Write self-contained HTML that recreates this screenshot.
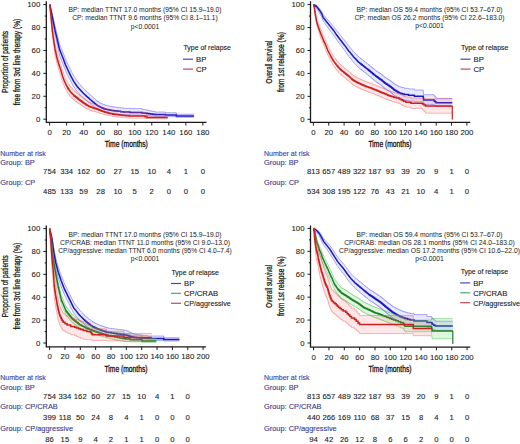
<!DOCTYPE html>
<html><head><meta charset="utf-8"><style>
html,body{margin:0;padding:0;background:#fff;width:520px;height:444px;overflow:hidden}
svg{display:block;font-family:"Liberation Sans", sans-serif}
text{stroke-width:0.12px}
</style></head><body>
<svg width="520" height="444" viewBox="0 0 520 444">
<rect width="520" height="444" fill="#fff"/>
<path d="M46.3,1.2 V122.3 H206.5" fill="none" stroke="#1a1a1a" stroke-width="1.3"/><line x1="43.3" y1="119.20" x2="46.3" y2="119.20" stroke="#1a1a1a" stroke-width="1"/><text x="40.3" y="121.85" font-size="7.8" text-anchor="end" fill="#222" stroke="#222" style="stroke-width:0.08px">0</text><line x1="44.699999999999996" y1="107.74" x2="46.3" y2="107.74" stroke="#1a1a1a" stroke-width="1"/><line x1="43.3" y1="96.28" x2="46.3" y2="96.28" stroke="#1a1a1a" stroke-width="1"/><text x="40.3" y="98.93" font-size="7.8" text-anchor="end" fill="#222" stroke="#222" style="stroke-width:0.08px">20</text><line x1="44.699999999999996" y1="84.82" x2="46.3" y2="84.82" stroke="#1a1a1a" stroke-width="1"/><line x1="43.3" y1="73.36" x2="46.3" y2="73.36" stroke="#1a1a1a" stroke-width="1"/><text x="40.3" y="76.01" font-size="7.8" text-anchor="end" fill="#222" stroke="#222" style="stroke-width:0.08px">40</text><line x1="44.699999999999996" y1="61.90" x2="46.3" y2="61.90" stroke="#1a1a1a" stroke-width="1"/><line x1="43.3" y1="50.44" x2="46.3" y2="50.44" stroke="#1a1a1a" stroke-width="1"/><text x="40.3" y="53.09" font-size="7.8" text-anchor="end" fill="#222" stroke="#222" style="stroke-width:0.08px">60</text><line x1="44.699999999999996" y1="38.98" x2="46.3" y2="38.98" stroke="#1a1a1a" stroke-width="1"/><line x1="43.3" y1="27.52" x2="46.3" y2="27.52" stroke="#1a1a1a" stroke-width="1"/><text x="40.3" y="30.17" font-size="7.8" text-anchor="end" fill="#222" stroke="#222" style="stroke-width:0.08px">80</text><line x1="44.699999999999996" y1="16.06" x2="46.3" y2="16.06" stroke="#1a1a1a" stroke-width="1"/><line x1="43.3" y1="4.60" x2="46.3" y2="4.60" stroke="#1a1a1a" stroke-width="1"/><text x="40.3" y="7.25" font-size="7.8" text-anchor="end" fill="#222" stroke="#222" style="stroke-width:0.08px">100</text><line x1="49.60" y1="122.3" x2="49.60" y2="125.5" stroke="#1a1a1a" stroke-width="1"/><text x="49.6" y="134.8" font-size="7.8" text-anchor="middle" fill="#222" stroke="#222" style="stroke-width:0.08px">0</text><line x1="66.63" y1="122.3" x2="66.63" y2="125.5" stroke="#1a1a1a" stroke-width="1"/><text x="66.63" y="134.8" font-size="7.8" text-anchor="middle" fill="#222" stroke="#222" style="stroke-width:0.08px">20</text><line x1="83.66" y1="122.3" x2="83.66" y2="125.5" stroke="#1a1a1a" stroke-width="1"/><text x="83.66" y="134.8" font-size="7.8" text-anchor="middle" fill="#222" stroke="#222" style="stroke-width:0.08px">40</text><line x1="100.69" y1="122.3" x2="100.69" y2="125.5" stroke="#1a1a1a" stroke-width="1"/><text x="100.69" y="134.8" font-size="7.8" text-anchor="middle" fill="#222" stroke="#222" style="stroke-width:0.08px">60</text><line x1="117.72" y1="122.3" x2="117.72" y2="125.5" stroke="#1a1a1a" stroke-width="1"/><text x="117.72" y="134.8" font-size="7.8" text-anchor="middle" fill="#222" stroke="#222" style="stroke-width:0.08px">80</text><line x1="134.75" y1="122.3" x2="134.75" y2="125.5" stroke="#1a1a1a" stroke-width="1"/><text x="134.75" y="134.8" font-size="7.8" text-anchor="middle" fill="#222" stroke="#222" style="stroke-width:0.08px">100</text><line x1="151.78" y1="122.3" x2="151.78" y2="125.5" stroke="#1a1a1a" stroke-width="1"/><text x="151.78" y="134.8" font-size="7.8" text-anchor="middle" fill="#222" stroke="#222" style="stroke-width:0.08px">120</text><line x1="168.81" y1="122.3" x2="168.81" y2="125.5" stroke="#1a1a1a" stroke-width="1"/><text x="168.81" y="134.8" font-size="7.8" text-anchor="middle" fill="#222" stroke="#222" style="stroke-width:0.08px">140</text><line x1="185.84" y1="122.3" x2="185.84" y2="125.5" stroke="#1a1a1a" stroke-width="1"/><text x="185.84" y="134.8" font-size="7.8" text-anchor="middle" fill="#222" stroke="#222" style="stroke-width:0.08px">160</text><line x1="202.87" y1="122.3" x2="202.87" y2="125.5" stroke="#1a1a1a" stroke-width="1"/><text x="202.87" y="134.8" font-size="7.8" text-anchor="middle" fill="#222" stroke="#222" style="stroke-width:0.08px">180</text><path d="M310.5,1.2 V122.4 H470.3" fill="none" stroke="#1a1a1a" stroke-width="1.3"/><line x1="307.5" y1="119.30" x2="310.5" y2="119.30" stroke="#1a1a1a" stroke-width="1"/><text x="304.5" y="121.95" font-size="7.8" text-anchor="end" fill="#222" stroke="#222" style="stroke-width:0.08px">0</text><line x1="308.9" y1="107.83" x2="310.5" y2="107.83" stroke="#1a1a1a" stroke-width="1"/><line x1="307.5" y1="96.36" x2="310.5" y2="96.36" stroke="#1a1a1a" stroke-width="1"/><text x="304.5" y="99.01" font-size="7.8" text-anchor="end" fill="#222" stroke="#222" style="stroke-width:0.08px">20</text><line x1="308.9" y1="84.89" x2="310.5" y2="84.89" stroke="#1a1a1a" stroke-width="1"/><line x1="307.5" y1="73.42" x2="310.5" y2="73.42" stroke="#1a1a1a" stroke-width="1"/><text x="304.5" y="76.07" font-size="7.8" text-anchor="end" fill="#222" stroke="#222" style="stroke-width:0.08px">40</text><line x1="308.9" y1="61.95" x2="310.5" y2="61.95" stroke="#1a1a1a" stroke-width="1"/><line x1="307.5" y1="50.48" x2="310.5" y2="50.48" stroke="#1a1a1a" stroke-width="1"/><text x="304.5" y="53.13" font-size="7.8" text-anchor="end" fill="#222" stroke="#222" style="stroke-width:0.08px">60</text><line x1="308.9" y1="39.01" x2="310.5" y2="39.01" stroke="#1a1a1a" stroke-width="1"/><line x1="307.5" y1="27.54" x2="310.5" y2="27.54" stroke="#1a1a1a" stroke-width="1"/><text x="304.5" y="30.19" font-size="7.8" text-anchor="end" fill="#222" stroke="#222" style="stroke-width:0.08px">80</text><line x1="308.9" y1="16.07" x2="310.5" y2="16.07" stroke="#1a1a1a" stroke-width="1"/><line x1="307.5" y1="4.60" x2="310.5" y2="4.60" stroke="#1a1a1a" stroke-width="1"/><text x="304.5" y="7.25" font-size="7.8" text-anchor="end" fill="#222" stroke="#222" style="stroke-width:0.08px">100</text><line x1="313.40" y1="122.4" x2="313.40" y2="125.60000000000001" stroke="#1a1a1a" stroke-width="1"/><text x="313.4" y="134.9" font-size="7.8" text-anchor="middle" fill="#222" stroke="#222" style="stroke-width:0.08px">0</text><line x1="328.75" y1="122.4" x2="328.75" y2="125.60000000000001" stroke="#1a1a1a" stroke-width="1"/><text x="328.75" y="134.9" font-size="7.8" text-anchor="middle" fill="#222" stroke="#222" style="stroke-width:0.08px">20</text><line x1="344.10" y1="122.4" x2="344.10" y2="125.60000000000001" stroke="#1a1a1a" stroke-width="1"/><text x="344.1" y="134.9" font-size="7.8" text-anchor="middle" fill="#222" stroke="#222" style="stroke-width:0.08px">40</text><line x1="359.45" y1="122.4" x2="359.45" y2="125.60000000000001" stroke="#1a1a1a" stroke-width="1"/><text x="359.45" y="134.9" font-size="7.8" text-anchor="middle" fill="#222" stroke="#222" style="stroke-width:0.08px">60</text><line x1="374.80" y1="122.4" x2="374.80" y2="125.60000000000001" stroke="#1a1a1a" stroke-width="1"/><text x="374.8" y="134.9" font-size="7.8" text-anchor="middle" fill="#222" stroke="#222" style="stroke-width:0.08px">80</text><line x1="390.15" y1="122.4" x2="390.15" y2="125.60000000000001" stroke="#1a1a1a" stroke-width="1"/><text x="390.15" y="134.9" font-size="7.8" text-anchor="middle" fill="#222" stroke="#222" style="stroke-width:0.08px">100</text><line x1="405.50" y1="122.4" x2="405.50" y2="125.60000000000001" stroke="#1a1a1a" stroke-width="1"/><text x="405.5" y="134.9" font-size="7.8" text-anchor="middle" fill="#222" stroke="#222" style="stroke-width:0.08px">120</text><line x1="420.85" y1="122.4" x2="420.85" y2="125.60000000000001" stroke="#1a1a1a" stroke-width="1"/><text x="420.85" y="134.9" font-size="7.8" text-anchor="middle" fill="#222" stroke="#222" style="stroke-width:0.08px">140</text><line x1="436.20" y1="122.4" x2="436.20" y2="125.60000000000001" stroke="#1a1a1a" stroke-width="1"/><text x="436.2" y="134.9" font-size="7.8" text-anchor="middle" fill="#222" stroke="#222" style="stroke-width:0.08px">160</text><line x1="451.55" y1="122.4" x2="451.55" y2="125.60000000000001" stroke="#1a1a1a" stroke-width="1"/><text x="451.55" y="134.9" font-size="7.8" text-anchor="middle" fill="#222" stroke="#222" style="stroke-width:0.08px">180</text><line x1="466.90" y1="122.4" x2="466.90" y2="125.60000000000001" stroke="#1a1a1a" stroke-width="1"/><text x="466.9" y="134.9" font-size="7.8" text-anchor="middle" fill="#222" stroke="#222" style="stroke-width:0.08px">200</text><path d="M46.3,225.5 V346.8 H206.0" fill="none" stroke="#1a1a1a" stroke-width="1.3"/><line x1="43.3" y1="343.00" x2="46.3" y2="343.00" stroke="#1a1a1a" stroke-width="1"/><text x="40.3" y="345.65" font-size="7.8" text-anchor="end" fill="#222" stroke="#222" style="stroke-width:0.08px">0</text><line x1="44.699999999999996" y1="331.56" x2="46.3" y2="331.56" stroke="#1a1a1a" stroke-width="1"/><line x1="43.3" y1="320.12" x2="46.3" y2="320.12" stroke="#1a1a1a" stroke-width="1"/><text x="40.3" y="322.77" font-size="7.8" text-anchor="end" fill="#222" stroke="#222" style="stroke-width:0.08px">20</text><line x1="44.699999999999996" y1="308.68" x2="46.3" y2="308.68" stroke="#1a1a1a" stroke-width="1"/><line x1="43.3" y1="297.24" x2="46.3" y2="297.24" stroke="#1a1a1a" stroke-width="1"/><text x="40.3" y="299.89" font-size="7.8" text-anchor="end" fill="#222" stroke="#222" style="stroke-width:0.08px">40</text><line x1="44.699999999999996" y1="285.80" x2="46.3" y2="285.80" stroke="#1a1a1a" stroke-width="1"/><line x1="43.3" y1="274.36" x2="46.3" y2="274.36" stroke="#1a1a1a" stroke-width="1"/><text x="40.3" y="277.01" font-size="7.8" text-anchor="end" fill="#222" stroke="#222" style="stroke-width:0.08px">60</text><line x1="44.699999999999996" y1="262.92" x2="46.3" y2="262.92" stroke="#1a1a1a" stroke-width="1"/><line x1="43.3" y1="251.48" x2="46.3" y2="251.48" stroke="#1a1a1a" stroke-width="1"/><text x="40.3" y="254.13" font-size="7.8" text-anchor="end" fill="#222" stroke="#222" style="stroke-width:0.08px">80</text><line x1="44.699999999999996" y1="240.04" x2="46.3" y2="240.04" stroke="#1a1a1a" stroke-width="1"/><line x1="43.3" y1="228.60" x2="46.3" y2="228.60" stroke="#1a1a1a" stroke-width="1"/><text x="40.3" y="231.25" font-size="7.8" text-anchor="end" fill="#222" stroke="#222" style="stroke-width:0.08px">100</text><line x1="49.60" y1="346.8" x2="49.60" y2="350.0" stroke="#1a1a1a" stroke-width="1"/><text x="49.6" y="359.3" font-size="7.8" text-anchor="middle" fill="#222" stroke="#222" style="stroke-width:0.08px">0</text><line x1="64.95" y1="346.8" x2="64.95" y2="350.0" stroke="#1a1a1a" stroke-width="1"/><text x="64.95" y="359.3" font-size="7.8" text-anchor="middle" fill="#222" stroke="#222" style="stroke-width:0.08px">20</text><line x1="80.30" y1="346.8" x2="80.30" y2="350.0" stroke="#1a1a1a" stroke-width="1"/><text x="80.3" y="359.3" font-size="7.8" text-anchor="middle" fill="#222" stroke="#222" style="stroke-width:0.08px">40</text><line x1="95.65" y1="346.8" x2="95.65" y2="350.0" stroke="#1a1a1a" stroke-width="1"/><text x="95.65" y="359.3" font-size="7.8" text-anchor="middle" fill="#222" stroke="#222" style="stroke-width:0.08px">60</text><line x1="111.00" y1="346.8" x2="111.00" y2="350.0" stroke="#1a1a1a" stroke-width="1"/><text x="111.0" y="359.3" font-size="7.8" text-anchor="middle" fill="#222" stroke="#222" style="stroke-width:0.08px">80</text><line x1="126.35" y1="346.8" x2="126.35" y2="350.0" stroke="#1a1a1a" stroke-width="1"/><text x="126.35" y="359.3" font-size="7.8" text-anchor="middle" fill="#222" stroke="#222" style="stroke-width:0.08px">100</text><line x1="141.70" y1="346.8" x2="141.70" y2="350.0" stroke="#1a1a1a" stroke-width="1"/><text x="141.7" y="359.3" font-size="7.8" text-anchor="middle" fill="#222" stroke="#222" style="stroke-width:0.08px">120</text><line x1="157.05" y1="346.8" x2="157.05" y2="350.0" stroke="#1a1a1a" stroke-width="1"/><text x="157.05" y="359.3" font-size="7.8" text-anchor="middle" fill="#222" stroke="#222" style="stroke-width:0.08px">140</text><line x1="172.40" y1="346.8" x2="172.40" y2="350.0" stroke="#1a1a1a" stroke-width="1"/><text x="172.4" y="359.3" font-size="7.8" text-anchor="middle" fill="#222" stroke="#222" style="stroke-width:0.08px">160</text><line x1="187.75" y1="346.8" x2="187.75" y2="350.0" stroke="#1a1a1a" stroke-width="1"/><text x="187.75" y="359.3" font-size="7.8" text-anchor="middle" fill="#222" stroke="#222" style="stroke-width:0.08px">180</text><line x1="203.10" y1="346.8" x2="203.10" y2="350.0" stroke="#1a1a1a" stroke-width="1"/><text x="203.1" y="359.3" font-size="7.8" text-anchor="middle" fill="#222" stroke="#222" style="stroke-width:0.08px">200</text><path d="M310.5,225.5 V347.1 H470.3" fill="none" stroke="#1a1a1a" stroke-width="1.3"/><line x1="307.5" y1="343.00" x2="310.5" y2="343.00" stroke="#1a1a1a" stroke-width="1"/><text x="304.5" y="345.65" font-size="7.8" text-anchor="end" fill="#222" stroke="#222" style="stroke-width:0.08px">0</text><line x1="308.9" y1="331.54" x2="310.5" y2="331.54" stroke="#1a1a1a" stroke-width="1"/><line x1="307.5" y1="320.08" x2="310.5" y2="320.08" stroke="#1a1a1a" stroke-width="1"/><text x="304.5" y="322.73" font-size="7.8" text-anchor="end" fill="#222" stroke="#222" style="stroke-width:0.08px">20</text><line x1="308.9" y1="308.62" x2="310.5" y2="308.62" stroke="#1a1a1a" stroke-width="1"/><line x1="307.5" y1="297.16" x2="310.5" y2="297.16" stroke="#1a1a1a" stroke-width="1"/><text x="304.5" y="299.81" font-size="7.8" text-anchor="end" fill="#222" stroke="#222" style="stroke-width:0.08px">40</text><line x1="308.9" y1="285.70" x2="310.5" y2="285.70" stroke="#1a1a1a" stroke-width="1"/><line x1="307.5" y1="274.24" x2="310.5" y2="274.24" stroke="#1a1a1a" stroke-width="1"/><text x="304.5" y="276.89" font-size="7.8" text-anchor="end" fill="#222" stroke="#222" style="stroke-width:0.08px">60</text><line x1="308.9" y1="262.78" x2="310.5" y2="262.78" stroke="#1a1a1a" stroke-width="1"/><line x1="307.5" y1="251.32" x2="310.5" y2="251.32" stroke="#1a1a1a" stroke-width="1"/><text x="304.5" y="253.97" font-size="7.8" text-anchor="end" fill="#222" stroke="#222" style="stroke-width:0.08px">80</text><line x1="308.9" y1="239.86" x2="310.5" y2="239.86" stroke="#1a1a1a" stroke-width="1"/><line x1="307.5" y1="228.40" x2="310.5" y2="228.40" stroke="#1a1a1a" stroke-width="1"/><text x="304.5" y="231.05" font-size="7.8" text-anchor="end" fill="#222" stroke="#222" style="stroke-width:0.08px">100</text><line x1="313.60" y1="347.1" x2="313.60" y2="350.3" stroke="#1a1a1a" stroke-width="1"/><text x="313.6" y="359.6" font-size="7.8" text-anchor="middle" fill="#222" stroke="#222" style="stroke-width:0.08px">0</text><line x1="328.95" y1="347.1" x2="328.95" y2="350.3" stroke="#1a1a1a" stroke-width="1"/><text x="328.95" y="359.6" font-size="7.8" text-anchor="middle" fill="#222" stroke="#222" style="stroke-width:0.08px">20</text><line x1="344.30" y1="347.1" x2="344.30" y2="350.3" stroke="#1a1a1a" stroke-width="1"/><text x="344.3" y="359.6" font-size="7.8" text-anchor="middle" fill="#222" stroke="#222" style="stroke-width:0.08px">40</text><line x1="359.65" y1="347.1" x2="359.65" y2="350.3" stroke="#1a1a1a" stroke-width="1"/><text x="359.65" y="359.6" font-size="7.8" text-anchor="middle" fill="#222" stroke="#222" style="stroke-width:0.08px">60</text><line x1="375.00" y1="347.1" x2="375.00" y2="350.3" stroke="#1a1a1a" stroke-width="1"/><text x="375.0" y="359.6" font-size="7.8" text-anchor="middle" fill="#222" stroke="#222" style="stroke-width:0.08px">80</text><line x1="390.35" y1="347.1" x2="390.35" y2="350.3" stroke="#1a1a1a" stroke-width="1"/><text x="390.35" y="359.6" font-size="7.8" text-anchor="middle" fill="#222" stroke="#222" style="stroke-width:0.08px">100</text><line x1="405.70" y1="347.1" x2="405.70" y2="350.3" stroke="#1a1a1a" stroke-width="1"/><text x="405.7" y="359.6" font-size="7.8" text-anchor="middle" fill="#222" stroke="#222" style="stroke-width:0.08px">120</text><line x1="421.05" y1="347.1" x2="421.05" y2="350.3" stroke="#1a1a1a" stroke-width="1"/><text x="421.05" y="359.6" font-size="7.8" text-anchor="middle" fill="#222" stroke="#222" style="stroke-width:0.08px">140</text><line x1="436.40" y1="347.1" x2="436.40" y2="350.3" stroke="#1a1a1a" stroke-width="1"/><text x="436.4" y="359.6" font-size="7.8" text-anchor="middle" fill="#222" stroke="#222" style="stroke-width:0.08px">160</text><line x1="451.75" y1="347.1" x2="451.75" y2="350.3" stroke="#1a1a1a" stroke-width="1"/><text x="451.75" y="359.6" font-size="7.8" text-anchor="middle" fill="#222" stroke="#222" style="stroke-width:0.08px">180</text><line x1="467.10" y1="347.1" x2="467.10" y2="350.3" stroke="#1a1a1a" stroke-width="1"/><text x="467.1" y="359.6" font-size="7.8" text-anchor="middle" fill="#222" stroke="#222" style="stroke-width:0.08px">200</text><polygon points="49.6,4.6 49.9,4.7 50.3,5.8 51.4,10.0 55.0,25.7 59.7,44.6 62.9,52.1 65.7,59.6 70.5,69.8 73.7,75.8 77.7,81.9 77.9,81.9 79.9,84.5 80.5,85.0 81.3,86.1 82.3,86.9 82.4,87.3 85.0,89.8 85.7,90.7 85.9,90.7 86.2,91.2 86.4,91.2 86.6,91.6 86.8,91.6 87.6,92.5 87.8,92.5 88.0,92.8 88.4,93.0 88.6,93.4 88.8,93.4 89.4,94.1 90.0,94.5 90.2,94.9 90.4,94.9 90.8,95.5 91.0,95.5 91.0,95.6 91.2,95.6 91.4,96.0 91.8,96.2 92.0,96.6 92.3,96.6 92.7,97.2 92.9,97.2 93.4,97.8 93.6,97.8 93.6,98.0 93.8,98.0 93.8,98.2 94.0,98.2 94.5,98.8 94.7,98.8 95.2,99.4 95.4,99.4 95.4,99.6 95.6,99.6 96.0,100.2 96.3,100.2 96.5,100.6 97.1,100.8 97.1,101.1 97.5,101.1 97.5,101.3 97.8,101.3 97.8,101.5 98.1,101.5 98.1,101.7 98.4,101.7 98.4,101.9 98.7,101.9 98.7,102.1 99.0,102.1 99.0,102.3 99.3,102.3 99.3,102.5 99.7,102.5 99.7,102.7 100.0,102.7 100.0,103.0 100.3,103.0 100.3,103.2 101.3,103.4 101.3,103.6 101.8,103.6 101.8,103.8 102.4,103.8 102.4,104.1 102.9,104.1 102.9,104.3 103.5,104.3 103.5,104.5 104.1,104.5 104.1,104.7 104.6,104.7 104.6,105.0 105.2,105.0 105.2,105.2 105.8,105.2 105.8,105.4 108.0,105.7 108.0,105.9 109.2,105.9 109.2,106.2 110.4,106.2 110.4,106.4 111.7,106.4 111.7,106.7 113.5,106.7 113.5,107.0 115.7,107.0 115.7,107.3 118.0,107.3 118.0,107.6 120.7,107.6 120.7,107.9 123.5,107.9 123.5,108.3 130.0,108.3 130.0,108.6 142.1,108.6 142.1,109.5 145.5,109.5 145.5,109.9 147.2,109.9 147.2,110.3 148.9,110.3 148.9,110.7 150.6,110.7 150.6,111.1 152.7,111.1 152.7,111.5 154.9,111.5 154.9,112.0 165.4,112.0 165.4,112.7 176.3,112.7 176.3,114.2 194.0,114.2 194.0,117.3 176.3,117.3 176.3,116.7 165.4,116.7 165.4,116.5 154.9,116.5 154.9,116.3 150.6,116.1 150.6,116.0 148.9,116.0 148.9,115.8 147.2,115.8 147.2,115.6 145.5,115.6 145.5,115.5 142.1,115.5 142.1,115.2 130.0,115.2 130.0,114.8 123.5,114.8 123.5,114.5 120.7,114.5 120.7,114.2 118.0,114.2 118.0,113.9 115.7,113.9 115.7,113.7 113.5,113.7 113.5,113.4 111.7,113.4 111.7,113.2 110.4,113.2 110.4,113.0 109.2,113.0 109.2,112.8 108.0,112.8 108.0,112.6 105.8,112.4 105.8,112.2 105.2,112.2 105.2,112.1 104.6,112.1 104.6,111.9 104.1,111.9 104.1,111.7 103.5,111.7 103.5,111.5 102.9,111.5 102.9,111.3 101.3,111.0 101.3,110.8 100.3,110.6 100.3,110.5 100.0,110.5 99.7,110.1 99.3,110.1 99.0,109.8 98.7,109.8 98.4,109.4 98.1,109.4 98.1,109.3 97.8,109.3 97.5,108.9 96.5,108.6 96.3,108.2 96.0,108.2 95.6,107.7 95.4,107.7 94.7,107.1 94.5,107.1 94.0,106.5 93.8,106.5 93.6,106.2 92.9,105.9 92.9,105.7 92.7,105.7 92.7,105.5 91.4,104.7 91.2,104.4 90.2,103.7 90.0,103.4 89.4,103.0 89.2,102.7 88.6,102.4 88.4,102.1 88.0,101.9 87.8,101.6 87.6,101.6 87.4,101.3 87.2,101.3 87.0,101.0 86.6,100.8 86.4,100.5 86.2,100.5 85.9,100.0 85.2,99.6 85.0,99.3 81.3,96.0 77.2,91.6 73.7,86.6 70.5,81.0 65.7,71.1 59.6,55.5 55.0,35.4 50.8,13.0 49.9,6.8 49.8,6.7 49.7,7.0 49.7,4.6 49.6,4.6" fill="rgba(95,95,255,0.14)" stroke="none"/><polyline points="49.6,4.6 49.9,4.7 50.3,5.8 51.4,10.0 55.0,25.7 59.7,44.6 62.9,52.1 65.7,59.6 70.5,69.8 73.7,75.8 77.7,81.9 77.9,81.9 79.9,84.5 80.5,85.0 81.3,86.1 82.3,86.9 82.4,87.3 85.0,89.8 85.7,90.7 85.9,90.7 86.2,91.2 86.4,91.2 86.6,91.6 86.8,91.6 87.6,92.5 87.8,92.5 88.0,92.8 88.4,93.0 88.6,93.4 88.8,93.4 89.4,94.1 90.0,94.5 90.2,94.9 90.4,94.9 90.8,95.5 91.0,95.5 91.0,95.6 91.2,95.6 91.4,96.0 91.8,96.2 92.0,96.6 92.3,96.6 92.7,97.2 92.9,97.2 93.4,97.8 93.6,97.8 93.6,98.0 93.8,98.0 93.8,98.2 94.0,98.2 94.5,98.8 94.7,98.8 95.2,99.4 95.4,99.4 95.4,99.6 95.6,99.6 96.0,100.2 96.3,100.2 96.5,100.6 97.1,100.8 97.1,101.1 97.5,101.1 97.5,101.3 97.8,101.3 97.8,101.5 98.1,101.5 98.1,101.7 98.4,101.7 98.4,101.9 98.7,101.9 98.7,102.1 99.0,102.1 99.0,102.3 99.3,102.3 99.3,102.5 99.7,102.5 99.7,102.7 100.0,102.7 100.0,103.0 100.3,103.0 100.3,103.2 101.3,103.4 101.3,103.6 101.8,103.6 101.8,103.8 102.4,103.8 102.4,104.1 102.9,104.1 102.9,104.3 103.5,104.3 103.5,104.5 104.1,104.5 104.1,104.7 104.6,104.7 104.6,105.0 105.2,105.0 105.2,105.2 105.8,105.2 105.8,105.4 108.0,105.7 108.0,105.9 109.2,105.9 109.2,106.2 110.4,106.2 110.4,106.4 111.7,106.4 111.7,106.7 113.5,106.7 113.5,107.0 115.7,107.0 115.7,107.3 118.0,107.3 118.0,107.6 120.7,107.6 120.7,107.9 123.5,107.9 123.5,108.3 130.0,108.3 130.0,108.6 142.1,108.6 142.1,109.5 145.5,109.5 145.5,109.9 147.2,109.9 147.2,110.3 148.9,110.3 148.9,110.7 150.6,110.7 150.6,111.1 152.7,111.1 152.7,111.5 154.9,111.5 154.9,112.0 165.4,112.0 165.4,112.7 176.3,112.7 176.3,114.2 194.0,114.2" fill="none" stroke="rgba(70,70,240,0.55)" stroke-width="0.8"/><polyline points="49.6,4.6 49.7,4.6 49.7,7.0 49.8,6.7 49.9,6.8 50.8,13.0 55.0,35.4 59.6,55.5 65.7,71.1 70.5,81.0 73.7,86.6 77.2,91.6 81.3,96.0 85.0,99.3 85.2,99.6 85.9,100.0 86.2,100.5 86.4,100.5 86.6,100.8 87.0,101.0 87.2,101.3 87.4,101.3 87.6,101.6 87.8,101.6 88.0,101.9 88.4,102.1 88.6,102.4 89.2,102.7 89.4,103.0 90.0,103.4 90.2,103.7 91.2,104.4 91.4,104.7 92.7,105.5 92.7,105.7 92.9,105.7 92.9,105.9 93.6,106.2 93.8,106.5 94.0,106.5 94.5,107.1 94.7,107.1 95.4,107.7 95.6,107.7 96.0,108.2 96.3,108.2 96.5,108.6 97.5,108.9 97.8,109.3 98.1,109.3 98.1,109.4 98.4,109.4 98.7,109.8 99.0,109.8 99.3,110.1 99.7,110.1 100.0,110.5 100.3,110.5 100.3,110.6 101.3,110.8 101.3,111.0 102.9,111.3 102.9,111.5 103.5,111.5 103.5,111.7 104.1,111.7 104.1,111.9 104.6,111.9 104.6,112.1 105.2,112.1 105.2,112.2 105.8,112.2 105.8,112.4 108.0,112.6 108.0,112.8 109.2,112.8 109.2,113.0 110.4,113.0 110.4,113.2 111.7,113.2 111.7,113.4 113.5,113.4 113.5,113.7 115.7,113.7 115.7,113.9 118.0,113.9 118.0,114.2 120.7,114.2 120.7,114.5 123.5,114.5 123.5,114.8 130.0,114.8 130.0,115.2 142.1,115.2 142.1,115.5 145.5,115.5 145.5,115.6 147.2,115.6 147.2,115.8 148.9,115.8 148.9,116.0 150.6,116.0 150.6,116.1 154.9,116.3 154.9,116.5 165.4,116.5 165.4,116.7 176.3,116.7 176.3,117.3 194.0,117.3" fill="none" stroke="rgba(70,70,240,0.55)" stroke-width="0.8"/><polyline points="49.6,4.6 49.9,5.1 51.4,12.4 55.0,30.2 59.6,49.6 63.2,58.5 65.4,64.6 68.0,70.2 70.5,75.4 73.7,81.3 77.2,86.5 80.3,90.1 80.5,90.1 81.3,91.2 82.3,92.0 82.4,92.3 85.0,94.7 85.7,95.5 85.9,95.5 86.2,96.0 87.0,96.5 87.6,97.2 87.8,97.2 88.0,97.6 88.4,97.7 88.6,98.1 88.8,98.1 89.4,98.8 90.0,99.1 90.2,99.5 91.2,100.2 91.4,100.6 92.3,101.1 92.7,101.7 92.9,101.7 93.4,102.3 93.6,102.3 93.6,102.4 93.8,102.4 93.8,102.6 94.0,102.6 94.5,103.2 94.7,103.2 95.2,103.8 95.4,103.8 95.4,103.9 95.6,103.9 96.0,104.5 96.3,104.5 96.5,104.9 97.1,105.1 97.1,105.3 97.5,105.3 97.8,105.7 98.1,105.7 98.1,105.9 98.4,105.9 98.7,106.2 99.0,106.2 99.3,106.6 99.7,106.6 100.0,107.0 100.3,107.0 100.3,107.2 101.3,107.4 101.3,107.6 101.8,107.6 101.8,107.8 102.4,107.8 102.4,108.0 102.9,108.0 102.9,108.2 103.5,108.2 103.5,108.5 104.1,108.5 104.1,108.7 104.6,108.7 104.6,108.9 105.2,108.9 105.2,109.1 105.8,109.1 105.8,109.3 108.0,109.5 108.0,109.7 109.2,109.7 109.2,110.0 110.4,110.0 110.4,110.2 111.7,110.2 111.7,110.5 113.5,110.5 113.5,110.7 115.7,110.7 115.7,111.0 118.0,111.0 118.0,111.3 120.7,111.3 120.7,111.7 123.5,111.7 123.5,112.0 130.0,112.0 130.0,112.4 142.1,112.4 142.1,112.9 145.5,112.9 145.5,113.2 147.2,113.2 147.2,113.5 148.9,113.5 148.9,113.8 150.6,113.8 150.6,114.0 152.7,114.0 152.7,114.3 154.9,114.3 154.9,114.6 165.4,114.6 165.4,115.1 176.3,115.1 176.3,116.0 194.0,116.0" fill="none" stroke="#1a1abe" stroke-width="1.5" stroke-linejoin="miter"/><polygon points="49.6,4.6 49.8,4.6 49.9,5.3 50.7,10.2 52.3,25.7 53.4,33.5 55.0,43.6 57.0,52.4 58.9,58.9 60.9,64.5 62.5,70.3 64.8,76.7 65.7,78.2 65.8,78.8 67.6,82.4 67.7,82.4 68.2,83.4 68.4,83.4 68.4,83.7 68.6,83.7 69.1,84.7 69.3,84.7 69.3,85.0 69.4,85.0 69.4,85.2 69.7,85.2 70.2,86.3 70.3,86.3 70.3,86.5 70.5,86.5 70.5,86.8 70.7,86.8 70.7,87.1 70.9,87.1 71.2,87.6 71.4,87.6 71.7,88.1 72.0,88.1 72.0,88.4 72.2,88.4 72.4,88.9 72.7,88.9 72.9,89.4 73.2,89.4 73.2,89.7 73.4,89.7 73.7,90.2 74.0,90.2 74.0,90.5 74.2,90.5 74.2,90.8 74.5,90.8 74.5,91.1 74.8,91.1 74.8,91.3 75.2,91.3 75.2,91.6 75.5,91.6 75.5,91.9 75.8,91.9 75.8,92.2 76.2,92.2 76.2,92.4 76.5,92.4 76.5,92.7 76.8,92.7 76.8,93.0 77.1,93.0 77.1,93.3 77.5,93.3 77.5,93.6 77.8,93.6 77.8,93.8 78.2,93.8 78.2,94.1 78.5,94.1 78.5,94.4 78.8,94.4 78.8,94.7 79.2,94.7 79.2,95.0 79.6,95.0 79.6,95.3 80.0,95.3 80.0,95.6 80.3,95.6 80.3,95.9 80.7,95.9 80.7,96.2 81.1,96.2 81.1,96.5 81.4,96.5 81.4,96.7 81.8,96.7 81.8,97.0 82.2,97.0 82.2,97.3 82.6,97.3 82.6,97.6 82.9,97.6 82.9,97.9 83.3,97.9 83.3,98.2 83.7,98.2 83.7,98.5 84.0,98.5 84.0,98.8 84.4,98.8 84.4,99.1 84.9,99.1 84.9,99.4 85.3,99.4 85.3,99.7 85.7,99.7 85.7,100.0 86.2,100.0 86.2,100.4 86.6,100.4 86.6,100.7 87.1,100.7 87.1,101.0 87.5,101.0 87.5,101.3 88.0,101.3 88.0,101.6 88.4,101.6 88.4,101.9 88.9,101.9 88.9,102.2 89.6,102.2 89.6,102.5 90.3,102.5 90.3,102.8 91.1,102.8 91.1,103.1 91.8,103.1 91.8,103.5 92.6,103.5 92.6,103.8 93.6,103.8 93.6,104.1 94.6,104.1 94.6,104.4 95.7,104.4 95.7,104.8 96.7,104.8 96.7,105.1 97.5,105.1 97.5,105.5 98.3,105.5 98.3,105.8 99.0,105.8 99.0,106.2 99.8,106.2 99.8,106.5 100.6,106.5 100.6,106.9 101.4,106.9 101.4,107.2 102.2,107.2 102.2,107.6 103.3,107.6 103.3,108.0 104.4,108.0 104.4,108.4 105.5,108.4 105.5,108.7 106.7,108.7 106.7,109.1 107.8,109.1 107.8,109.6 109.3,109.6 109.3,110.0 111.0,110.0 111.0,110.4 112.7,110.4 112.7,110.9 114.7,110.9 114.7,111.3 117.6,111.3 129.2,112.0 144.9,112.0 144.9,113.2 146.0,113.2 146.0,114.3 147.2,114.3 147.2,115.2 167.7,115.2 167.7,118.6 147.2,118.6 147.2,118.5 146.0,118.5 146.0,118.3 144.9,118.3 144.9,118.1 129.2,118.1 129.2,117.9 126.1,117.9 126.1,117.7 123.5,117.7 123.5,117.5 121.3,117.5 121.3,117.2 119.2,117.2 119.2,117.0 117.6,117.0 117.6,116.8 114.7,116.8 114.7,116.4 112.7,116.4 112.7,116.1 111.0,116.1 111.0,115.8 109.3,115.8 109.3,115.5 107.8,115.5 107.8,115.2 106.7,115.2 106.7,114.9 105.5,114.9 105.5,114.6 104.4,114.6 104.4,114.4 103.3,114.4 103.3,114.1 102.2,114.1 102.2,113.8 101.4,113.8 101.4,113.6 100.6,113.6 100.6,113.3 99.8,113.3 99.8,113.0 99.0,113.0 99.0,112.8 98.3,112.8 98.3,112.5 97.5,112.5 97.5,112.2 96.7,112.2 96.7,111.9 95.7,111.9 95.7,111.7 94.6,111.7 94.6,111.4 93.6,111.4 93.6,111.2 92.6,111.2 92.6,110.9 91.8,110.9 91.8,110.7 91.1,110.7 91.1,110.4 90.3,110.4 90.3,110.2 89.6,110.2 89.6,109.9 88.9,109.9 88.9,109.7 88.4,109.7 88.4,109.4 88.0,109.4 88.0,109.2 87.5,109.2 87.5,108.9 87.1,108.9 87.1,108.7 86.6,108.7 86.6,108.4 86.2,108.4 86.2,108.2 85.7,108.2 85.7,107.9 85.3,107.9 85.3,107.7 84.9,107.7 84.9,107.4 84.4,107.4 84.4,107.2 84.0,107.2 84.0,106.9 83.7,106.9 83.7,106.7 83.3,106.7 83.3,106.4 82.9,106.4 82.9,106.2 82.6,106.2 82.6,105.9 82.2,105.9 82.2,105.7 81.8,105.7 81.8,105.4 81.4,105.4 81.4,105.2 81.1,105.2 81.1,104.9 80.3,104.7 80.3,104.4 80.0,104.4 80.0,104.2 79.2,104.0 79.2,103.7 78.8,103.7 78.8,103.5 78.5,103.5 78.5,103.2 78.2,103.2 78.2,103.0 77.8,103.0 77.8,102.7 77.1,102.5 77.1,102.2 76.8,102.2 76.8,102.0 76.5,102.0 76.5,101.8 76.2,101.8 76.2,101.5 75.8,101.5 75.8,101.3 75.5,101.3 75.5,101.0 74.8,100.8 74.8,100.6 74.5,100.6 74.5,100.3 74.2,100.3 74.2,100.1 74.0,100.1 74.0,99.8 73.7,99.8 73.4,99.4 73.2,99.4 73.2,99.1 72.9,99.1 72.7,98.7 72.4,98.7 72.2,98.2 72.0,98.2 72.0,98.0 71.7,98.0 71.7,97.7 71.4,97.7 71.4,97.5 71.2,97.5 70.9,97.0 70.7,97.0 70.0,95.9 69.8,95.9 69.8,95.6 69.7,95.6 69.7,95.4 69.4,95.4 68.8,94.2 68.6,94.2 68.6,94.0 68.4,94.0 68.4,93.8 68.2,93.8 68.2,93.5 68.1,93.5 68.1,93.3 67.9,93.3 67.9,93.0 67.7,93.0 67.7,92.8 67.6,92.8 65.8,89.5 65.7,89.0 64.8,87.6 62.5,81.5 60.6,75.0 58.9,70.4 56.8,62.8 55.0,54.8 52.5,36.9 49.7,6.9 49.7,4.6 49.6,4.6" fill="rgba(255,95,95,0.15)" stroke="none"/><polyline points="49.6,4.6 49.8,4.6 49.9,5.3 50.7,10.2 52.3,25.7 53.4,33.5 55.0,43.6 57.0,52.4 58.9,58.9 60.9,64.5 62.5,70.3 64.8,76.7 65.7,78.2 65.8,78.8 67.6,82.4 67.7,82.4 68.2,83.4 68.4,83.4 68.4,83.7 68.6,83.7 69.1,84.7 69.3,84.7 69.3,85.0 69.4,85.0 69.4,85.2 69.7,85.2 70.2,86.3 70.3,86.3 70.3,86.5 70.5,86.5 70.5,86.8 70.7,86.8 70.7,87.1 70.9,87.1 71.2,87.6 71.4,87.6 71.7,88.1 72.0,88.1 72.0,88.4 72.2,88.4 72.4,88.9 72.7,88.9 72.9,89.4 73.2,89.4 73.2,89.7 73.4,89.7 73.7,90.2 74.0,90.2 74.0,90.5 74.2,90.5 74.2,90.8 74.5,90.8 74.5,91.1 74.8,91.1 74.8,91.3 75.2,91.3 75.2,91.6 75.5,91.6 75.5,91.9 75.8,91.9 75.8,92.2 76.2,92.2 76.2,92.4 76.5,92.4 76.5,92.7 76.8,92.7 76.8,93.0 77.1,93.0 77.1,93.3 77.5,93.3 77.5,93.6 77.8,93.6 77.8,93.8 78.2,93.8 78.2,94.1 78.5,94.1 78.5,94.4 78.8,94.4 78.8,94.7 79.2,94.7 79.2,95.0 79.6,95.0 79.6,95.3 80.0,95.3 80.0,95.6 80.3,95.6 80.3,95.9 80.7,95.9 80.7,96.2 81.1,96.2 81.1,96.5 81.4,96.5 81.4,96.7 81.8,96.7 81.8,97.0 82.2,97.0 82.2,97.3 82.6,97.3 82.6,97.6 82.9,97.6 82.9,97.9 83.3,97.9 83.3,98.2 83.7,98.2 83.7,98.5 84.0,98.5 84.0,98.8 84.4,98.8 84.4,99.1 84.9,99.1 84.9,99.4 85.3,99.4 85.3,99.7 85.7,99.7 85.7,100.0 86.2,100.0 86.2,100.4 86.6,100.4 86.6,100.7 87.1,100.7 87.1,101.0 87.5,101.0 87.5,101.3 88.0,101.3 88.0,101.6 88.4,101.6 88.4,101.9 88.9,101.9 88.9,102.2 89.6,102.2 89.6,102.5 90.3,102.5 90.3,102.8 91.1,102.8 91.1,103.1 91.8,103.1 91.8,103.5 92.6,103.5 92.6,103.8 93.6,103.8 93.6,104.1 94.6,104.1 94.6,104.4 95.7,104.4 95.7,104.8 96.7,104.8 96.7,105.1 97.5,105.1 97.5,105.5 98.3,105.5 98.3,105.8 99.0,105.8 99.0,106.2 99.8,106.2 99.8,106.5 100.6,106.5 100.6,106.9 101.4,106.9 101.4,107.2 102.2,107.2 102.2,107.6 103.3,107.6 103.3,108.0 104.4,108.0 104.4,108.4 105.5,108.4 105.5,108.7 106.7,108.7 106.7,109.1 107.8,109.1 107.8,109.6 109.3,109.6 109.3,110.0 111.0,110.0 111.0,110.4 112.7,110.4 112.7,110.9 114.7,110.9 114.7,111.3 117.6,111.3 129.2,112.0 144.9,112.0 144.9,113.2 146.0,113.2 146.0,114.3 147.2,114.3 147.2,115.2 167.7,115.2" fill="none" stroke="rgba(240,80,80,0.5)" stroke-width="0.8"/><polyline points="49.6,4.6 49.7,4.6 49.7,6.9 52.5,36.9 55.0,54.8 56.8,62.8 58.9,70.4 60.6,75.0 62.5,81.5 64.8,87.6 65.7,89.0 65.8,89.5 67.6,92.8 67.7,92.8 67.7,93.0 67.9,93.0 67.9,93.3 68.1,93.3 68.1,93.5 68.2,93.5 68.2,93.8 68.4,93.8 68.4,94.0 68.6,94.0 68.6,94.2 68.8,94.2 69.4,95.4 69.7,95.4 69.7,95.6 69.8,95.6 69.8,95.9 70.0,95.9 70.7,97.0 70.9,97.0 71.2,97.5 71.4,97.5 71.4,97.7 71.7,97.7 71.7,98.0 72.0,98.0 72.0,98.2 72.2,98.2 72.4,98.7 72.7,98.7 72.9,99.1 73.2,99.1 73.2,99.4 73.4,99.4 73.7,99.8 74.0,99.8 74.0,100.1 74.2,100.1 74.2,100.3 74.5,100.3 74.5,100.6 74.8,100.6 74.8,100.8 75.5,101.0 75.5,101.3 75.8,101.3 75.8,101.5 76.2,101.5 76.2,101.8 76.5,101.8 76.5,102.0 76.8,102.0 76.8,102.2 77.1,102.2 77.1,102.5 77.8,102.7 77.8,103.0 78.2,103.0 78.2,103.2 78.5,103.2 78.5,103.5 78.8,103.5 78.8,103.7 79.2,103.7 79.2,104.0 80.0,104.2 80.0,104.4 80.3,104.4 80.3,104.7 81.1,104.9 81.1,105.2 81.4,105.2 81.4,105.4 81.8,105.4 81.8,105.7 82.2,105.7 82.2,105.9 82.6,105.9 82.6,106.2 82.9,106.2 82.9,106.4 83.3,106.4 83.3,106.7 83.7,106.7 83.7,106.9 84.0,106.9 84.0,107.2 84.4,107.2 84.4,107.4 84.9,107.4 84.9,107.7 85.3,107.7 85.3,107.9 85.7,107.9 85.7,108.2 86.2,108.2 86.2,108.4 86.6,108.4 86.6,108.7 87.1,108.7 87.1,108.9 87.5,108.9 87.5,109.2 88.0,109.2 88.0,109.4 88.4,109.4 88.4,109.7 88.9,109.7 88.9,109.9 89.6,109.9 89.6,110.2 90.3,110.2 90.3,110.4 91.1,110.4 91.1,110.7 91.8,110.7 91.8,110.9 92.6,110.9 92.6,111.2 93.6,111.2 93.6,111.4 94.6,111.4 94.6,111.7 95.7,111.7 95.7,111.9 96.7,111.9 96.7,112.2 97.5,112.2 97.5,112.5 98.3,112.5 98.3,112.8 99.0,112.8 99.0,113.0 99.8,113.0 99.8,113.3 100.6,113.3 100.6,113.6 101.4,113.6 101.4,113.8 102.2,113.8 102.2,114.1 103.3,114.1 103.3,114.4 104.4,114.4 104.4,114.6 105.5,114.6 105.5,114.9 106.7,114.9 106.7,115.2 107.8,115.2 107.8,115.5 109.3,115.5 109.3,115.8 111.0,115.8 111.0,116.1 112.7,116.1 112.7,116.4 114.7,116.4 114.7,116.8 117.6,116.8 117.6,117.0 119.2,117.0 119.2,117.2 121.3,117.2 121.3,117.5 123.5,117.5 123.5,117.7 126.1,117.7 126.1,117.9 129.2,117.9 129.2,118.1 144.9,118.1 144.9,118.3 146.0,118.3 146.0,118.5 147.2,118.5 147.2,118.6 167.7,118.6" fill="none" stroke="rgba(240,80,80,0.5)" stroke-width="0.8"/><polyline points="49.6,4.6 49.8,4.8 50.8,13.9 52.3,30.2 53.4,38.5 55.0,48.9 57.0,58.0 58.9,64.6 60.9,70.2 62.5,75.9 64.8,82.2 65.7,83.7 65.8,84.2 67.6,87.7 67.7,87.7 67.7,87.9 67.9,87.9 67.9,88.2 68.1,88.2 68.1,88.4 68.2,88.4 68.2,88.7 68.4,88.7 68.4,88.9 68.6,88.9 68.6,89.2 68.8,89.2 69.4,90.4 69.7,90.4 69.7,90.7 69.8,90.7 69.8,90.9 70.0,90.9 70.7,92.2 71.2,92.4 71.2,92.7 71.4,92.7 71.7,93.2 72.0,93.2 72.0,93.4 72.2,93.4 72.4,93.9 72.9,94.2 73.2,94.7 73.4,94.7 73.7,95.2 74.0,95.2 74.0,95.5 74.2,95.5 74.2,95.7 74.5,95.7 74.5,96.0 74.8,96.0 74.8,96.2 75.2,96.2 75.2,96.5 75.5,96.5 75.5,96.8 75.8,96.8 75.8,97.0 76.2,97.0 76.2,97.3 76.5,97.3 76.5,97.6 76.8,97.6 76.8,97.8 77.1,97.8 77.1,98.1 77.5,98.1 77.5,98.4 77.8,98.4 77.8,98.6 78.2,98.6 78.2,98.9 78.5,98.9 78.5,99.2 78.8,99.2 78.8,99.4 79.2,99.4 79.2,99.7 79.6,99.7 79.6,100.0 80.0,100.0 80.0,100.2 80.3,100.2 80.3,100.5 80.7,100.5 80.7,100.8 81.1,100.8 81.1,101.1 81.4,101.1 81.4,101.3 81.8,101.3 81.8,101.6 82.2,101.6 82.2,101.9 82.6,101.9 82.6,102.2 82.9,102.2 82.9,102.5 83.3,102.5 83.3,102.7 83.7,102.7 83.7,103.0 84.0,103.0 84.0,103.3 84.4,103.3 84.4,103.6 84.9,103.6 84.9,103.8 85.3,103.8 85.3,104.1 85.7,104.1 85.7,104.4 86.2,104.4 86.2,104.7 86.6,104.7 86.6,105.0 87.1,105.0 87.1,105.2 87.5,105.2 87.5,105.5 88.0,105.5 88.0,105.8 88.4,105.8 88.4,106.1 88.9,106.1 88.9,106.4 89.6,106.4 89.6,106.6 90.3,106.6 90.3,106.9 91.1,106.9 91.1,107.2 91.8,107.2 91.8,107.5 92.6,107.5 92.6,107.8 93.6,107.8 93.6,108.1 94.6,108.1 94.6,108.4 95.7,108.4 95.7,108.7 96.7,108.7 96.7,109.0 97.5,109.0 97.5,109.3 98.3,109.3 98.3,109.7 99.0,109.7 99.0,110.0 99.8,110.0 99.8,110.3 100.6,110.3 100.6,110.6 101.4,110.6 101.4,110.9 102.2,110.9 102.2,111.3 103.3,111.3 103.3,111.6 104.4,111.6 104.4,111.9 105.5,111.9 105.5,112.3 106.7,112.3 106.7,112.6 107.8,112.6 107.8,113.0 109.3,113.0 109.3,113.4 111.0,113.4 111.0,113.8 112.7,113.8 112.7,114.2 114.7,114.2 114.7,114.6 117.6,114.6 117.6,114.8 119.2,114.8 119.2,115.0 121.3,115.0 121.3,115.3 123.5,115.3 123.5,115.5 126.1,115.5 126.1,115.8 129.2,115.8 129.2,116.1 144.9,116.1 144.9,116.6 146.0,116.6 146.0,117.1 147.2,117.1 147.2,117.5 167.7,117.5" fill="none" stroke="#cc2020" stroke-width="1.5" stroke-linejoin="miter"/><polygon points="313.4,4.6 314.6,4.8 316.4,5.3 319.1,7.9 321.6,11.2 323.3,14.7 333.8,26.7 336.5,30.4 344.6,40.3 348.7,46.0 349.4,46.6 351.8,49.6 352.1,49.8 353.4,51.5 354.5,52.7 354.7,52.7 355.6,53.8 355.8,53.8 356.6,54.8 356.8,54.8 357.2,55.5 357.4,55.5 357.9,56.2 358.1,56.2 358.5,56.9 359.4,57.4 359.6,57.7 359.9,57.7 360.3,58.2 360.6,58.2 360.6,58.4 360.8,58.4 360.8,58.6 361.0,58.6 361.0,58.8 361.3,58.8 361.7,59.3 361.9,59.3 361.9,59.5 362.2,59.5 362.2,59.7 362.4,59.7 362.4,59.9 362.7,59.9 363.1,60.4 363.4,60.4 363.4,60.6 363.9,60.8 363.9,61.0 364.1,61.0 364.4,61.4 364.6,61.4 364.6,61.6 364.9,61.6 365.1,61.9 365.4,61.9 365.6,62.3 365.9,62.3 366.1,62.7 366.6,62.9 366.6,63.1 367.1,63.3 367.4,63.7 367.6,63.7 367.9,64.1 368.2,64.1 368.2,64.4 368.4,64.4 368.4,64.6 368.7,64.6 368.7,64.8 369.0,64.8 369.0,65.0 369.2,65.0 369.2,65.2 369.5,65.2 369.5,65.4 369.8,65.4 369.8,65.6 370.0,65.6 370.0,65.8 370.3,65.8 370.5,66.3 370.8,66.3 371.1,66.7 371.3,66.7 371.3,66.9 371.6,66.9 371.6,67.1 371.9,67.1 371.9,67.3 372.2,67.3 372.2,67.6 372.4,67.6 372.4,67.8 372.7,67.8 372.7,68.0 373.0,68.0 373.0,68.2 373.2,68.2 373.2,68.5 373.5,68.5 373.5,68.7 373.8,68.7 373.8,68.9 374.0,68.9 374.0,69.1 374.3,69.1 374.6,69.6 374.9,69.6 374.9,69.8 375.5,70.1 375.7,70.5 376.0,70.5 376.0,70.8 376.4,70.8 376.4,71.0 376.8,71.0 376.8,71.3 377.1,71.3 377.1,71.5 377.5,71.5 377.5,71.8 378.3,72.0 378.3,72.3 378.6,72.3 378.6,72.5 379.0,72.5 379.0,72.8 379.4,72.8 379.4,73.1 379.8,73.1 379.8,73.3 380.2,73.3 380.2,73.6 380.6,73.6 380.6,73.9 381.1,73.9 381.1,74.1 381.4,74.1 381.4,74.4 381.7,74.4 381.7,74.7 382.1,74.7 382.1,75.0 382.4,75.0 382.4,75.2 382.7,75.2 382.7,75.5 383.1,75.5 383.1,75.8 383.4,75.8 383.4,76.1 383.8,76.1 383.8,76.4 384.2,76.4 384.2,76.7 384.5,76.7 384.5,77.0 384.9,77.0 384.9,77.3 385.3,77.3 385.3,77.6 385.8,77.6 385.8,77.9 386.3,77.9 386.3,78.2 386.8,78.2 386.8,78.5 387.3,78.5 387.3,78.9 387.8,78.9 387.8,79.2 388.4,79.2 388.4,79.5 388.9,79.5 388.9,79.8 389.5,79.8 389.5,80.2 390.0,80.2 390.0,80.5 390.5,80.5 390.5,80.9 390.9,80.9 390.9,81.2 391.3,81.2 391.3,81.6 391.8,81.6 391.8,81.9 392.2,81.9 392.2,82.3 392.7,82.3 392.7,82.7 393.2,82.7 393.2,83.0 393.6,83.0 393.6,83.4 394.1,83.4 394.1,83.8 394.6,83.8 394.6,84.2 395.3,84.2 395.3,84.6 396.1,84.6 396.1,85.0 396.8,85.0 396.8,85.4 397.6,85.4 397.6,85.9 398.4,85.9 398.4,86.3 399.2,86.3 399.2,86.8 400.6,86.8 400.6,87.2 402.3,87.2 402.3,87.7 404.3,87.7 404.3,88.3 408.4,88.3 408.4,88.9 414.4,88.9 414.4,90.0 423.2,90.0 423.2,91.6 423.4,91.6 423.6,94.7 434.1,94.7 434.1,95.9 435.2,95.9 435.2,97.1 436.2,97.1 436.2,98.4 452.3,98.4 452.3,106.8 436.2,106.8 436.2,106.1 435.2,106.1 435.2,105.3 434.1,105.3 434.1,104.6 423.6,104.6 423.4,102.8 423.2,102.8 423.2,101.8 414.4,101.8 414.4,101.1 408.4,101.1 408.4,100.4 404.3,100.4 404.3,99.7 402.3,99.7 402.3,99.2 400.6,99.2 400.6,98.6 399.2,98.6 399.2,98.1 398.4,98.1 398.4,97.7 397.6,97.7 397.6,97.2 396.8,97.2 396.8,96.8 396.1,96.8 396.1,96.3 395.3,96.3 395.3,95.9 394.6,95.9 394.6,95.5 394.1,95.5 394.1,95.1 393.6,95.1 393.6,94.7 393.2,94.7 393.2,94.3 392.7,94.3 392.7,93.9 392.2,93.9 392.2,93.5 391.8,93.5 391.8,93.1 391.3,93.1 391.3,92.8 390.9,92.8 390.9,92.4 390.5,92.4 390.5,92.0 390.0,92.0 390.0,91.7 389.5,91.7 389.5,91.3 388.9,91.3 388.9,91.0 388.4,91.0 388.4,90.6 387.8,90.6 387.8,90.3 387.3,90.3 387.3,89.9 386.8,89.9 386.8,89.6 386.3,89.6 386.3,89.3 385.8,89.3 385.8,89.0 385.3,89.0 385.3,88.6 384.9,88.6 384.9,88.3 384.5,88.3 384.5,88.0 384.2,88.0 384.2,87.7 383.8,87.7 383.8,87.4 383.4,87.4 383.4,87.1 383.1,87.1 383.1,86.8 382.7,86.8 382.7,86.5 382.4,86.5 382.4,86.2 382.1,86.2 382.1,85.9 381.7,85.9 381.7,85.6 381.4,85.6 381.4,85.3 381.1,85.3 381.1,85.1 380.6,85.1 380.6,84.8 380.2,84.8 380.2,84.5 379.8,84.5 379.8,84.2 379.4,84.2 379.4,84.0 379.0,84.0 379.0,83.7 378.6,83.7 378.6,83.4 378.3,83.4 378.3,83.2 377.9,83.2 377.9,82.9 377.5,82.9 377.5,82.6 377.1,82.6 377.1,82.4 376.8,82.4 376.8,82.1 376.4,82.1 376.4,81.9 376.0,81.9 376.0,81.6 375.7,81.6 375.7,81.4 375.5,81.4 375.2,80.9 374.9,80.9 374.9,80.7 374.6,80.7 374.3,80.2 374.0,80.2 374.0,80.0 373.8,80.0 373.8,79.7 373.5,79.7 373.5,79.5 373.2,79.5 373.2,79.3 373.0,79.3 373.0,79.0 372.7,79.0 372.7,78.8 372.4,78.8 372.4,78.6 372.2,78.6 372.2,78.4 371.9,78.4 371.9,78.1 371.6,78.1 371.6,77.9 371.3,77.9 371.3,77.7 371.1,77.7 370.8,77.2 370.5,77.2 370.5,77.0 370.0,76.8 370.0,76.6 369.8,76.6 369.8,76.3 369.5,76.3 369.5,76.1 369.2,76.1 369.2,75.9 369.0,75.9 368.7,75.5 368.4,75.5 368.4,75.3 368.2,75.3 368.2,75.1 367.9,75.1 367.6,74.6 367.4,74.6 367.1,74.2 366.6,74.0 366.6,73.8 366.1,73.6 365.9,73.2 365.6,73.2 365.4,72.8 365.1,72.8 364.9,72.4 364.6,72.4 364.6,72.2 364.4,72.2 364.1,71.8 363.9,71.8 363.9,71.6 363.4,71.4 363.4,71.2 363.1,71.2 363.1,71.0 362.9,71.0 362.7,70.7 362.4,70.7 362.4,70.5 362.2,70.5 362.2,70.3 361.9,70.3 361.9,70.1 361.7,70.1 361.7,69.9 361.5,69.9 361.5,69.7 361.3,69.7 361.3,69.5 361.0,69.5 361.0,69.4 360.8,69.4 360.8,69.2 360.6,69.2 360.6,69.0 360.3,69.0 359.9,68.5 359.6,68.5 359.4,68.1 358.5,67.6 358.1,66.9 357.9,66.9 357.4,66.2 357.2,66.2 356.8,65.5 356.6,65.5 355.8,64.5 355.6,64.5 354.7,63.3 354.5,63.3 353.4,62.1 352.1,60.3 351.8,60.1 350.9,58.8 349.6,57.5 349.4,57.0 348.7,56.4 344.6,50.3 336.5,39.6 333.8,35.4 331.4,32.4 323.3,21.4 321.6,16.9 319.1,12.3 318.4,11.4 316.4,8.0 315.9,7.8 315.6,7.4 315.4,7.4 315.4,7.2 315.1,7.2 315.1,7.0 314.3,6.6 314.3,6.4 313.6,6.4 313.6,4.6 313.4,4.6" fill="rgba(95,95,255,0.14)" stroke="none"/><polyline points="313.4,4.6 314.6,4.8 316.4,5.3 319.1,7.9 321.6,11.2 323.3,14.7 333.8,26.7 336.5,30.4 344.6,40.3 348.7,46.0 349.4,46.6 351.8,49.6 352.1,49.8 353.4,51.5 354.5,52.7 354.7,52.7 355.6,53.8 355.8,53.8 356.6,54.8 356.8,54.8 357.2,55.5 357.4,55.5 357.9,56.2 358.1,56.2 358.5,56.9 359.4,57.4 359.6,57.7 359.9,57.7 360.3,58.2 360.6,58.2 360.6,58.4 360.8,58.4 360.8,58.6 361.0,58.6 361.0,58.8 361.3,58.8 361.7,59.3 361.9,59.3 361.9,59.5 362.2,59.5 362.2,59.7 362.4,59.7 362.4,59.9 362.7,59.9 363.1,60.4 363.4,60.4 363.4,60.6 363.9,60.8 363.9,61.0 364.1,61.0 364.4,61.4 364.6,61.4 364.6,61.6 364.9,61.6 365.1,61.9 365.4,61.9 365.6,62.3 365.9,62.3 366.1,62.7 366.6,62.9 366.6,63.1 367.1,63.3 367.4,63.7 367.6,63.7 367.9,64.1 368.2,64.1 368.2,64.4 368.4,64.4 368.4,64.6 368.7,64.6 368.7,64.8 369.0,64.8 369.0,65.0 369.2,65.0 369.2,65.2 369.5,65.2 369.5,65.4 369.8,65.4 369.8,65.6 370.0,65.6 370.0,65.8 370.3,65.8 370.5,66.3 370.8,66.3 371.1,66.7 371.3,66.7 371.3,66.9 371.6,66.9 371.6,67.1 371.9,67.1 371.9,67.3 372.2,67.3 372.2,67.6 372.4,67.6 372.4,67.8 372.7,67.8 372.7,68.0 373.0,68.0 373.0,68.2 373.2,68.2 373.2,68.5 373.5,68.5 373.5,68.7 373.8,68.7 373.8,68.9 374.0,68.9 374.0,69.1 374.3,69.1 374.6,69.6 374.9,69.6 374.9,69.8 375.5,70.1 375.7,70.5 376.0,70.5 376.0,70.8 376.4,70.8 376.4,71.0 376.8,71.0 376.8,71.3 377.1,71.3 377.1,71.5 377.5,71.5 377.5,71.8 378.3,72.0 378.3,72.3 378.6,72.3 378.6,72.5 379.0,72.5 379.0,72.8 379.4,72.8 379.4,73.1 379.8,73.1 379.8,73.3 380.2,73.3 380.2,73.6 380.6,73.6 380.6,73.9 381.1,73.9 381.1,74.1 381.4,74.1 381.4,74.4 381.7,74.4 381.7,74.7 382.1,74.7 382.1,75.0 382.4,75.0 382.4,75.2 382.7,75.2 382.7,75.5 383.1,75.5 383.1,75.8 383.4,75.8 383.4,76.1 383.8,76.1 383.8,76.4 384.2,76.4 384.2,76.7 384.5,76.7 384.5,77.0 384.9,77.0 384.9,77.3 385.3,77.3 385.3,77.6 385.8,77.6 385.8,77.9 386.3,77.9 386.3,78.2 386.8,78.2 386.8,78.5 387.3,78.5 387.3,78.9 387.8,78.9 387.8,79.2 388.4,79.2 388.4,79.5 388.9,79.5 388.9,79.8 389.5,79.8 389.5,80.2 390.0,80.2 390.0,80.5 390.5,80.5 390.5,80.9 390.9,80.9 390.9,81.2 391.3,81.2 391.3,81.6 391.8,81.6 391.8,81.9 392.2,81.9 392.2,82.3 392.7,82.3 392.7,82.7 393.2,82.7 393.2,83.0 393.6,83.0 393.6,83.4 394.1,83.4 394.1,83.8 394.6,83.8 394.6,84.2 395.3,84.2 395.3,84.6 396.1,84.6 396.1,85.0 396.8,85.0 396.8,85.4 397.6,85.4 397.6,85.9 398.4,85.9 398.4,86.3 399.2,86.3 399.2,86.8 400.6,86.8 400.6,87.2 402.3,87.2 402.3,87.7 404.3,87.7 404.3,88.3 408.4,88.3 408.4,88.9 414.4,88.9 414.4,90.0 423.2,90.0 423.2,91.6 423.4,91.6 423.6,94.7 434.1,94.7 434.1,95.9 435.2,95.9 435.2,97.1 436.2,97.1 436.2,98.4 452.3,98.4" fill="none" stroke="rgba(70,70,240,0.55)" stroke-width="0.8"/><polyline points="313.4,4.6 313.6,4.6 313.6,6.4 314.3,6.4 314.3,6.6 315.1,7.0 315.1,7.2 315.4,7.2 315.4,7.4 315.6,7.4 315.9,7.8 316.4,8.0 318.4,11.4 319.1,12.3 321.6,16.9 323.3,21.4 331.4,32.4 333.8,35.4 336.5,39.6 344.6,50.3 348.7,56.4 349.4,57.0 349.6,57.5 350.9,58.8 351.8,60.1 352.1,60.3 353.4,62.1 354.5,63.3 354.7,63.3 355.6,64.5 355.8,64.5 356.6,65.5 356.8,65.5 357.2,66.2 357.4,66.2 357.9,66.9 358.1,66.9 358.5,67.6 359.4,68.1 359.6,68.5 359.9,68.5 360.3,69.0 360.6,69.0 360.6,69.2 360.8,69.2 360.8,69.4 361.0,69.4 361.0,69.5 361.3,69.5 361.3,69.7 361.5,69.7 361.5,69.9 361.7,69.9 361.7,70.1 361.9,70.1 361.9,70.3 362.2,70.3 362.2,70.5 362.4,70.5 362.4,70.7 362.7,70.7 362.9,71.0 363.1,71.0 363.1,71.2 363.4,71.2 363.4,71.4 363.9,71.6 363.9,71.8 364.1,71.8 364.4,72.2 364.6,72.2 364.6,72.4 364.9,72.4 365.1,72.8 365.4,72.8 365.6,73.2 365.9,73.2 366.1,73.6 366.6,73.8 366.6,74.0 367.1,74.2 367.4,74.6 367.6,74.6 367.9,75.1 368.2,75.1 368.2,75.3 368.4,75.3 368.4,75.5 368.7,75.5 369.0,75.9 369.2,75.9 369.2,76.1 369.5,76.1 369.5,76.3 369.8,76.3 369.8,76.6 370.0,76.6 370.0,76.8 370.5,77.0 370.5,77.2 370.8,77.2 371.1,77.7 371.3,77.7 371.3,77.9 371.6,77.9 371.6,78.1 371.9,78.1 371.9,78.4 372.2,78.4 372.2,78.6 372.4,78.6 372.4,78.8 372.7,78.8 372.7,79.0 373.0,79.0 373.0,79.3 373.2,79.3 373.2,79.5 373.5,79.5 373.5,79.7 373.8,79.7 373.8,80.0 374.0,80.0 374.0,80.2 374.3,80.2 374.6,80.7 374.9,80.7 374.9,80.9 375.2,80.9 375.5,81.4 375.7,81.4 375.7,81.6 376.0,81.6 376.0,81.9 376.4,81.9 376.4,82.1 376.8,82.1 376.8,82.4 377.1,82.4 377.1,82.6 377.5,82.6 377.5,82.9 377.9,82.9 377.9,83.2 378.3,83.2 378.3,83.4 378.6,83.4 378.6,83.7 379.0,83.7 379.0,84.0 379.4,84.0 379.4,84.2 379.8,84.2 379.8,84.5 380.2,84.5 380.2,84.8 380.6,84.8 380.6,85.1 381.1,85.1 381.1,85.3 381.4,85.3 381.4,85.6 381.7,85.6 381.7,85.9 382.1,85.9 382.1,86.2 382.4,86.2 382.4,86.5 382.7,86.5 382.7,86.8 383.1,86.8 383.1,87.1 383.4,87.1 383.4,87.4 383.8,87.4 383.8,87.7 384.2,87.7 384.2,88.0 384.5,88.0 384.5,88.3 384.9,88.3 384.9,88.6 385.3,88.6 385.3,89.0 385.8,89.0 385.8,89.3 386.3,89.3 386.3,89.6 386.8,89.6 386.8,89.9 387.3,89.9 387.3,90.3 387.8,90.3 387.8,90.6 388.4,90.6 388.4,91.0 388.9,91.0 388.9,91.3 389.5,91.3 389.5,91.7 390.0,91.7 390.0,92.0 390.5,92.0 390.5,92.4 390.9,92.4 390.9,92.8 391.3,92.8 391.3,93.1 391.8,93.1 391.8,93.5 392.2,93.5 392.2,93.9 392.7,93.9 392.7,94.3 393.2,94.3 393.2,94.7 393.6,94.7 393.6,95.1 394.1,95.1 394.1,95.5 394.6,95.5 394.6,95.9 395.3,95.9 395.3,96.3 396.1,96.3 396.1,96.8 396.8,96.8 396.8,97.2 397.6,97.2 397.6,97.7 398.4,97.7 398.4,98.1 399.2,98.1 399.2,98.6 400.6,98.6 400.6,99.2 402.3,99.2 402.3,99.7 404.3,99.7 404.3,100.4 408.4,100.4 408.4,101.1 414.4,101.1 414.4,101.8 423.2,101.8 423.2,102.8 423.4,102.8 423.6,104.6 434.1,104.6 434.1,105.3 435.2,105.3 435.2,106.1 436.2,106.1 436.2,106.8 452.3,106.8" fill="none" stroke="rgba(70,70,240,0.55)" stroke-width="0.8"/><polyline points="313.4,4.6 314.9,5.3 315.1,5.6 315.4,5.6 315.4,5.7 315.6,5.7 315.6,5.9 315.9,5.9 315.9,6.0 316.2,6.0 316.2,6.2 316.4,6.2 316.9,6.8 319.1,9.7 321.5,13.3 323.3,17.7 333.8,30.7 336.5,34.8 344.3,44.9 344.4,44.9 348.7,51.0 349.4,51.6 351.8,54.7 352.1,54.9 353.4,56.7 354.5,57.8 354.7,57.8 355.6,59.0 355.8,59.0 356.6,60.0 356.8,60.0 357.2,60.7 357.4,60.7 357.9,61.4 358.1,61.4 358.5,62.1 359.4,62.6 359.6,63.0 359.9,63.0 360.3,63.5 360.6,63.5 360.6,63.7 360.8,63.7 360.8,63.9 361.0,63.9 361.0,64.1 361.3,64.1 361.7,64.6 361.9,64.6 361.9,64.8 362.2,64.8 362.2,65.0 362.4,65.0 362.4,65.2 362.7,65.2 363.1,65.7 363.4,65.7 363.4,65.9 363.9,66.1 363.9,66.3 364.1,66.3 364.4,66.7 364.6,66.7 364.6,66.9 364.9,66.9 365.1,67.3 365.4,67.3 365.6,67.7 365.9,67.7 366.1,68.1 366.6,68.3 366.6,68.5 367.1,68.7 367.4,69.1 367.6,69.1 367.9,69.5 368.2,69.5 368.2,69.8 368.4,69.8 368.4,70.0 368.7,70.0 368.7,70.2 369.0,70.2 369.0,70.4 369.2,70.4 369.2,70.6 369.5,70.6 369.5,70.8 369.8,70.8 369.8,71.0 370.0,71.0 370.0,71.3 370.3,71.3 370.5,71.7 370.8,71.7 371.1,72.1 371.3,72.1 371.3,72.4 371.6,72.4 371.6,72.6 371.9,72.6 371.9,72.8 372.2,72.8 372.2,73.0 372.4,73.0 372.7,73.5 373.0,73.5 373.0,73.7 373.2,73.7 373.2,74.0 373.5,74.0 373.5,74.2 373.8,74.2 373.8,74.4 374.0,74.4 374.0,74.7 374.3,74.7 374.6,75.1 374.9,75.1 374.9,75.4 375.5,75.6 375.7,76.1 376.0,76.1 376.0,76.3 376.4,76.3 376.4,76.6 376.8,76.6 376.8,76.8 377.1,76.8 377.1,77.1 377.5,77.1 377.5,77.3 377.9,77.3 377.9,77.6 378.3,77.6 378.3,77.9 378.6,77.9 378.6,78.1 379.0,78.1 379.0,78.4 379.4,78.4 379.4,78.7 379.8,78.7 379.8,78.9 380.2,78.9 380.2,79.2 380.6,79.2 380.6,79.5 381.1,79.5 381.1,79.8 381.4,79.8 381.4,80.0 381.7,80.0 381.7,80.3 382.1,80.3 382.1,80.6 382.4,80.6 382.4,80.9 382.7,80.9 382.7,81.2 383.1,81.2 383.1,81.5 383.4,81.5 383.4,81.8 383.8,81.8 383.8,82.1 384.2,82.1 384.2,82.4 384.5,82.4 384.5,82.7 384.9,82.7 384.9,83.0 385.3,83.0 385.3,83.3 385.8,83.3 385.8,83.7 386.3,83.7 386.3,84.0 386.8,84.0 386.8,84.3 387.3,84.3 387.3,84.6 387.8,84.6 387.8,85.0 388.4,85.0 388.4,85.3 388.9,85.3 388.9,85.7 389.5,85.7 389.5,86.0 390.0,86.0 390.0,86.4 390.5,86.4 390.5,86.7 390.9,86.7 390.9,87.1 391.3,87.1 391.3,87.5 391.8,87.5 391.8,87.8 392.2,87.8 392.2,88.2 392.7,88.2 392.7,88.6 393.2,88.6 393.2,89.0 393.6,89.0 393.6,89.4 394.1,89.4 394.1,89.8 394.6,89.8 394.6,90.2 395.3,90.2 395.3,90.6 396.1,90.6 396.1,91.1 396.8,91.1 396.8,91.5 397.6,91.5 397.6,92.0 398.4,92.0 398.4,92.4 399.2,92.4 399.2,92.9 400.6,92.9 400.6,93.4 402.3,93.4 402.3,94.0 404.3,94.0 404.3,94.6 408.4,94.6 408.4,95.3 414.4,95.3 414.4,96.2 423.2,96.2 423.2,97.5 423.4,97.5 423.6,99.9 434.1,99.9 434.1,100.9 435.2,100.9 435.2,101.9 436.2,101.9 436.2,102.8 452.3,102.8" fill="none" stroke="#1a1abe" stroke-width="1.5" stroke-linejoin="miter"/><polygon points="313.4,4.6 313.7,4.6 314.3,5.6 316.5,17.6 318.5,23.9 320.8,29.6 325.7,40.5 327.9,46.0 330.4,50.7 330.6,51.3 330.8,51.3 331.8,53.3 331.9,53.3 333.3,55.9 333.5,55.9 334.1,57.0 334.3,57.0 335.1,58.3 335.3,58.3 335.6,59.0 335.7,59.0 335.7,59.2 335.9,59.2 336.1,59.6 336.3,59.6 336.3,59.8 336.5,59.8 336.5,60.1 336.8,60.3 336.8,60.5 337.0,60.5 337.4,61.2 337.6,61.2 337.6,61.4 337.8,61.4 337.8,61.6 338.0,61.6 338.0,61.9 338.2,61.9 338.2,62.1 338.3,62.1 338.3,62.3 338.5,62.3 338.5,62.6 338.7,62.6 338.7,62.8 338.9,62.8 339.5,63.7 340.0,63.9 340.0,64.2 340.2,64.2 340.2,64.4 340.5,64.4 340.5,64.6 340.8,64.6 340.8,64.8 341.0,64.8 341.0,65.1 341.3,65.1 341.6,65.6 341.9,65.6 341.9,65.8 342.1,65.8 342.1,66.0 342.4,66.0 342.7,66.5 343.0,66.5 343.0,66.7 343.3,66.7 343.6,67.2 343.8,67.2 343.8,67.5 344.1,67.5 344.1,67.7 344.4,67.7 344.4,68.0 344.8,68.0 344.8,68.2 345.1,68.2 345.3,68.7 345.6,68.7 345.6,68.9 346.0,68.9 346.0,69.2 346.3,69.2 346.3,69.4 346.6,69.4 346.6,69.7 346.9,69.7 346.9,69.9 347.2,69.9 347.2,70.2 347.5,70.2 347.5,70.4 347.8,70.4 347.8,70.7 348.2,70.7 348.2,71.0 348.5,71.0 348.5,71.2 348.8,71.2 349.1,71.7 349.3,71.7 349.3,72.0 349.6,72.0 349.9,72.5 350.2,72.5 350.2,72.8 350.5,72.8 350.7,73.3 351.0,73.3 351.3,73.8 351.6,73.8 351.6,74.1 351.9,74.1 351.9,74.4 352.2,74.4 352.2,74.6 352.5,74.6 352.5,74.9 352.9,74.9 352.9,75.2 353.3,75.2 353.3,75.4 353.7,75.4 353.7,75.7 354.1,75.7 354.1,76.0 354.5,76.0 354.5,76.3 354.9,76.3 354.9,76.5 355.4,76.5 355.4,76.8 356.0,76.8 356.0,77.1 356.5,77.1 356.5,77.4 357.0,77.4 357.0,77.7 357.6,77.7 357.6,78.0 358.1,78.0 358.1,78.3 358.7,78.3 358.7,78.5 359.3,78.5 359.3,78.8 359.9,78.8 359.9,79.1 360.6,79.1 360.6,79.4 361.3,79.4 361.3,79.8 362.0,79.8 362.0,80.1 362.8,80.1 362.8,80.4 363.5,80.4 363.5,80.7 364.2,80.7 364.2,81.0 365.0,81.0 365.0,81.4 365.8,81.4 365.8,81.7 366.7,81.7 366.7,82.0 367.7,82.0 367.7,82.4 368.6,82.4 368.6,82.7 369.6,82.7 369.6,83.1 370.6,83.1 370.6,83.4 371.7,83.4 371.7,83.8 372.7,83.8 372.7,84.2 373.7,84.2 373.7,84.6 374.6,84.6 374.6,85.0 375.6,85.0 375.6,85.4 376.6,85.4 376.6,85.8 377.6,85.8 377.6,86.2 378.6,86.2 378.6,86.6 379.6,86.6 379.6,87.1 380.7,87.1 380.7,87.5 381.7,87.5 381.7,88.0 382.8,88.0 382.8,88.4 383.9,88.4 383.9,88.9 385.1,88.9 385.1,89.4 386.2,89.4 386.2,89.9 387.6,89.9 387.6,90.4 389.0,90.4 389.0,90.9 390.5,90.9 390.5,91.5 392.1,91.5 392.1,92.1 393.9,92.1 393.9,92.7 396.5,92.7 396.5,93.3 399.3,93.3 399.3,94.0 401.0,94.0 401.0,94.7 402.3,94.7 402.3,95.5 403.6,95.5 403.6,96.3 405.9,96.3 405.9,97.1 411.0,97.1 411.0,98.1 424.0,98.2 424.0,98.4 425.5,98.4 425.5,98.8 452.3,98.8 452.3,113.2 425.5,113.2 425.5,111.7 424.0,111.7 424.0,110.1 422.5,110.1 422.5,108.4 411.0,108.4 411.0,107.2 405.9,107.2 405.9,106.3 403.6,106.3 403.6,105.5 402.3,105.5 402.3,104.6 401.0,104.6 401.0,103.8 399.3,103.8 399.3,103.0 396.5,103.0 396.5,102.3 393.9,102.3 393.9,101.6 392.1,101.6 392.1,101.0 390.5,101.0 390.5,100.5 389.0,100.5 389.0,99.9 387.6,99.9 387.6,99.4 386.2,99.4 386.2,98.9 385.1,98.9 385.1,98.4 383.9,98.4 383.9,97.9 382.8,97.9 382.8,97.4 381.7,97.4 381.7,96.9 380.7,96.9 380.7,96.5 379.6,96.5 379.6,96.0 378.6,96.0 378.6,95.6 377.6,95.6 377.6,95.2 376.6,95.2 376.6,94.8 375.6,94.8 375.6,94.3 374.6,94.3 374.6,94.0 373.7,94.0 373.7,93.6 372.7,93.6 372.7,93.2 371.7,93.2 371.7,92.8 370.6,92.8 370.6,92.4 369.6,92.4 369.6,92.1 368.6,92.1 368.6,91.7 367.7,91.7 367.7,91.4 366.7,91.4 366.7,91.1 365.8,91.1 365.8,90.7 365.0,90.7 365.0,90.4 364.2,90.4 364.2,90.1 363.5,90.1 363.5,89.8 362.8,89.8 362.8,89.5 362.0,89.5 362.0,89.2 361.3,89.2 361.3,88.9 360.6,88.9 360.6,88.6 359.9,88.6 359.9,88.3 359.3,88.3 359.3,88.0 358.7,88.0 358.7,87.7 358.1,87.7 358.1,87.4 357.6,87.4 357.6,87.1 357.0,87.1 357.0,86.8 356.5,86.8 356.5,86.6 356.0,86.6 356.0,86.3 355.4,86.3 355.4,86.0 354.9,86.0 354.9,85.7 354.5,85.7 354.5,85.5 354.1,85.5 354.1,85.2 353.7,85.2 353.7,84.9 353.3,84.9 353.3,84.7 352.9,84.7 352.9,84.4 352.5,84.4 352.5,84.2 352.2,84.2 352.2,83.9 351.9,83.9 351.9,83.6 351.6,83.6 351.6,83.4 351.3,83.4 351.0,82.9 350.7,82.9 350.5,82.3 350.2,82.3 350.2,82.1 349.9,82.1 349.6,81.6 349.3,81.6 349.3,81.3 349.1,81.3 348.8,80.8 348.5,80.8 348.5,80.6 348.2,80.6 348.2,80.3 347.8,80.3 347.8,80.1 347.5,80.1 347.5,79.8 347.2,79.8 347.2,79.6 346.9,79.6 346.9,79.3 346.6,79.3 346.6,79.1 346.3,79.1 346.3,78.8 346.0,78.8 346.0,78.6 345.6,78.6 345.6,78.3 345.3,78.3 345.1,77.8 344.8,77.8 344.8,77.6 344.4,77.6 344.4,77.4 343.8,77.1 343.8,76.9 343.6,76.9 343.3,76.4 343.0,76.4 343.0,76.2 342.7,76.2 342.4,75.7 342.1,75.7 342.1,75.5 341.9,75.5 341.9,75.2 341.6,75.2 341.3,74.8 341.0,74.8 341.0,74.5 340.8,74.5 340.8,74.3 340.5,74.3 340.5,74.1 340.2,74.1 340.2,73.8 340.0,73.8 340.0,73.6 339.5,73.4 338.9,72.5 338.7,72.5 338.7,72.3 338.5,72.3 338.5,72.0 338.3,72.0 338.0,71.4 337.8,71.4 337.4,70.7 336.8,70.2 336.7,69.8 336.1,69.3 336.1,69.1 335.7,68.9 335.3,68.0 335.1,68.0 335.1,67.8 334.9,67.8 334.3,66.7 334.1,66.7 333.5,65.6 333.3,65.6 330.8,61.0 330.6,61.0 329.0,57.4 328.4,56.5 320.8,38.0 318.2,30.5 316.5,24.3 315.3,17.0 314.3,8.4 313.7,6.3 313.4,4.6" fill="rgba(255,95,95,0.15)" stroke="none"/><polyline points="313.4,4.6 313.7,4.6 314.3,5.6 316.5,17.6 318.5,23.9 320.8,29.6 325.7,40.5 327.9,46.0 330.4,50.7 330.6,51.3 330.8,51.3 331.8,53.3 331.9,53.3 333.3,55.9 333.5,55.9 334.1,57.0 334.3,57.0 335.1,58.3 335.3,58.3 335.6,59.0 335.7,59.0 335.7,59.2 335.9,59.2 336.1,59.6 336.3,59.6 336.3,59.8 336.5,59.8 336.5,60.1 336.8,60.3 336.8,60.5 337.0,60.5 337.4,61.2 337.6,61.2 337.6,61.4 337.8,61.4 337.8,61.6 338.0,61.6 338.0,61.9 338.2,61.9 338.2,62.1 338.3,62.1 338.3,62.3 338.5,62.3 338.5,62.6 338.7,62.6 338.7,62.8 338.9,62.8 339.5,63.7 340.0,63.9 340.0,64.2 340.2,64.2 340.2,64.4 340.5,64.4 340.5,64.6 340.8,64.6 340.8,64.8 341.0,64.8 341.0,65.1 341.3,65.1 341.6,65.6 341.9,65.6 341.9,65.8 342.1,65.8 342.1,66.0 342.4,66.0 342.7,66.5 343.0,66.5 343.0,66.7 343.3,66.7 343.6,67.2 343.8,67.2 343.8,67.5 344.1,67.5 344.1,67.7 344.4,67.7 344.4,68.0 344.8,68.0 344.8,68.2 345.1,68.2 345.3,68.7 345.6,68.7 345.6,68.9 346.0,68.9 346.0,69.2 346.3,69.2 346.3,69.4 346.6,69.4 346.6,69.7 346.9,69.7 346.9,69.9 347.2,69.9 347.2,70.2 347.5,70.2 347.5,70.4 347.8,70.4 347.8,70.7 348.2,70.7 348.2,71.0 348.5,71.0 348.5,71.2 348.8,71.2 349.1,71.7 349.3,71.7 349.3,72.0 349.6,72.0 349.9,72.5 350.2,72.5 350.2,72.8 350.5,72.8 350.7,73.3 351.0,73.3 351.3,73.8 351.6,73.8 351.6,74.1 351.9,74.1 351.9,74.4 352.2,74.4 352.2,74.6 352.5,74.6 352.5,74.9 352.9,74.9 352.9,75.2 353.3,75.2 353.3,75.4 353.7,75.4 353.7,75.7 354.1,75.7 354.1,76.0 354.5,76.0 354.5,76.3 354.9,76.3 354.9,76.5 355.4,76.5 355.4,76.8 356.0,76.8 356.0,77.1 356.5,77.1 356.5,77.4 357.0,77.4 357.0,77.7 357.6,77.7 357.6,78.0 358.1,78.0 358.1,78.3 358.7,78.3 358.7,78.5 359.3,78.5 359.3,78.8 359.9,78.8 359.9,79.1 360.6,79.1 360.6,79.4 361.3,79.4 361.3,79.8 362.0,79.8 362.0,80.1 362.8,80.1 362.8,80.4 363.5,80.4 363.5,80.7 364.2,80.7 364.2,81.0 365.0,81.0 365.0,81.4 365.8,81.4 365.8,81.7 366.7,81.7 366.7,82.0 367.7,82.0 367.7,82.4 368.6,82.4 368.6,82.7 369.6,82.7 369.6,83.1 370.6,83.1 370.6,83.4 371.7,83.4 371.7,83.8 372.7,83.8 372.7,84.2 373.7,84.2 373.7,84.6 374.6,84.6 374.6,85.0 375.6,85.0 375.6,85.4 376.6,85.4 376.6,85.8 377.6,85.8 377.6,86.2 378.6,86.2 378.6,86.6 379.6,86.6 379.6,87.1 380.7,87.1 380.7,87.5 381.7,87.5 381.7,88.0 382.8,88.0 382.8,88.4 383.9,88.4 383.9,88.9 385.1,88.9 385.1,89.4 386.2,89.4 386.2,89.9 387.6,89.9 387.6,90.4 389.0,90.4 389.0,90.9 390.5,90.9 390.5,91.5 392.1,91.5 392.1,92.1 393.9,92.1 393.9,92.7 396.5,92.7 396.5,93.3 399.3,93.3 399.3,94.0 401.0,94.0 401.0,94.7 402.3,94.7 402.3,95.5 403.6,95.5 403.6,96.3 405.9,96.3 405.9,97.1 411.0,97.1 411.0,98.1 424.0,98.2 424.0,98.4 425.5,98.4 425.5,98.8 452.3,98.8" fill="none" stroke="rgba(240,80,80,0.5)" stroke-width="0.8"/><polyline points="313.4,4.6 313.7,6.3 314.3,8.4 315.3,17.0 316.5,24.3 318.2,30.5 320.8,38.0 328.4,56.5 329.0,57.4 330.6,61.0 330.8,61.0 333.3,65.6 333.5,65.6 334.1,66.7 334.3,66.7 334.9,67.8 335.1,67.8 335.1,68.0 335.3,68.0 335.7,68.9 336.1,69.1 336.1,69.3 336.7,69.8 336.8,70.2 337.4,70.7 337.8,71.4 338.0,71.4 338.3,72.0 338.5,72.0 338.5,72.3 338.7,72.3 338.7,72.5 338.9,72.5 339.5,73.4 340.0,73.6 340.0,73.8 340.2,73.8 340.2,74.1 340.5,74.1 340.5,74.3 340.8,74.3 340.8,74.5 341.0,74.5 341.0,74.8 341.3,74.8 341.6,75.2 341.9,75.2 341.9,75.5 342.1,75.5 342.1,75.7 342.4,75.7 342.7,76.2 343.0,76.2 343.0,76.4 343.3,76.4 343.6,76.9 343.8,76.9 343.8,77.1 344.4,77.4 344.4,77.6 344.8,77.6 344.8,77.8 345.1,77.8 345.3,78.3 345.6,78.3 345.6,78.6 346.0,78.6 346.0,78.8 346.3,78.8 346.3,79.1 346.6,79.1 346.6,79.3 346.9,79.3 346.9,79.6 347.2,79.6 347.2,79.8 347.5,79.8 347.5,80.1 347.8,80.1 347.8,80.3 348.2,80.3 348.2,80.6 348.5,80.6 348.5,80.8 348.8,80.8 349.1,81.3 349.3,81.3 349.3,81.6 349.6,81.6 349.9,82.1 350.2,82.1 350.2,82.3 350.5,82.3 350.7,82.9 351.0,82.9 351.3,83.4 351.6,83.4 351.6,83.6 351.9,83.6 351.9,83.9 352.2,83.9 352.2,84.2 352.5,84.2 352.5,84.4 352.9,84.4 352.9,84.7 353.3,84.7 353.3,84.9 353.7,84.9 353.7,85.2 354.1,85.2 354.1,85.5 354.5,85.5 354.5,85.7 354.9,85.7 354.9,86.0 355.4,86.0 355.4,86.3 356.0,86.3 356.0,86.6 356.5,86.6 356.5,86.8 357.0,86.8 357.0,87.1 357.6,87.1 357.6,87.4 358.1,87.4 358.1,87.7 358.7,87.7 358.7,88.0 359.3,88.0 359.3,88.3 359.9,88.3 359.9,88.6 360.6,88.6 360.6,88.9 361.3,88.9 361.3,89.2 362.0,89.2 362.0,89.5 362.8,89.5 362.8,89.8 363.5,89.8 363.5,90.1 364.2,90.1 364.2,90.4 365.0,90.4 365.0,90.7 365.8,90.7 365.8,91.1 366.7,91.1 366.7,91.4 367.7,91.4 367.7,91.7 368.6,91.7 368.6,92.1 369.6,92.1 369.6,92.4 370.6,92.4 370.6,92.8 371.7,92.8 371.7,93.2 372.7,93.2 372.7,93.6 373.7,93.6 373.7,94.0 374.6,94.0 374.6,94.3 375.6,94.3 375.6,94.8 376.6,94.8 376.6,95.2 377.6,95.2 377.6,95.6 378.6,95.6 378.6,96.0 379.6,96.0 379.6,96.5 380.7,96.5 380.7,96.9 381.7,96.9 381.7,97.4 382.8,97.4 382.8,97.9 383.9,97.9 383.9,98.4 385.1,98.4 385.1,98.9 386.2,98.9 386.2,99.4 387.6,99.4 387.6,99.9 389.0,99.9 389.0,100.5 390.5,100.5 390.5,101.0 392.1,101.0 392.1,101.6 393.9,101.6 393.9,102.3 396.5,102.3 396.5,103.0 399.3,103.0 399.3,103.8 401.0,103.8 401.0,104.6 402.3,104.6 402.3,105.5 403.6,105.5 403.6,106.3 405.9,106.3 405.9,107.2 411.0,107.2 411.0,108.4 422.5,108.4 422.5,110.1 424.0,110.1 424.0,111.7 425.5,111.7 425.5,113.2 452.3,113.2" fill="none" stroke="rgba(240,80,80,0.5)" stroke-width="0.8"/><polyline points="313.4,4.6 314.3,7.0 315.3,14.3 316.5,20.9 318.2,26.7 320.8,33.8 322.8,38.4 323.4,40.1 325.7,45.1 327.9,50.7 330.4,55.5 330.5,55.9 330.8,56.1 331.0,56.8 331.2,56.8 331.4,57.5 331.6,57.5 331.8,58.1 331.9,58.1 332.2,58.8 332.3,58.8 332.5,59.4 332.7,59.4 332.9,60.1 333.1,60.1 333.3,60.7 333.5,60.7 334.1,61.8 334.3,61.8 335.1,63.2 335.3,63.2 335.6,63.8 335.7,63.8 335.7,64.0 335.9,64.0 336.1,64.5 336.7,64.9 336.8,65.4 337.0,65.4 337.4,66.0 337.6,66.0 337.6,66.3 337.8,66.3 337.8,66.5 338.0,66.5 338.3,67.2 338.5,67.2 338.5,67.4 338.7,67.4 338.7,67.6 338.9,67.6 339.5,68.5 340.0,68.8 340.0,69.0 340.2,69.0 340.2,69.2 340.5,69.2 340.5,69.5 340.8,69.5 340.8,69.7 341.0,69.7 341.0,69.9 341.3,69.9 341.6,70.4 341.9,70.4 341.9,70.6 342.1,70.6 342.1,70.9 342.4,70.9 342.7,71.3 343.0,71.3 343.0,71.6 343.3,71.6 343.6,72.0 343.8,72.0 343.8,72.3 344.1,72.3 344.1,72.5 344.4,72.5 344.4,72.8 344.8,72.8 344.8,73.0 345.1,73.0 345.3,73.5 345.6,73.5 345.6,73.8 346.0,73.8 346.0,74.0 346.3,74.0 346.3,74.2 346.6,74.2 346.6,74.5 346.9,74.5 346.9,74.7 347.2,74.7 347.2,75.0 347.5,75.0 347.5,75.2 347.8,75.2 347.8,75.5 348.2,75.5 348.2,75.8 348.5,75.8 348.5,76.0 348.8,76.0 349.1,76.5 349.3,76.5 349.3,76.8 349.6,76.8 349.9,77.3 350.2,77.3 350.2,77.6 350.5,77.6 350.7,78.1 351.0,78.1 351.3,78.6 351.6,78.6 351.6,78.9 351.9,78.9 351.9,79.1 352.2,79.1 352.2,79.4 352.5,79.4 352.5,79.7 352.9,79.7 352.9,79.9 353.3,79.9 353.3,80.2 353.7,80.2 353.7,80.5 354.1,80.5 354.1,80.7 354.5,80.7 354.5,81.0 354.9,81.0 354.9,81.3 355.4,81.3 355.4,81.6 356.0,81.6 356.0,81.8 356.5,81.8 356.5,82.1 357.0,82.1 357.0,82.4 357.6,82.4 357.6,82.7 358.1,82.7 358.1,83.0 358.7,83.0 358.7,83.3 359.3,83.3 359.3,83.6 359.9,83.6 359.9,83.8 360.6,83.8 360.6,84.1 361.3,84.1 361.3,84.5 362.0,84.5 362.0,84.8 362.8,84.8 362.8,85.1 363.5,85.1 363.5,85.4 364.2,85.4 364.2,85.7 365.0,85.7 365.0,86.0 365.8,86.0 365.8,86.4 366.7,86.4 366.7,86.7 367.7,86.7 367.7,87.1 368.6,87.1 368.6,87.4 369.6,87.4 369.6,87.8 370.6,87.8 370.6,88.1 371.7,88.1 371.7,88.5 372.7,88.5 372.7,88.9 373.7,88.9 373.7,89.3 374.6,89.3 374.6,89.7 375.6,89.7 375.6,90.1 376.6,90.1 376.6,90.5 377.6,90.5 377.6,90.9 378.6,90.9 378.6,91.3 379.6,91.3 379.6,91.8 380.7,91.8 380.7,92.2 381.7,92.2 381.7,92.7 382.8,92.7 382.8,93.1 383.9,93.1 383.9,93.6 385.1,93.6 385.1,94.1 386.2,94.1 386.2,94.6 387.6,94.6 387.6,95.2 389.0,95.2 389.0,95.7 390.5,95.7 390.5,96.3 392.1,96.3 392.1,96.8 393.9,96.8 393.9,97.5 396.5,97.5 396.5,98.1 399.3,98.1 399.3,98.9 401.0,98.9 401.0,99.7 402.3,99.7 402.3,100.5 403.6,100.5 403.6,101.3 405.9,101.3 405.9,102.2 411.0,102.2 411.0,103.2 422.5,103.2 422.5,104.1 424.0,104.1 424.0,105.1 425.5,105.1 425.5,106.0 452.3,106.0" fill="none" stroke="#cc2020" stroke-width="1.5" stroke-linejoin="miter"/><line x1="452.30" y1="106.02" x2="452.30" y2="119.6" stroke="#cc2020" stroke-width="1.2"/><polygon points="49.6,228.6 50.4,230.4 51.9,235.8 53.8,247.9 55.7,257.6 58.3,266.9 60.5,273.4 64.5,283.6 73.6,302.2 78.6,308.8 78.8,308.8 79.8,310.4 80.7,311.1 81.6,312.2 82.5,312.9 82.6,313.3 83.2,313.7 83.2,313.9 83.4,313.9 83.6,314.2 83.8,314.2 84.3,315.0 84.5,315.0 84.5,315.2 84.7,315.2 84.7,315.4 84.9,315.4 85.5,316.2 85.7,316.2 85.7,316.4 85.9,316.4 85.9,316.6 86.3,316.8 86.3,317.0 86.6,317.0 86.9,317.4 87.1,317.4 87.4,317.8 87.6,317.8 87.9,318.3 88.2,318.3 88.4,318.7 88.7,318.7 88.7,318.9 89.0,318.9 89.3,319.3 89.5,319.3 89.5,319.6 89.9,319.6 90.1,320.0 90.4,320.0 90.4,320.2 90.7,320.2 91.0,320.7 91.3,320.7 91.3,320.9 91.6,320.9 91.9,321.4 92.2,321.4 92.2,321.6 92.6,321.6 92.6,321.9 93.0,321.9 93.0,322.1 93.5,322.1 93.5,322.4 94.0,322.4 94.0,322.6 94.5,322.6 94.5,322.9 95.0,322.9 95.0,323.1 95.5,323.1 95.5,323.4 96.0,323.4 96.0,323.7 96.6,323.7 96.6,323.9 97.1,323.9 97.1,324.2 97.6,324.2 97.6,324.5 98.1,324.5 98.1,324.7 98.9,324.7 98.9,325.0 99.7,325.0 99.7,325.3 100.5,325.3 100.5,325.6 101.4,325.6 101.4,325.9 102.3,325.9 102.3,326.2 103.1,326.2 103.1,326.5 104.1,326.5 104.1,326.8 105.0,326.8 105.0,327.2 105.9,327.2 105.9,327.5 106.9,327.5 106.9,327.8 108.5,327.8 108.5,328.2 111.1,328.2 111.1,328.6 113.9,328.6 113.9,329.0 117.0,329.0 117.0,329.4 120.3,329.4 120.3,329.8 123.9,329.8 123.9,330.3 126.8,330.3 126.8,331.1 128.6,331.1 128.6,331.9 130.4,331.9 130.4,332.8 132.1,332.8 132.1,333.5 133.8,333.5 133.8,334.3 136.4,334.3 136.4,334.7 139.6,334.7 139.6,335.1 143.0,335.1 143.0,335.5 147.3,335.5 147.3,336.0 163.8,336.0 163.8,337.7 179.4,337.7 179.4,341.0 163.8,341.0 163.8,340.4 147.3,340.4 147.3,340.2 143.0,340.2 143.0,340.0 133.8,339.8 133.8,339.5 132.1,339.5 132.1,339.2 130.4,339.2 130.4,338.9 128.6,338.9 128.6,338.6 126.8,338.6 126.8,338.3 123.9,338.3 123.9,337.8 120.3,337.8 120.3,337.3 117.0,337.3 117.0,336.9 113.9,336.9 113.9,336.5 111.1,336.5 111.1,336.1 108.5,336.1 108.5,335.8 106.9,335.8 106.9,335.5 105.9,335.5 105.9,335.2 105.0,335.2 105.0,334.9 104.1,334.9 104.1,334.7 103.1,334.7 103.1,334.4 102.3,334.4 102.3,334.1 101.4,334.1 101.4,333.9 100.5,333.9 100.5,333.6 99.7,333.6 99.7,333.3 98.9,333.3 98.9,333.1 98.1,333.1 98.1,332.8 97.1,332.6 97.1,332.4 96.6,332.4 96.6,332.1 96.0,332.1 96.0,331.9 95.5,331.9 95.5,331.7 95.0,331.7 95.0,331.4 94.5,331.4 94.5,331.2 94.0,331.2 94.0,331.0 93.5,331.0 93.5,330.8 93.0,330.8 93.0,330.6 92.2,330.3 92.2,330.1 91.9,330.1 91.6,329.7 91.0,329.5 90.7,329.1 90.4,329.1 90.4,328.9 90.1,328.9 89.9,328.5 89.5,328.5 89.5,328.3 89.3,328.3 89.0,327.9 88.7,327.9 88.7,327.7 88.4,327.7 88.4,327.6 88.2,327.6 88.2,327.4 87.9,327.4 87.9,327.2 87.4,327.0 87.1,326.6 86.9,326.6 86.9,326.4 86.6,326.4 86.6,326.3 85.9,325.9 84.9,324.8 83.6,323.8 83.4,323.5 82.6,322.9 82.5,322.6 81.6,322.0 80.0,320.4 79.8,320.4 73.6,312.9 64.5,295.0 61.0,286.1 58.3,278.0 55.7,268.0 53.8,257.2 51.9,242.4 49.8,230.8 49.7,230.7 49.6,230.9 49.6,228.6" fill="rgba(95,95,255,0.14)" stroke="none"/><polyline points="49.6,228.6 50.4,230.4 51.9,235.8 53.8,247.9 55.7,257.6 58.3,266.9 60.5,273.4 64.5,283.6 73.6,302.2 78.6,308.8 78.8,308.8 79.8,310.4 80.7,311.1 81.6,312.2 82.5,312.9 82.6,313.3 83.2,313.7 83.2,313.9 83.4,313.9 83.6,314.2 83.8,314.2 84.3,315.0 84.5,315.0 84.5,315.2 84.7,315.2 84.7,315.4 84.9,315.4 85.5,316.2 85.7,316.2 85.7,316.4 85.9,316.4 85.9,316.6 86.3,316.8 86.3,317.0 86.6,317.0 86.9,317.4 87.1,317.4 87.4,317.8 87.6,317.8 87.9,318.3 88.2,318.3 88.4,318.7 88.7,318.7 88.7,318.9 89.0,318.9 89.3,319.3 89.5,319.3 89.5,319.6 89.9,319.6 90.1,320.0 90.4,320.0 90.4,320.2 90.7,320.2 91.0,320.7 91.3,320.7 91.3,320.9 91.6,320.9 91.9,321.4 92.2,321.4 92.2,321.6 92.6,321.6 92.6,321.9 93.0,321.9 93.0,322.1 93.5,322.1 93.5,322.4 94.0,322.4 94.0,322.6 94.5,322.6 94.5,322.9 95.0,322.9 95.0,323.1 95.5,323.1 95.5,323.4 96.0,323.4 96.0,323.7 96.6,323.7 96.6,323.9 97.1,323.9 97.1,324.2 97.6,324.2 97.6,324.5 98.1,324.5 98.1,324.7 98.9,324.7 98.9,325.0 99.7,325.0 99.7,325.3 100.5,325.3 100.5,325.6 101.4,325.6 101.4,325.9 102.3,325.9 102.3,326.2 103.1,326.2 103.1,326.5 104.1,326.5 104.1,326.8 105.0,326.8 105.0,327.2 105.9,327.2 105.9,327.5 106.9,327.5 106.9,327.8 108.5,327.8 108.5,328.2 111.1,328.2 111.1,328.6 113.9,328.6 113.9,329.0 117.0,329.0 117.0,329.4 120.3,329.4 120.3,329.8 123.9,329.8 123.9,330.3 126.8,330.3 126.8,331.1 128.6,331.1 128.6,331.9 130.4,331.9 130.4,332.8 132.1,332.8 132.1,333.5 133.8,333.5 133.8,334.3 136.4,334.3 136.4,334.7 139.6,334.7 139.6,335.1 143.0,335.1 143.0,335.5 147.3,335.5 147.3,336.0 163.8,336.0 163.8,337.7 179.4,337.7" fill="none" stroke="rgba(70,70,240,0.55)" stroke-width="0.8"/><polyline points="49.6,228.6 49.6,230.9 49.7,230.7 49.8,230.8 51.9,242.4 53.8,257.2 55.7,268.0 58.3,278.0 61.0,286.1 64.5,295.0 73.6,312.9 79.8,320.4 80.0,320.4 81.6,322.0 82.5,322.6 82.6,322.9 83.4,323.5 83.6,323.8 84.9,324.8 85.9,325.9 86.6,326.3 86.6,326.4 86.9,326.4 86.9,326.6 87.1,326.6 87.4,327.0 87.9,327.2 87.9,327.4 88.2,327.4 88.2,327.6 88.4,327.6 88.4,327.7 88.7,327.7 88.7,327.9 89.0,327.9 89.3,328.3 89.5,328.3 89.5,328.5 89.9,328.5 90.1,328.9 90.4,328.9 90.4,329.1 90.7,329.1 91.0,329.5 91.6,329.7 91.9,330.1 92.2,330.1 92.2,330.3 93.0,330.6 93.0,330.8 93.5,330.8 93.5,331.0 94.0,331.0 94.0,331.2 94.5,331.2 94.5,331.4 95.0,331.4 95.0,331.7 95.5,331.7 95.5,331.9 96.0,331.9 96.0,332.1 96.6,332.1 96.6,332.4 97.1,332.4 97.1,332.6 98.1,332.8 98.1,333.1 98.9,333.1 98.9,333.3 99.7,333.3 99.7,333.6 100.5,333.6 100.5,333.9 101.4,333.9 101.4,334.1 102.3,334.1 102.3,334.4 103.1,334.4 103.1,334.7 104.1,334.7 104.1,334.9 105.0,334.9 105.0,335.2 105.9,335.2 105.9,335.5 106.9,335.5 106.9,335.8 108.5,335.8 108.5,336.1 111.1,336.1 111.1,336.5 113.9,336.5 113.9,336.9 117.0,336.9 117.0,337.3 120.3,337.3 120.3,337.8 123.9,337.8 123.9,338.3 126.8,338.3 126.8,338.6 128.6,338.6 128.6,338.9 130.4,338.9 130.4,339.2 132.1,339.2 132.1,339.5 133.8,339.5 133.8,339.8 143.0,340.0 143.0,340.2 147.3,340.2 147.3,340.4 163.8,340.4 163.8,341.0 179.4,341.0" fill="none" stroke="rgba(70,70,240,0.55)" stroke-width="0.8"/><polyline points="49.6,228.6 51.9,238.6 53.8,252.2 55.7,262.5 58.3,272.2 61.1,280.5 64.5,289.2 73.6,307.6 79.8,315.5 80.0,315.5 81.6,317.2 82.0,317.4 82.1,317.7 82.5,317.9 82.6,318.3 83.4,318.8 83.6,319.2 83.8,319.2 84.5,320.1 84.7,320.1 84.7,320.3 84.9,320.3 85.5,321.1 85.7,321.1 85.7,321.3 85.9,321.3 85.9,321.4 86.3,321.6 86.3,321.8 86.6,321.8 86.6,322.0 86.9,322.0 86.9,322.2 87.1,322.2 87.4,322.6 87.9,322.8 87.9,323.0 88.2,323.0 88.2,323.2 88.4,323.2 88.4,323.4 88.7,323.4 88.7,323.7 89.0,323.7 89.3,324.1 89.5,324.1 89.5,324.3 89.9,324.3 90.1,324.7 90.4,324.7 90.4,324.9 90.7,324.9 91.0,325.4 91.6,325.6 91.9,326.0 92.2,326.0 92.2,326.3 93.0,326.5 93.0,326.7 93.5,326.7 93.5,327.0 94.0,327.0 94.0,327.2 94.5,327.2 94.5,327.4 95.0,327.4 95.0,327.7 95.5,327.7 95.5,328.0 96.0,328.0 96.0,328.2 96.6,328.2 96.6,328.5 97.1,328.5 97.1,328.7 97.6,328.7 97.6,329.0 98.1,329.0 98.1,329.3 98.9,329.3 98.9,329.5 99.7,329.5 99.7,329.8 100.5,329.8 100.5,330.1 101.4,330.1 101.4,330.4 102.3,330.4 102.3,330.7 103.1,330.7 103.1,331.0 104.1,331.0 104.1,331.3 105.0,331.3 105.0,331.6 105.9,331.6 105.9,331.9 106.9,331.9 106.9,332.3 108.5,332.3 108.5,332.6 111.1,332.6 111.1,333.0 113.9,333.0 113.9,333.4 117.0,333.4 117.0,333.9 120.3,333.9 120.3,334.3 123.9,334.3 123.9,334.9 126.8,334.9 126.8,335.4 128.6,335.4 128.6,335.9 130.4,335.9 130.4,336.5 132.1,336.5 132.1,337.0 133.8,337.0 133.8,337.5 136.4,337.5 136.4,337.7 139.6,337.7 139.6,338.0 143.0,338.0 143.0,338.2 147.3,338.2 147.3,338.6 163.8,338.6 163.8,339.6 179.4,339.6" fill="none" stroke="#1a1abe" stroke-width="1.5" stroke-linejoin="miter"/><polygon points="49.6,228.6 50.1,230.5 51.2,236.7 52.3,247.8 53.8,258.8 57.9,280.5 61.4,295.5 61.8,296.6 62.0,296.6 66.1,306.7 66.3,306.7 66.3,307.0 66.6,307.0 66.8,307.6 67.0,307.6 67.0,307.9 67.3,307.9 67.3,308.2 67.5,308.2 67.5,308.5 67.8,308.5 68.0,309.1 68.2,309.1 68.2,309.4 68.5,309.4 68.7,310.1 68.9,310.1 68.9,310.4 69.2,310.4 69.2,310.7 69.4,310.7 69.4,311.0 69.7,311.0 69.9,311.7 70.2,311.7 70.2,312.0 70.4,312.0 70.7,312.6 70.9,312.6 70.9,313.0 71.2,313.0 71.2,313.3 71.4,313.3 71.4,313.6 71.7,313.6 71.7,313.9 71.9,313.9 71.9,314.3 72.2,314.3 72.2,314.6 72.6,314.6 72.6,314.9 73.0,314.9 73.0,315.2 73.4,315.2 73.4,315.6 73.8,315.6 73.8,315.9 74.2,315.9 74.2,316.3 74.6,316.3 74.6,316.6 75.0,316.6 75.0,317.0 75.4,317.0 75.4,317.3 75.8,317.3 75.8,317.7 76.3,317.7 76.3,318.0 76.7,318.0 76.7,318.4 77.1,318.4 77.1,318.7 77.6,318.7 77.6,319.1 78.0,319.1 78.0,319.5 78.4,319.5 78.4,319.8 78.9,319.8 78.9,320.2 79.3,320.2 79.3,320.6 79.8,320.6 79.8,321.0 80.5,321.0 80.5,321.4 81.2,321.4 81.2,321.8 82.0,321.8 82.0,322.1 82.8,322.1 82.8,322.6 83.6,322.6 83.6,323.0 84.4,323.0 84.4,323.4 85.2,323.4 85.2,323.8 86.0,323.8 86.0,324.2 86.8,324.2 86.8,324.7 87.7,324.7 87.7,325.1 88.5,325.1 88.5,325.5 89.5,325.5 89.5,326.0 90.8,326.0 90.8,326.5 92.1,326.5 92.1,326.9 93.5,326.9 93.5,327.4 94.9,327.4 94.9,327.9 96.4,327.9 96.4,328.5 98.0,328.5 98.0,329.0 99.6,329.0 99.6,329.6 101.4,329.6 101.4,330.3 103.4,330.3 103.4,330.9 105.5,330.9 105.5,331.2 106.6,331.2 106.6,331.4 108.0,331.4 108.0,331.6 110.2,331.6 110.2,331.9 112.5,331.9 112.5,332.1 114.9,332.1 114.9,332.4 117.4,332.4 117.4,332.7 119.9,332.7 119.9,333.0 122.6,333.0 122.6,333.4 125.2,333.4 125.2,333.7 130.1,333.7 130.1,335.3 142.0,335.3 142.0,338.5 156.4,338.5 156.4,342.4 142.0,342.4 142.0,341.9 130.1,341.9 130.1,341.7 125.2,341.7 125.2,341.3 122.6,341.3 122.6,340.9 119.9,340.9 119.9,340.4 117.4,340.4 117.4,339.9 114.9,339.9 114.9,339.4 112.5,339.4 112.5,338.9 110.2,338.9 110.2,338.4 108.0,338.4 108.0,338.0 106.6,338.0 106.6,337.5 105.5,337.5 105.5,337.1 103.4,337.1 103.4,336.5 101.4,336.5 101.4,335.9 99.6,335.9 99.6,335.3 98.0,335.3 98.0,334.8 96.4,334.8 96.4,334.4 94.9,334.4 94.9,333.9 93.5,333.9 93.5,333.5 92.1,333.5 92.1,333.1 90.8,333.1 90.8,332.6 89.5,332.6 89.5,332.2 88.5,332.2 88.5,331.9 87.7,331.9 87.7,331.5 86.8,331.5 86.8,331.1 86.0,331.1 86.0,330.7 85.2,330.7 85.2,330.3 84.4,330.3 84.4,330.0 83.6,330.0 83.6,329.6 82.8,329.6 82.8,329.2 82.0,329.2 82.0,328.9 81.2,328.9 81.2,328.5 80.5,328.5 80.5,328.2 79.8,328.2 79.8,327.9 79.3,327.9 79.3,327.5 78.9,327.5 78.9,327.2 78.4,327.2 78.4,326.9 78.0,326.9 78.0,326.5 77.6,326.5 77.6,326.2 77.1,326.2 77.1,325.9 76.7,325.9 76.7,325.5 76.3,325.5 76.3,325.2 75.8,325.2 75.8,324.9 75.4,324.9 75.4,324.6 75.0,324.6 75.0,324.3 74.6,324.3 74.6,324.0 74.2,324.0 74.2,323.7 73.8,323.7 73.8,323.3 73.4,323.3 73.4,323.0 73.0,323.0 73.0,322.7 72.6,322.7 72.6,322.4 72.2,322.4 72.2,322.1 71.9,322.1 71.7,321.6 71.4,321.6 71.2,321.0 70.9,321.0 70.9,320.7 70.7,320.7 70.4,320.1 70.2,320.1 70.2,319.8 69.9,319.8 69.7,319.2 69.4,319.2 69.2,318.6 68.9,318.6 68.9,318.3 68.7,318.3 68.5,317.8 68.2,317.8 68.2,317.5 68.0,317.5 67.8,316.9 67.5,316.9 67.5,316.6 67.3,316.6 67.3,316.3 67.0,316.3 67.0,316.1 66.8,316.1 66.8,315.8 66.6,315.8 66.6,315.5 66.3,315.5 66.3,315.2 66.1,315.2 66.1,314.9 65.9,314.9 65.6,313.8 65.4,313.8 65.1,312.7 64.9,312.7 64.7,311.8 64.5,311.8 64.2,310.7 64.0,310.7 63.6,309.3 63.4,309.3 63.0,307.9 62.8,307.9 62.0,305.7 61.8,305.7 61.4,304.6 59.9,298.7 57.7,288.9 53.8,267.6 52.3,255.5 51.2,242.3 49.8,231.2 49.6,228.6" fill="rgba(95,215,95,0.2)" stroke="none"/><polyline points="49.6,228.6 50.1,230.5 51.2,236.7 52.3,247.8 53.8,258.8 57.9,280.5 61.4,295.5 61.8,296.6 62.0,296.6 66.1,306.7 66.3,306.7 66.3,307.0 66.6,307.0 66.8,307.6 67.0,307.6 67.0,307.9 67.3,307.9 67.3,308.2 67.5,308.2 67.5,308.5 67.8,308.5 68.0,309.1 68.2,309.1 68.2,309.4 68.5,309.4 68.7,310.1 68.9,310.1 68.9,310.4 69.2,310.4 69.2,310.7 69.4,310.7 69.4,311.0 69.7,311.0 69.9,311.7 70.2,311.7 70.2,312.0 70.4,312.0 70.7,312.6 70.9,312.6 70.9,313.0 71.2,313.0 71.2,313.3 71.4,313.3 71.4,313.6 71.7,313.6 71.7,313.9 71.9,313.9 71.9,314.3 72.2,314.3 72.2,314.6 72.6,314.6 72.6,314.9 73.0,314.9 73.0,315.2 73.4,315.2 73.4,315.6 73.8,315.6 73.8,315.9 74.2,315.9 74.2,316.3 74.6,316.3 74.6,316.6 75.0,316.6 75.0,317.0 75.4,317.0 75.4,317.3 75.8,317.3 75.8,317.7 76.3,317.7 76.3,318.0 76.7,318.0 76.7,318.4 77.1,318.4 77.1,318.7 77.6,318.7 77.6,319.1 78.0,319.1 78.0,319.5 78.4,319.5 78.4,319.8 78.9,319.8 78.9,320.2 79.3,320.2 79.3,320.6 79.8,320.6 79.8,321.0 80.5,321.0 80.5,321.4 81.2,321.4 81.2,321.8 82.0,321.8 82.0,322.1 82.8,322.1 82.8,322.6 83.6,322.6 83.6,323.0 84.4,323.0 84.4,323.4 85.2,323.4 85.2,323.8 86.0,323.8 86.0,324.2 86.8,324.2 86.8,324.7 87.7,324.7 87.7,325.1 88.5,325.1 88.5,325.5 89.5,325.5 89.5,326.0 90.8,326.0 90.8,326.5 92.1,326.5 92.1,326.9 93.5,326.9 93.5,327.4 94.9,327.4 94.9,327.9 96.4,327.9 96.4,328.5 98.0,328.5 98.0,329.0 99.6,329.0 99.6,329.6 101.4,329.6 101.4,330.3 103.4,330.3 103.4,330.9 105.5,330.9 105.5,331.2 106.6,331.2 106.6,331.4 108.0,331.4 108.0,331.6 110.2,331.6 110.2,331.9 112.5,331.9 112.5,332.1 114.9,332.1 114.9,332.4 117.4,332.4 117.4,332.7 119.9,332.7 119.9,333.0 122.6,333.0 122.6,333.4 125.2,333.4 125.2,333.7 130.1,333.7 130.1,335.3 142.0,335.3 142.0,338.5 156.4,338.5" fill="none" stroke="rgba(60,175,60,0.5)" stroke-width="0.8"/><polyline points="49.6,228.6 49.8,231.2 51.2,242.3 52.3,255.5 53.8,267.6 57.7,288.9 59.9,298.7 61.4,304.6 61.8,305.7 62.0,305.7 62.8,307.9 63.0,307.9 63.4,309.3 63.6,309.3 64.0,310.7 64.2,310.7 64.5,311.8 64.7,311.8 64.9,312.7 65.1,312.7 65.4,313.8 65.6,313.8 65.9,314.9 66.1,314.9 66.1,315.2 66.3,315.2 66.3,315.5 66.6,315.5 66.6,315.8 66.8,315.8 66.8,316.1 67.0,316.1 67.0,316.3 67.3,316.3 67.3,316.6 67.5,316.6 67.5,316.9 67.8,316.9 68.0,317.5 68.2,317.5 68.2,317.8 68.5,317.8 68.7,318.3 68.9,318.3 68.9,318.6 69.2,318.6 69.4,319.2 69.7,319.2 69.9,319.8 70.2,319.8 70.2,320.1 70.4,320.1 70.7,320.7 70.9,320.7 70.9,321.0 71.2,321.0 71.4,321.6 71.7,321.6 71.9,322.1 72.2,322.1 72.2,322.4 72.6,322.4 72.6,322.7 73.0,322.7 73.0,323.0 73.4,323.0 73.4,323.3 73.8,323.3 73.8,323.7 74.2,323.7 74.2,324.0 74.6,324.0 74.6,324.3 75.0,324.3 75.0,324.6 75.4,324.6 75.4,324.9 75.8,324.9 75.8,325.2 76.3,325.2 76.3,325.5 76.7,325.5 76.7,325.9 77.1,325.9 77.1,326.2 77.6,326.2 77.6,326.5 78.0,326.5 78.0,326.9 78.4,326.9 78.4,327.2 78.9,327.2 78.9,327.5 79.3,327.5 79.3,327.9 79.8,327.9 79.8,328.2 80.5,328.2 80.5,328.5 81.2,328.5 81.2,328.9 82.0,328.9 82.0,329.2 82.8,329.2 82.8,329.6 83.6,329.6 83.6,330.0 84.4,330.0 84.4,330.3 85.2,330.3 85.2,330.7 86.0,330.7 86.0,331.1 86.8,331.1 86.8,331.5 87.7,331.5 87.7,331.9 88.5,331.9 88.5,332.2 89.5,332.2 89.5,332.6 90.8,332.6 90.8,333.1 92.1,333.1 92.1,333.5 93.5,333.5 93.5,333.9 94.9,333.9 94.9,334.4 96.4,334.4 96.4,334.8 98.0,334.8 98.0,335.3 99.6,335.3 99.6,335.9 101.4,335.9 101.4,336.5 103.4,336.5 103.4,337.1 105.5,337.1 105.5,337.5 106.6,337.5 106.6,338.0 108.0,338.0 108.0,338.4 110.2,338.4 110.2,338.9 112.5,338.9 112.5,339.4 114.9,339.4 114.9,339.9 117.4,339.9 117.4,340.4 119.9,340.4 119.9,340.9 122.6,340.9 122.6,341.3 125.2,341.3 125.2,341.7 130.1,341.7 130.1,341.9 142.0,341.9 142.0,342.4 156.4,342.4" fill="none" stroke="rgba(60,175,60,0.5)" stroke-width="0.8"/><polyline points="49.6,228.6 51.2,239.1 52.3,251.4 53.8,263.0 57.9,285.2 61.4,300.1 61.8,301.2 62.0,301.2 66.1,311.0 66.3,311.0 66.3,311.3 66.6,311.3 66.8,311.9 67.0,311.9 67.0,312.2 67.3,312.2 67.3,312.5 67.5,312.5 67.5,312.8 67.8,312.8 68.0,313.4 68.2,313.4 68.2,313.7 68.5,313.7 68.7,314.3 68.9,314.3 68.9,314.6 69.2,314.6 69.2,314.9 69.4,314.9 69.4,315.2 69.7,315.2 69.9,315.8 70.2,315.8 70.2,316.1 70.4,316.1 70.4,316.4 70.7,316.4 70.7,316.8 70.9,316.8 70.9,317.1 71.2,317.1 71.4,317.7 71.7,317.7 71.7,318.0 71.9,318.0 71.9,318.3 72.2,318.3 72.2,318.6 72.6,318.6 72.6,318.9 73.0,318.9 73.0,319.3 73.4,319.3 73.4,319.6 73.8,319.6 73.8,319.9 74.2,319.9 74.2,320.2 74.6,320.2 74.6,320.6 75.0,320.6 75.0,320.9 75.4,320.9 75.4,321.2 75.8,321.2 75.8,321.6 76.3,321.6 76.3,321.9 76.7,321.9 76.7,322.3 77.1,322.3 77.1,322.6 77.6,322.6 77.6,323.0 78.0,323.0 78.0,323.3 78.4,323.3 78.4,323.7 78.9,323.7 78.9,324.0 79.3,324.0 79.3,324.4 79.8,324.4 79.8,324.7 80.5,324.7 80.5,325.1 81.2,325.1 81.2,325.5 82.0,325.5 82.0,325.9 82.8,325.9 82.8,326.3 83.6,326.3 83.6,326.6 84.4,326.6 84.4,327.0 85.2,327.0 85.2,327.4 86.0,327.4 86.0,327.9 86.8,327.9 86.8,328.3 87.7,328.3 87.7,328.7 88.5,328.7 88.5,329.1 89.5,329.1 89.5,329.5 90.8,329.5 90.8,330.0 92.1,330.0 92.1,330.4 93.5,330.4 93.5,330.9 94.9,330.9 94.9,331.4 96.4,331.4 96.4,331.9 98.0,331.9 98.0,332.5 99.6,332.5 99.6,333.0 101.4,333.0 101.4,333.7 103.4,333.7 103.4,334.3 105.5,334.3 105.5,334.7 106.6,334.7 106.6,335.1 108.0,335.1 108.0,335.5 110.2,335.5 110.2,335.9 112.5,335.9 112.5,336.4 114.9,336.4 114.9,336.9 117.4,336.9 117.4,337.4 119.9,337.4 119.9,338.0 122.6,338.0 122.6,338.5 125.2,338.5 125.2,339.0 130.1,339.0 130.1,339.7 142.0,339.7 142.0,341.1 156.4,341.1" fill="none" stroke="#1e8029" stroke-width="1.5" stroke-linejoin="miter"/><polygon points="49.6,228.6 50.1,228.6 50.1,228.8 50.3,228.8 50.6,231.4 50.8,231.4 51.6,243.1 53.5,262.0 54.3,274.0 54.5,274.0 54.5,275.1 54.6,275.1 55.2,281.0 55.4,281.0 55.5,283.4 55.7,283.4 55.9,285.8 56.1,285.8 56.1,287.0 56.3,287.0 56.3,288.2 56.5,288.2 56.9,291.7 57.0,291.7 57.2,294.1 57.4,294.1 57.6,296.4 57.9,296.4 57.9,297.6 58.1,297.6 58.1,298.8 58.4,298.8 58.4,300.0 58.7,300.0 58.7,301.2 58.9,301.2 58.9,302.4 59.2,302.4 59.2,303.6 59.5,303.6 59.5,304.8 59.7,304.8 59.7,306.0 60.2,306.0 60.2,307.2 60.7,307.2 60.7,308.4 61.3,308.4 61.3,309.7 61.8,309.7 61.8,311.0 62.4,311.0 62.4,312.3 63.2,312.3 63.2,313.7 65.1,313.7 65.1,315.2 67.2,315.2 67.2,316.8 70.7,316.8 70.7,318.4 74.6,318.4 74.6,319.0 76.5,319.0 76.5,319.6 78.5,319.6 78.5,320.3 80.5,320.3 80.5,321.0 83.2,321.0 83.2,321.7 86.7,321.7 86.7,323.4 90.8,323.4 90.8,325.3 91.6,325.3 91.6,327.1 92.3,327.1 92.3,328.8 106.4,328.8 106.4,331.2 124.0,331.2 124.0,333.5 151.7,333.5 151.7,341.3 124.0,341.3 124.0,340.9 106.4,340.9 106.4,340.5 92.3,340.5 92.3,340.2 91.6,340.2 91.6,339.9 90.8,339.9 90.8,339.6 86.7,339.6 86.7,339.3 83.2,339.3 83.2,338.3 80.5,338.3 80.5,337.4 78.5,337.4 78.5,336.5 76.5,336.5 76.5,335.5 74.6,335.5 74.6,334.6 70.7,334.6 70.7,333.3 67.2,333.3 67.2,332.1 65.1,332.1 65.1,330.9 63.2,330.9 63.2,329.9 62.4,329.9 62.4,328.9 61.8,328.9 61.8,327.9 61.3,327.9 61.3,327.0 60.7,327.0 60.7,326.1 60.2,326.1 60.2,325.1 59.7,325.1 59.7,324.2 59.5,324.2 59.5,323.3 59.2,323.3 59.2,322.4 58.9,322.4 58.9,321.5 58.7,321.5 58.7,320.5 58.4,320.5 58.4,319.6 58.1,319.6 58.1,318.6 57.9,318.6 57.9,317.7 57.6,317.7 57.4,315.7 57.2,315.7 57.0,313.7 56.9,313.7 56.9,312.7 56.7,312.7 56.5,310.7 56.3,310.7 56.3,309.6 56.1,309.6 56.1,308.6 55.9,308.6 55.9,307.5 55.7,307.5 55.7,306.5 55.5,306.5 55.4,304.3 55.2,304.3 54.9,301.0 54.7,301.0 54.6,298.8 54.5,298.8 54.5,297.7 54.3,297.7 54.1,295.4 53.5,285.5 52.9,280.2 51.6,263.1 50.8,244.9 50.6,244.9 50.3,239.2 50.1,239.2 50.1,237.1 50.0,237.1 50.0,235.0 49.8,235.0 49.6,228.6" fill="rgba(255,95,95,0.15)" stroke="none"/><polyline points="49.6,228.6 50.1,228.6 50.1,228.8 50.3,228.8 50.6,231.4 50.8,231.4 51.6,243.1 53.5,262.0 54.3,274.0 54.5,274.0 54.5,275.1 54.6,275.1 55.2,281.0 55.4,281.0 55.5,283.4 55.7,283.4 55.9,285.8 56.1,285.8 56.1,287.0 56.3,287.0 56.3,288.2 56.5,288.2 56.9,291.7 57.0,291.7 57.2,294.1 57.4,294.1 57.6,296.4 57.9,296.4 57.9,297.6 58.1,297.6 58.1,298.8 58.4,298.8 58.4,300.0 58.7,300.0 58.7,301.2 58.9,301.2 58.9,302.4 59.2,302.4 59.2,303.6 59.5,303.6 59.5,304.8 59.7,304.8 59.7,306.0 60.2,306.0 60.2,307.2 60.7,307.2 60.7,308.4 61.3,308.4 61.3,309.7 61.8,309.7 61.8,311.0 62.4,311.0 62.4,312.3 63.2,312.3 63.2,313.7 65.1,313.7 65.1,315.2 67.2,315.2 67.2,316.8 70.7,316.8 70.7,318.4 74.6,318.4 74.6,319.0 76.5,319.0 76.5,319.6 78.5,319.6 78.5,320.3 80.5,320.3 80.5,321.0 83.2,321.0 83.2,321.7 86.7,321.7 86.7,323.4 90.8,323.4 90.8,325.3 91.6,325.3 91.6,327.1 92.3,327.1 92.3,328.8 106.4,328.8 106.4,331.2 124.0,331.2 124.0,333.5 151.7,333.5" fill="none" stroke="rgba(240,80,80,0.5)" stroke-width="0.8"/><polyline points="49.6,228.6 49.8,235.0 50.0,235.0 50.0,237.1 50.1,237.1 50.1,239.2 50.3,239.2 50.6,244.9 50.8,244.9 51.6,263.1 52.9,280.2 53.5,285.5 54.1,295.4 54.3,297.7 54.5,297.7 54.5,298.8 54.6,298.8 54.7,301.0 54.9,301.0 55.2,304.3 55.4,304.3 55.5,306.5 55.7,306.5 55.7,307.5 55.9,307.5 55.9,308.6 56.1,308.6 56.1,309.6 56.3,309.6 56.3,310.7 56.5,310.7 56.7,312.7 56.9,312.7 56.9,313.7 57.0,313.7 57.2,315.7 57.4,315.7 57.6,317.7 57.9,317.7 57.9,318.6 58.1,318.6 58.1,319.6 58.4,319.6 58.4,320.5 58.7,320.5 58.7,321.5 58.9,321.5 58.9,322.4 59.2,322.4 59.2,323.3 59.5,323.3 59.5,324.2 59.7,324.2 59.7,325.1 60.2,325.1 60.2,326.1 60.7,326.1 60.7,327.0 61.3,327.0 61.3,327.9 61.8,327.9 61.8,328.9 62.4,328.9 62.4,329.9 63.2,329.9 63.2,330.9 65.1,330.9 65.1,332.1 67.2,332.1 67.2,333.3 70.7,333.3 70.7,334.6 74.6,334.6 74.6,335.5 76.5,335.5 76.5,336.5 78.5,336.5 78.5,337.4 80.5,337.4 80.5,338.3 83.2,338.3 83.2,339.3 86.7,339.3 86.7,339.6 90.8,339.6 90.8,339.9 91.6,339.9 91.6,340.2 92.3,340.2 92.3,340.5 106.4,340.5 106.4,340.9 124.0,340.9 124.0,341.3 151.7,341.3" fill="none" stroke="rgba(240,80,80,0.5)" stroke-width="0.8"/><polyline points="49.6,228.6 49.8,231.3 50.0,231.3 50.0,232.6 50.1,232.6 50.1,234.0 50.3,234.0 50.3,235.4 50.4,235.4 50.4,236.8 50.6,236.8 50.6,238.1 50.8,238.1 51.3,249.1 52.0,258.4 53.5,273.8 54.1,283.5 54.3,285.8 54.5,285.8 54.5,287.0 54.6,287.0 54.7,289.3 54.9,289.3 54.9,290.4 55.0,290.4 55.0,291.6 55.2,291.6 55.2,292.7 55.4,292.7 55.5,294.9 55.7,294.9 55.9,297.2 56.1,297.2 56.1,298.3 56.3,298.3 56.3,299.4 56.5,299.4 56.7,301.6 56.9,301.6 56.9,302.7 57.0,302.7 57.0,303.8 57.2,303.8 57.2,304.9 57.4,304.9 57.4,306.0 57.6,306.0 57.6,307.0 57.9,307.0 57.9,308.1 58.1,308.1 58.1,309.2 58.4,309.2 58.4,310.3 58.7,310.3 58.7,311.3 58.9,311.3 58.9,312.4 59.2,312.4 59.2,313.4 59.5,313.4 59.5,314.5 59.7,314.5 59.7,315.5 60.2,315.5 60.2,316.6 60.7,316.6 60.7,317.7 61.3,317.7 61.3,318.8 61.8,318.8 61.8,319.9 62.4,319.9 62.4,321.1 63.2,321.1 63.2,322.3 65.1,322.3 65.1,323.7 67.2,323.7 67.2,325.1 70.7,325.1 70.7,326.5 74.6,326.5 74.6,327.3 76.5,327.3 76.5,328.0 78.5,328.0 78.5,328.8 80.5,328.8 80.5,329.6 83.2,329.6 83.2,330.5 86.7,330.5 86.7,331.5 90.8,331.5 90.8,332.6 91.6,332.6 91.6,333.7 92.3,333.7 92.3,334.7 106.4,334.7 106.4,336.0 124.0,336.0 124.0,337.4 151.7,337.4" fill="none" stroke="#cc2020" stroke-width="1.5" stroke-linejoin="miter"/><polygon points="313.6,228.4 314.7,228.6 316.6,229.5 318.9,231.2 320.9,234.0 323.6,238.5 329.8,245.4 335.3,253.4 337.5,256.9 344.0,264.4 350.4,272.9 353.5,276.2 353.7,276.2 354.9,277.7 355.7,278.1 356.3,278.8 356.5,278.8 356.9,279.3 357.2,279.3 357.5,279.8 357.8,279.8 358.0,280.1 358.2,280.1 358.4,280.5 358.6,280.5 359.0,281.0 359.8,281.5 359.8,281.7 360.1,281.7 360.3,282.0 360.5,282.0 360.7,282.4 360.9,282.4 361.1,282.7 361.5,282.9 361.5,283.1 361.8,283.1 362.2,283.6 362.6,283.8 362.8,284.2 363.8,284.7 363.9,285.1 364.4,285.3 364.4,285.5 364.7,285.5 364.9,285.8 365.1,285.8 365.1,286.0 365.4,286.0 365.4,286.2 365.6,286.2 365.6,286.4 365.8,286.4 365.8,286.6 366.3,286.8 366.3,287.0 366.6,287.0 366.6,287.2 366.8,287.2 367.1,287.6 367.3,287.6 367.3,287.8 367.6,287.8 367.8,288.2 368.1,288.2 368.3,288.6 368.8,288.8 368.8,289.0 369.4,289.2 369.4,289.4 369.8,289.4 369.8,289.6 370.1,289.6 370.1,289.9 370.4,289.9 370.4,290.1 370.7,290.1 370.7,290.3 371.1,290.3 371.1,290.5 371.4,290.5 371.4,290.7 371.7,290.7 371.7,290.9 372.4,291.2 372.4,291.4 372.8,291.4 372.8,291.6 373.1,291.6 373.1,291.8 373.5,291.8 373.5,292.0 373.8,292.0 373.8,292.3 374.2,292.3 374.2,292.5 374.5,292.5 374.5,292.7 374.9,292.7 374.9,293.0 375.2,293.0 375.2,293.2 375.6,293.2 375.6,293.4 376.3,293.7 376.3,293.9 376.7,293.9 376.7,294.2 377.1,294.2 377.1,294.4 377.5,294.4 377.5,294.7 377.8,294.7 377.8,294.9 378.2,294.9 378.2,295.2 378.6,295.2 378.6,295.4 378.9,295.4 378.9,295.7 379.3,295.7 379.3,296.0 379.6,296.0 379.6,296.2 380.0,296.2 380.0,296.5 380.4,296.5 380.4,296.8 380.8,296.8 380.8,297.0 381.2,297.0 381.2,297.3 381.5,297.3 381.5,297.6 381.9,297.6 381.9,297.9 382.2,297.9 382.2,298.1 382.6,298.1 382.6,298.4 382.9,298.4 382.9,298.7 383.3,298.7 383.3,299.0 383.6,299.0 383.6,299.3 384.0,299.3 384.0,299.6 384.4,299.6 384.4,299.9 384.7,299.9 384.7,300.2 385.1,300.2 385.1,300.5 385.5,300.5 385.5,300.8 385.9,300.8 385.9,301.1 386.3,301.1 386.3,301.4 386.7,301.4 386.7,301.7 387.0,301.7 387.0,302.1 387.5,302.1 387.5,302.4 387.9,302.4 387.9,302.7 388.3,302.7 388.3,303.0 388.7,303.0 388.7,303.4 389.1,303.4 389.1,303.7 389.6,303.7 389.6,304.0 390.0,304.0 390.0,304.4 390.5,304.4 390.5,304.7 390.9,304.7 390.9,305.0 391.3,305.0 391.3,305.4 391.8,305.4 391.8,305.8 392.3,305.8 392.3,306.1 392.8,306.1 392.8,306.5 393.4,306.5 393.4,306.9 394.1,306.9 394.1,307.2 394.7,307.2 394.7,307.6 395.4,307.6 395.4,308.0 396.1,308.0 396.1,308.4 397.0,308.4 397.0,308.9 397.9,308.9 397.9,309.3 398.8,309.3 398.8,309.7 399.8,309.7 399.8,310.2 401.0,310.2 401.0,310.7 402.3,310.7 402.3,311.2 403.7,311.2 403.7,311.7 405.2,311.7 405.2,312.3 407.5,312.3 407.5,312.9 410.0,312.9 410.0,313.5 414.1,313.5 414.1,314.6 426.9,314.6 426.9,316.5 431.9,316.5 431.9,317.7 432.2,317.7 432.2,318.8 433.7,318.8 433.7,320.0 435.3,320.0 435.3,321.2 452.8,321.2 452.8,330.4 435.3,330.4 435.3,329.7 433.7,329.7 433.7,329.0 432.2,329.0 432.2,328.4 431.9,328.4 431.9,327.7 426.9,327.7 426.9,326.6 414.1,326.6 414.1,326.0 410.0,326.0 410.0,325.2 407.5,325.2 407.5,324.5 405.2,324.5 405.2,323.8 403.7,323.8 403.7,323.2 402.3,323.2 402.3,322.6 401.0,322.6 401.0,322.1 399.8,322.1 399.8,321.6 398.8,321.6 398.8,321.1 397.9,321.1 397.9,320.6 397.0,320.6 397.0,320.2 396.1,320.2 396.1,319.7 395.4,319.7 395.4,319.3 394.7,319.3 394.7,318.9 394.1,318.9 394.1,318.5 393.4,318.5 393.4,318.1 392.8,318.1 392.8,317.7 392.3,317.7 392.3,317.3 391.8,317.3 391.8,317.0 391.3,317.0 391.3,316.6 390.9,316.6 390.9,316.2 390.5,316.2 390.5,315.9 390.0,315.9 390.0,315.5 389.6,315.5 389.6,315.2 389.1,315.2 389.1,314.8 388.7,314.8 388.7,314.5 388.3,314.5 388.3,314.1 387.9,314.1 387.9,313.8 387.5,313.8 387.5,313.5 387.0,313.5 387.0,313.1 386.7,313.1 386.7,312.8 386.3,312.8 386.3,312.5 385.9,312.5 385.9,312.2 385.5,312.2 385.5,311.8 385.1,311.8 385.1,311.5 384.7,311.5 384.7,311.2 384.4,311.2 384.4,310.9 384.0,310.9 384.0,310.6 383.6,310.6 383.6,310.3 383.3,310.3 383.3,310.0 382.9,310.0 382.9,309.7 382.6,309.7 382.6,309.4 382.2,309.4 382.2,309.1 381.9,309.1 381.9,308.8 381.5,308.8 381.5,308.5 381.2,308.5 381.2,308.2 380.8,308.2 380.8,307.9 380.4,307.9 380.4,307.6 380.0,307.6 380.0,307.3 379.6,307.3 379.6,307.1 379.3,307.1 379.3,306.8 378.9,306.8 378.9,306.5 378.6,306.5 378.6,306.2 378.2,306.2 378.2,306.0 377.8,306.0 377.8,305.7 377.5,305.7 377.5,305.4 377.1,305.4 377.1,305.2 376.7,305.2 376.7,304.9 376.3,304.9 376.3,304.7 376.0,304.7 376.0,304.4 375.6,304.4 375.6,304.2 375.2,304.2 375.2,303.9 374.9,303.9 374.9,303.7 374.5,303.7 374.5,303.5 374.2,303.5 374.2,303.2 373.8,303.2 373.8,303.0 373.5,303.0 373.5,302.8 373.1,302.8 373.1,302.5 372.8,302.5 372.8,302.3 372.4,302.3 372.4,302.1 372.1,302.1 372.1,301.8 371.7,301.8 371.7,301.6 371.4,301.6 371.4,301.4 371.1,301.4 371.1,301.2 370.7,301.2 370.7,300.9 370.4,300.9 370.4,300.7 370.1,300.7 370.1,300.5 369.8,300.5 369.8,300.3 369.4,300.3 369.4,300.1 369.1,300.1 369.1,299.9 368.8,299.9 368.8,299.7 368.3,299.4 368.1,299.0 367.8,299.0 367.6,298.6 367.3,298.6 367.3,298.4 367.1,298.4 366.8,298.0 366.6,298.0 366.6,297.8 366.3,297.8 366.1,297.4 365.8,297.4 365.8,297.2 365.6,297.2 365.6,297.0 365.4,297.0 365.4,296.8 365.1,296.8 365.1,296.6 364.9,296.6 364.7,296.2 364.4,296.2 364.2,295.8 363.9,295.8 363.8,295.4 363.5,295.4 363.1,294.9 362.8,294.9 362.6,294.5 362.2,294.3 362.0,293.9 361.5,293.8 361.5,293.6 361.1,293.4 360.9,293.0 360.7,293.0 360.5,292.7 360.3,292.7 360.1,292.3 359.8,292.3 359.8,292.1 359.4,292.0 359.2,291.6 359.0,291.6 358.6,291.1 358.4,291.1 358.2,290.7 358.0,290.7 357.8,290.4 357.5,290.4 357.2,289.9 356.9,289.9 356.5,289.4 356.3,289.4 355.7,288.7 355.5,288.7 355.3,288.4 354.9,288.2 353.7,286.7 353.5,286.7 351.1,284.1 347.2,279.1 344.0,274.4 340.9,270.7 337.5,266.3 329.8,253.4 323.6,245.1 318.8,235.2 317.6,234.0 316.6,232.5 315.7,231.7 315.7,231.6 315.3,231.4 314.5,230.4 314.3,230.4 314.1,230.1 313.6,230.2 313.6,228.4" fill="rgba(95,95,255,0.14)" stroke="none"/><polyline points="313.6,228.4 314.7,228.6 316.6,229.5 318.9,231.2 320.9,234.0 323.6,238.5 329.8,245.4 335.3,253.4 337.5,256.9 344.0,264.4 350.4,272.9 353.5,276.2 353.7,276.2 354.9,277.7 355.7,278.1 356.3,278.8 356.5,278.8 356.9,279.3 357.2,279.3 357.5,279.8 357.8,279.8 358.0,280.1 358.2,280.1 358.4,280.5 358.6,280.5 359.0,281.0 359.8,281.5 359.8,281.7 360.1,281.7 360.3,282.0 360.5,282.0 360.7,282.4 360.9,282.4 361.1,282.7 361.5,282.9 361.5,283.1 361.8,283.1 362.2,283.6 362.6,283.8 362.8,284.2 363.8,284.7 363.9,285.1 364.4,285.3 364.4,285.5 364.7,285.5 364.9,285.8 365.1,285.8 365.1,286.0 365.4,286.0 365.4,286.2 365.6,286.2 365.6,286.4 365.8,286.4 365.8,286.6 366.3,286.8 366.3,287.0 366.6,287.0 366.6,287.2 366.8,287.2 367.1,287.6 367.3,287.6 367.3,287.8 367.6,287.8 367.8,288.2 368.1,288.2 368.3,288.6 368.8,288.8 368.8,289.0 369.4,289.2 369.4,289.4 369.8,289.4 369.8,289.6 370.1,289.6 370.1,289.9 370.4,289.9 370.4,290.1 370.7,290.1 370.7,290.3 371.1,290.3 371.1,290.5 371.4,290.5 371.4,290.7 371.7,290.7 371.7,290.9 372.4,291.2 372.4,291.4 372.8,291.4 372.8,291.6 373.1,291.6 373.1,291.8 373.5,291.8 373.5,292.0 373.8,292.0 373.8,292.3 374.2,292.3 374.2,292.5 374.5,292.5 374.5,292.7 374.9,292.7 374.9,293.0 375.2,293.0 375.2,293.2 375.6,293.2 375.6,293.4 376.3,293.7 376.3,293.9 376.7,293.9 376.7,294.2 377.1,294.2 377.1,294.4 377.5,294.4 377.5,294.7 377.8,294.7 377.8,294.9 378.2,294.9 378.2,295.2 378.6,295.2 378.6,295.4 378.9,295.4 378.9,295.7 379.3,295.7 379.3,296.0 379.6,296.0 379.6,296.2 380.0,296.2 380.0,296.5 380.4,296.5 380.4,296.8 380.8,296.8 380.8,297.0 381.2,297.0 381.2,297.3 381.5,297.3 381.5,297.6 381.9,297.6 381.9,297.9 382.2,297.9 382.2,298.1 382.6,298.1 382.6,298.4 382.9,298.4 382.9,298.7 383.3,298.7 383.3,299.0 383.6,299.0 383.6,299.3 384.0,299.3 384.0,299.6 384.4,299.6 384.4,299.9 384.7,299.9 384.7,300.2 385.1,300.2 385.1,300.5 385.5,300.5 385.5,300.8 385.9,300.8 385.9,301.1 386.3,301.1 386.3,301.4 386.7,301.4 386.7,301.7 387.0,301.7 387.0,302.1 387.5,302.1 387.5,302.4 387.9,302.4 387.9,302.7 388.3,302.7 388.3,303.0 388.7,303.0 388.7,303.4 389.1,303.4 389.1,303.7 389.6,303.7 389.6,304.0 390.0,304.0 390.0,304.4 390.5,304.4 390.5,304.7 390.9,304.7 390.9,305.0 391.3,305.0 391.3,305.4 391.8,305.4 391.8,305.8 392.3,305.8 392.3,306.1 392.8,306.1 392.8,306.5 393.4,306.5 393.4,306.9 394.1,306.9 394.1,307.2 394.7,307.2 394.7,307.6 395.4,307.6 395.4,308.0 396.1,308.0 396.1,308.4 397.0,308.4 397.0,308.9 397.9,308.9 397.9,309.3 398.8,309.3 398.8,309.7 399.8,309.7 399.8,310.2 401.0,310.2 401.0,310.7 402.3,310.7 402.3,311.2 403.7,311.2 403.7,311.7 405.2,311.7 405.2,312.3 407.5,312.3 407.5,312.9 410.0,312.9 410.0,313.5 414.1,313.5 414.1,314.6 426.9,314.6 426.9,316.5 431.9,316.5 431.9,317.7 432.2,317.7 432.2,318.8 433.7,318.8 433.7,320.0 435.3,320.0 435.3,321.2 452.8,321.2" fill="none" stroke="rgba(70,70,240,0.55)" stroke-width="0.8"/><polyline points="313.6,228.4 313.6,230.2 314.1,230.1 314.3,230.4 314.5,230.4 315.3,231.4 315.7,231.6 315.7,231.7 316.6,232.5 317.6,234.0 318.8,235.2 323.6,245.1 329.8,253.4 337.5,266.3 340.9,270.7 344.0,274.4 347.2,279.1 351.1,284.1 353.5,286.7 353.7,286.7 354.9,288.2 355.3,288.4 355.5,288.7 355.7,288.7 356.3,289.4 356.5,289.4 356.9,289.9 357.2,289.9 357.5,290.4 357.8,290.4 358.0,290.7 358.2,290.7 358.4,291.1 358.6,291.1 359.0,291.6 359.2,291.6 359.4,292.0 359.8,292.1 359.8,292.3 360.1,292.3 360.3,292.7 360.5,292.7 360.7,293.0 360.9,293.0 361.1,293.4 361.5,293.6 361.5,293.8 362.0,293.9 362.2,294.3 362.6,294.5 362.8,294.9 363.1,294.9 363.5,295.4 363.8,295.4 363.9,295.8 364.2,295.8 364.4,296.2 364.7,296.2 364.9,296.6 365.1,296.6 365.1,296.8 365.4,296.8 365.4,297.0 365.6,297.0 365.6,297.2 365.8,297.2 365.8,297.4 366.1,297.4 366.3,297.8 366.6,297.8 366.6,298.0 366.8,298.0 367.1,298.4 367.3,298.4 367.3,298.6 367.6,298.6 367.8,299.0 368.1,299.0 368.3,299.4 368.8,299.7 368.8,299.9 369.1,299.9 369.1,300.1 369.4,300.1 369.4,300.3 369.8,300.3 369.8,300.5 370.1,300.5 370.1,300.7 370.4,300.7 370.4,300.9 370.7,300.9 370.7,301.2 371.1,301.2 371.1,301.4 371.4,301.4 371.4,301.6 371.7,301.6 371.7,301.8 372.1,301.8 372.1,302.1 372.4,302.1 372.4,302.3 372.8,302.3 372.8,302.5 373.1,302.5 373.1,302.8 373.5,302.8 373.5,303.0 373.8,303.0 373.8,303.2 374.2,303.2 374.2,303.5 374.5,303.5 374.5,303.7 374.9,303.7 374.9,303.9 375.2,303.9 375.2,304.2 375.6,304.2 375.6,304.4 376.0,304.4 376.0,304.7 376.3,304.7 376.3,304.9 376.7,304.9 376.7,305.2 377.1,305.2 377.1,305.4 377.5,305.4 377.5,305.7 377.8,305.7 377.8,306.0 378.2,306.0 378.2,306.2 378.6,306.2 378.6,306.5 378.9,306.5 378.9,306.8 379.3,306.8 379.3,307.1 379.6,307.1 379.6,307.3 380.0,307.3 380.0,307.6 380.4,307.6 380.4,307.9 380.8,307.9 380.8,308.2 381.2,308.2 381.2,308.5 381.5,308.5 381.5,308.8 381.9,308.8 381.9,309.1 382.2,309.1 382.2,309.4 382.6,309.4 382.6,309.7 382.9,309.7 382.9,310.0 383.3,310.0 383.3,310.3 383.6,310.3 383.6,310.6 384.0,310.6 384.0,310.9 384.4,310.9 384.4,311.2 384.7,311.2 384.7,311.5 385.1,311.5 385.1,311.8 385.5,311.8 385.5,312.2 385.9,312.2 385.9,312.5 386.3,312.5 386.3,312.8 386.7,312.8 386.7,313.1 387.0,313.1 387.0,313.5 387.5,313.5 387.5,313.8 387.9,313.8 387.9,314.1 388.3,314.1 388.3,314.5 388.7,314.5 388.7,314.8 389.1,314.8 389.1,315.2 389.6,315.2 389.6,315.5 390.0,315.5 390.0,315.9 390.5,315.9 390.5,316.2 390.9,316.2 390.9,316.6 391.3,316.6 391.3,317.0 391.8,317.0 391.8,317.3 392.3,317.3 392.3,317.7 392.8,317.7 392.8,318.1 393.4,318.1 393.4,318.5 394.1,318.5 394.1,318.9 394.7,318.9 394.7,319.3 395.4,319.3 395.4,319.7 396.1,319.7 396.1,320.2 397.0,320.2 397.0,320.6 397.9,320.6 397.9,321.1 398.8,321.1 398.8,321.6 399.8,321.6 399.8,322.1 401.0,322.1 401.0,322.6 402.3,322.6 402.3,323.2 403.7,323.2 403.7,323.8 405.2,323.8 405.2,324.5 407.5,324.5 407.5,325.2 410.0,325.2 410.0,326.0 414.1,326.0 414.1,326.6 426.9,326.6 426.9,327.7 431.9,327.7 431.9,328.4 432.2,328.4 432.2,329.0 433.7,329.0 433.7,329.7 435.3,329.7 435.3,330.4 452.8,330.4" fill="none" stroke="rgba(70,70,240,0.55)" stroke-width="0.8"/><polyline points="313.6,228.4 316.6,230.5 318.9,232.9 320.9,236.2 323.6,241.4 329.8,249.1 337.5,261.4 344.0,269.2 347.2,273.8 351.1,278.8 353.5,281.3 353.7,281.3 354.9,282.8 355.3,283.0 355.5,283.3 355.7,283.3 356.3,284.0 356.5,284.0 356.9,284.5 357.2,284.5 357.5,285.0 357.8,285.0 358.0,285.3 358.2,285.3 358.4,285.7 358.6,285.7 359.0,286.2 359.2,286.2 359.4,286.5 359.8,286.7 359.8,286.9 360.1,286.9 360.3,287.2 360.5,287.2 360.7,287.6 360.9,287.6 361.1,288.0 361.5,288.1 361.5,288.3 362.0,288.5 362.2,288.9 362.6,289.1 362.8,289.4 363.1,289.4 363.5,290.0 363.8,290.0 363.9,290.4 364.4,290.6 364.4,290.8 364.7,290.8 364.9,291.2 365.1,291.2 365.1,291.4 365.4,291.4 365.4,291.5 365.6,291.5 365.6,291.7 365.8,291.7 365.8,291.9 366.3,292.1 366.3,292.3 366.6,292.3 366.6,292.5 366.8,292.5 367.1,292.9 367.3,292.9 367.3,293.2 367.6,293.2 367.8,293.6 368.1,293.6 368.3,294.0 368.8,294.2 368.8,294.4 369.1,294.4 369.1,294.6 369.4,294.6 369.4,294.8 369.8,294.8 369.8,295.0 370.1,295.0 370.1,295.2 370.4,295.2 370.4,295.5 370.7,295.5 370.7,295.7 371.1,295.7 371.1,295.9 371.4,295.9 371.4,296.1 371.7,296.1 371.7,296.3 372.1,296.3 372.1,296.6 372.4,296.6 372.4,296.8 372.8,296.8 372.8,297.0 373.1,297.0 373.1,297.3 373.5,297.3 373.5,297.5 373.8,297.5 373.8,297.7 374.2,297.7 374.2,298.0 374.5,298.0 374.5,298.2 374.9,298.2 374.9,298.4 375.2,298.4 375.2,298.7 375.6,298.7 375.6,298.9 376.0,298.9 376.0,299.2 376.3,299.2 376.3,299.4 376.7,299.4 376.7,299.7 377.1,299.7 377.1,299.9 377.5,299.9 377.5,300.2 377.8,300.2 377.8,300.4 378.2,300.4 378.2,300.7 378.6,300.7 378.6,301.0 378.9,301.0 378.9,301.2 379.3,301.2 379.3,301.5 379.6,301.5 379.6,301.8 380.0,301.8 380.0,302.1 380.4,302.1 380.4,302.3 380.8,302.3 380.8,302.6 381.2,302.6 381.2,302.9 381.5,302.9 381.5,303.2 381.9,303.2 381.9,303.5 382.2,303.5 382.2,303.8 382.6,303.8 382.6,304.1 382.9,304.1 382.9,304.4 383.3,304.4 383.3,304.7 383.6,304.7 383.6,305.0 384.0,305.0 384.0,305.3 384.4,305.3 384.4,305.6 384.7,305.6 384.7,305.9 385.1,305.9 385.1,306.2 385.5,306.2 385.5,306.5 385.9,306.5 385.9,306.9 386.3,306.9 386.3,307.2 386.7,307.2 386.7,307.5 387.0,307.5 387.0,307.8 387.5,307.8 387.5,308.2 387.9,308.2 387.9,308.5 388.3,308.5 388.3,308.8 388.7,308.8 388.7,309.2 389.1,309.2 389.1,309.5 389.6,309.5 389.6,309.9 390.0,309.9 390.0,310.2 390.5,310.2 390.5,310.6 390.9,310.6 390.9,310.9 391.3,310.9 391.3,311.3 391.8,311.3 391.8,311.7 392.3,311.7 392.3,312.0 392.8,312.0 392.8,312.4 393.4,312.4 393.4,312.8 394.1,312.8 394.1,313.2 394.7,313.2 394.7,313.6 395.4,313.6 395.4,314.0 396.1,314.0 396.1,314.5 397.0,314.5 397.0,314.9 397.9,314.9 397.9,315.4 398.8,315.4 398.8,315.9 399.8,315.9 399.8,316.4 401.0,316.4 401.0,316.9 402.3,316.9 402.3,317.4 403.7,317.4 403.7,318.0 405.2,318.0 405.2,318.6 407.5,318.6 407.5,319.3 410.0,319.3 410.0,320.1 414.1,320.1 414.1,320.9 426.9,320.9 426.9,322.4 431.9,322.4 431.9,323.4 432.2,323.4 432.2,324.2 433.7,324.2 433.7,325.2 435.3,325.2 435.3,326.1 452.8,326.1" fill="none" stroke="#1a1abe" stroke-width="1.5" stroke-linejoin="miter"/><polygon points="313.6,228.4 313.9,228.4 314.1,228.7 314.6,230.0 315.4,232.9 316.6,238.4 318.3,242.5 319.6,246.5 321.0,248.9 322.6,253.8 322.8,253.8 325.4,259.5 325.8,260.0 326.3,261.3 326.5,261.3 327.3,263.3 327.5,263.3 329.8,268.8 329.9,268.8 330.4,270.1 330.6,270.1 331.0,271.4 331.2,271.4 331.6,272.7 331.8,272.7 332.5,274.5 332.6,274.5 333.9,277.6 334.1,277.6 335.0,279.7 335.2,279.7 335.4,280.2 335.6,280.2 335.7,280.8 335.9,280.8 336.1,281.3 336.3,281.3 336.4,281.8 336.6,281.8 337.0,282.6 337.2,282.6 337.4,283.1 337.7,283.4 337.9,283.9 338.1,283.9 338.1,284.2 338.7,284.4 338.7,284.7 338.9,284.7 339.2,285.2 339.4,285.2 339.4,285.5 339.7,285.5 339.7,285.8 340.0,285.8 340.0,286.1 340.2,286.1 340.2,286.3 340.5,286.3 340.5,286.6 340.8,286.6 340.8,286.9 341.0,286.9 341.3,287.4 341.5,287.4 341.5,287.7 341.8,287.7 341.8,288.0 342.3,288.0 342.3,288.2 342.8,288.2 342.8,288.5 343.2,288.5 343.2,288.8 343.7,288.8 343.7,289.1 344.2,289.1 344.2,289.4 344.7,289.4 344.7,289.7 345.1,289.7 345.1,290.0 345.6,290.0 345.6,290.2 346.1,290.2 346.1,290.5 346.5,290.5 346.5,290.8 347.0,290.8 347.0,291.1 347.4,291.1 347.4,291.4 347.9,291.4 347.9,291.7 348.4,291.7 348.4,292.0 348.8,292.0 348.8,292.4 349.3,292.4 349.3,292.7 349.7,292.7 349.7,293.0 350.2,293.0 350.2,293.3 350.7,293.3 350.7,293.6 351.2,293.6 351.2,293.9 351.6,293.9 351.6,294.2 352.1,294.2 352.1,294.6 352.6,294.6 352.6,294.9 353.1,294.9 353.1,295.2 353.6,295.2 353.6,295.5 354.2,295.5 354.2,295.9 354.7,295.9 354.7,296.2 355.4,296.2 355.4,296.5 355.9,296.5 355.9,296.9 356.5,296.9 356.5,297.2 357.2,297.2 357.2,297.5 357.7,297.5 357.7,297.9 358.3,297.9 358.3,298.2 358.9,298.2 358.9,298.6 359.4,298.6 359.4,298.9 359.8,298.9 359.8,299.3 360.3,299.3 360.3,299.6 360.8,299.6 360.8,300.0 361.3,300.0 361.3,300.4 361.7,300.4 361.7,300.7 362.2,300.7 362.2,301.1 362.6,301.1 362.6,301.5 363.1,301.5 363.1,301.8 363.6,301.8 363.6,302.2 364.4,302.2 364.4,302.6 365.3,302.6 365.3,303.0 366.1,303.0 366.1,303.3 367.0,303.3 367.0,303.7 367.9,303.7 367.9,304.1 368.8,304.1 368.8,304.5 369.6,304.5 369.6,304.9 370.5,304.9 370.5,305.4 371.4,305.4 371.4,305.8 372.3,305.8 372.3,306.2 373.2,306.2 373.2,306.7 374.2,306.7 374.2,307.1 375.3,307.1 375.3,307.5 376.6,307.5 376.6,308.0 377.9,308.0 377.9,308.5 379.3,308.5 379.3,309.0 380.6,309.0 380.6,309.5 382.1,309.5 382.1,310.0 383.6,310.0 383.6,310.6 385.1,310.6 385.1,311.2 386.7,311.2 386.7,311.8 388.2,311.8 388.2,312.4 389.9,312.4 389.9,313.0 391.6,313.0 391.6,313.7 393.5,313.7 393.5,314.4 395.8,314.4 395.8,315.2 398.3,315.2 398.3,316.0 400.8,316.0 400.8,316.9 403.6,316.9 403.6,317.9 404.2,317.9 404.2,319.0 404.9,319.0 404.9,320.0 431.6,320.0 431.6,318.3 431.8,318.3 431.8,318.0 432.1,318.0 432.1,318.6 452.8,318.6 452.8,338.7 432.1,338.7 432.1,337.2 431.8,337.2 431.8,335.1 431.6,335.1 431.6,331.7 404.9,331.7 404.9,330.5 404.2,330.5 404.2,329.4 403.6,329.4 403.6,328.1 400.8,328.1 400.8,327.0 398.3,327.0 398.3,326.0 395.8,326.0 395.8,325.1 393.5,325.1 393.5,324.3 391.6,324.3 391.6,323.6 389.9,323.6 389.9,322.9 388.2,322.9 388.2,322.2 386.7,322.2 386.7,321.6 385.1,321.6 385.1,321.0 383.6,321.0 383.6,320.5 382.1,320.5 382.1,319.9 380.6,319.9 380.6,319.4 379.3,319.4 379.3,318.9 377.9,318.9 377.9,318.4 376.6,318.4 376.6,317.9 375.3,317.9 375.3,317.5 374.2,317.5 374.2,317.0 373.2,317.0 373.2,316.6 372.3,316.6 372.3,316.2 371.4,316.2 371.4,315.8 370.5,315.8 370.5,315.4 369.6,315.4 369.6,315.0 368.8,315.0 368.8,314.6 367.9,314.6 367.9,314.2 367.0,314.2 367.0,313.8 366.1,313.8 366.1,313.4 365.3,313.4 365.3,313.0 364.4,313.0 364.4,312.7 363.6,312.7 363.6,312.3 363.1,312.3 363.1,311.9 362.6,311.9 362.6,311.6 362.2,311.6 362.2,311.2 361.7,311.2 361.7,310.9 361.3,310.9 361.3,310.5 360.8,310.5 360.8,310.2 360.3,310.2 360.3,309.8 359.8,309.8 359.8,309.5 359.4,309.5 359.4,309.1 358.9,309.1 358.9,308.8 358.3,308.8 358.3,308.4 357.7,308.4 357.7,308.1 357.2,308.1 357.2,307.7 356.5,307.7 356.5,307.4 355.9,307.4 355.9,307.1 355.4,307.1 355.4,306.7 354.7,306.7 354.7,306.4 354.2,306.4 354.2,306.1 353.6,306.1 353.6,305.8 353.1,305.8 353.1,305.4 352.6,305.4 352.6,305.1 352.1,305.1 352.1,304.8 351.6,304.8 351.6,304.5 351.2,304.5 351.2,304.2 350.7,304.2 350.7,303.9 350.2,303.9 350.2,303.6 349.7,303.6 349.7,303.3 349.3,303.3 349.3,303.0 348.8,303.0 348.8,302.7 348.4,302.7 348.4,302.4 347.9,302.4 347.9,302.1 347.4,302.1 347.4,301.8 347.0,301.8 347.0,301.5 346.5,301.5 346.5,301.2 346.1,301.2 346.1,300.9 345.6,300.9 345.6,300.6 345.1,300.6 345.1,300.3 344.7,300.3 344.7,300.0 344.2,300.0 344.2,299.7 343.7,299.7 343.7,299.5 343.2,299.5 343.2,299.2 342.8,299.2 342.8,298.9 342.3,298.9 342.3,298.6 341.8,298.6 341.8,298.4 341.5,298.4 341.5,298.1 341.3,298.1 341.0,297.5 340.8,297.5 340.8,297.3 340.5,297.3 340.5,297.0 340.2,297.0 340.2,296.7 340.0,296.7 340.0,296.5 339.7,296.5 339.7,296.2 339.4,296.2 339.4,295.9 339.2,295.9 339.2,295.7 338.9,295.7 338.9,295.4 338.7,295.4 338.7,295.2 338.4,295.2 338.4,294.9 338.1,294.9 338.1,294.6 337.9,294.6 337.5,293.8 337.4,293.8 337.2,293.3 337.0,293.3 336.6,292.5 336.4,292.5 336.3,292.0 336.1,292.0 336.1,291.8 335.7,291.5 335.6,291.0 335.4,291.0 335.2,290.5 335.0,290.5 334.8,289.9 334.6,289.9 331.8,283.3 331.6,283.3 329.9,279.3 329.8,279.3 327.5,273.5 327.3,273.5 327.1,272.7 327.0,272.7 326.8,272.2 326.7,272.2 325.5,269.4 325.4,269.4 322.8,263.2 322.6,263.2 321.0,257.7 319.6,254.9 318.3,250.3 316.6,245.2 314.1,230.8 313.9,230.2 313.6,230.2 313.6,228.4" fill="rgba(95,215,95,0.2)" stroke="none"/><polyline points="313.6,228.4 313.9,228.4 314.1,228.7 314.6,230.0 315.4,232.9 316.6,238.4 318.3,242.5 319.6,246.5 321.0,248.9 322.6,253.8 322.8,253.8 325.4,259.5 325.8,260.0 326.3,261.3 326.5,261.3 327.3,263.3 327.5,263.3 329.8,268.8 329.9,268.8 330.4,270.1 330.6,270.1 331.0,271.4 331.2,271.4 331.6,272.7 331.8,272.7 332.5,274.5 332.6,274.5 333.9,277.6 334.1,277.6 335.0,279.7 335.2,279.7 335.4,280.2 335.6,280.2 335.7,280.8 335.9,280.8 336.1,281.3 336.3,281.3 336.4,281.8 336.6,281.8 337.0,282.6 337.2,282.6 337.4,283.1 337.7,283.4 337.9,283.9 338.1,283.9 338.1,284.2 338.7,284.4 338.7,284.7 338.9,284.7 339.2,285.2 339.4,285.2 339.4,285.5 339.7,285.5 339.7,285.8 340.0,285.8 340.0,286.1 340.2,286.1 340.2,286.3 340.5,286.3 340.5,286.6 340.8,286.6 340.8,286.9 341.0,286.9 341.3,287.4 341.5,287.4 341.5,287.7 341.8,287.7 341.8,288.0 342.3,288.0 342.3,288.2 342.8,288.2 342.8,288.5 343.2,288.5 343.2,288.8 343.7,288.8 343.7,289.1 344.2,289.1 344.2,289.4 344.7,289.4 344.7,289.7 345.1,289.7 345.1,290.0 345.6,290.0 345.6,290.2 346.1,290.2 346.1,290.5 346.5,290.5 346.5,290.8 347.0,290.8 347.0,291.1 347.4,291.1 347.4,291.4 347.9,291.4 347.9,291.7 348.4,291.7 348.4,292.0 348.8,292.0 348.8,292.4 349.3,292.4 349.3,292.7 349.7,292.7 349.7,293.0 350.2,293.0 350.2,293.3 350.7,293.3 350.7,293.6 351.2,293.6 351.2,293.9 351.6,293.9 351.6,294.2 352.1,294.2 352.1,294.6 352.6,294.6 352.6,294.9 353.1,294.9 353.1,295.2 353.6,295.2 353.6,295.5 354.2,295.5 354.2,295.9 354.7,295.9 354.7,296.2 355.4,296.2 355.4,296.5 355.9,296.5 355.9,296.9 356.5,296.9 356.5,297.2 357.2,297.2 357.2,297.5 357.7,297.5 357.7,297.9 358.3,297.9 358.3,298.2 358.9,298.2 358.9,298.6 359.4,298.6 359.4,298.9 359.8,298.9 359.8,299.3 360.3,299.3 360.3,299.6 360.8,299.6 360.8,300.0 361.3,300.0 361.3,300.4 361.7,300.4 361.7,300.7 362.2,300.7 362.2,301.1 362.6,301.1 362.6,301.5 363.1,301.5 363.1,301.8 363.6,301.8 363.6,302.2 364.4,302.2 364.4,302.6 365.3,302.6 365.3,303.0 366.1,303.0 366.1,303.3 367.0,303.3 367.0,303.7 367.9,303.7 367.9,304.1 368.8,304.1 368.8,304.5 369.6,304.5 369.6,304.9 370.5,304.9 370.5,305.4 371.4,305.4 371.4,305.8 372.3,305.8 372.3,306.2 373.2,306.2 373.2,306.7 374.2,306.7 374.2,307.1 375.3,307.1 375.3,307.5 376.6,307.5 376.6,308.0 377.9,308.0 377.9,308.5 379.3,308.5 379.3,309.0 380.6,309.0 380.6,309.5 382.1,309.5 382.1,310.0 383.6,310.0 383.6,310.6 385.1,310.6 385.1,311.2 386.7,311.2 386.7,311.8 388.2,311.8 388.2,312.4 389.9,312.4 389.9,313.0 391.6,313.0 391.6,313.7 393.5,313.7 393.5,314.4 395.8,314.4 395.8,315.2 398.3,315.2 398.3,316.0 400.8,316.0 400.8,316.9 403.6,316.9 403.6,317.9 404.2,317.9 404.2,319.0 404.9,319.0 404.9,320.0 431.6,320.0 431.6,318.3 431.8,318.3 431.8,318.0 432.1,318.0 432.1,318.6 452.8,318.6" fill="none" stroke="rgba(60,175,60,0.5)" stroke-width="0.8"/><polyline points="313.6,228.4 313.6,230.2 313.9,230.2 314.1,230.8 316.6,245.2 318.3,250.3 319.6,254.9 321.0,257.7 322.6,263.2 322.8,263.2 325.4,269.4 325.5,269.4 326.7,272.2 326.8,272.2 327.0,272.7 327.1,272.7 327.3,273.5 327.5,273.5 329.8,279.3 329.9,279.3 331.6,283.3 331.8,283.3 334.6,289.9 334.8,289.9 335.0,290.5 335.2,290.5 335.4,291.0 335.6,291.0 335.7,291.5 336.1,291.8 336.1,292.0 336.3,292.0 336.4,292.5 336.6,292.5 337.0,293.3 337.2,293.3 337.4,293.8 337.5,293.8 337.9,294.6 338.1,294.6 338.1,294.9 338.4,294.9 338.4,295.2 338.7,295.2 338.7,295.4 338.9,295.4 338.9,295.7 339.2,295.7 339.2,295.9 339.4,295.9 339.4,296.2 339.7,296.2 339.7,296.5 340.0,296.5 340.0,296.7 340.2,296.7 340.2,297.0 340.5,297.0 340.5,297.3 340.8,297.3 340.8,297.5 341.0,297.5 341.3,298.1 341.5,298.1 341.5,298.4 341.8,298.4 341.8,298.6 342.3,298.6 342.3,298.9 342.8,298.9 342.8,299.2 343.2,299.2 343.2,299.5 343.7,299.5 343.7,299.7 344.2,299.7 344.2,300.0 344.7,300.0 344.7,300.3 345.1,300.3 345.1,300.6 345.6,300.6 345.6,300.9 346.1,300.9 346.1,301.2 346.5,301.2 346.5,301.5 347.0,301.5 347.0,301.8 347.4,301.8 347.4,302.1 347.9,302.1 347.9,302.4 348.4,302.4 348.4,302.7 348.8,302.7 348.8,303.0 349.3,303.0 349.3,303.3 349.7,303.3 349.7,303.6 350.2,303.6 350.2,303.9 350.7,303.9 350.7,304.2 351.2,304.2 351.2,304.5 351.6,304.5 351.6,304.8 352.1,304.8 352.1,305.1 352.6,305.1 352.6,305.4 353.1,305.4 353.1,305.8 353.6,305.8 353.6,306.1 354.2,306.1 354.2,306.4 354.7,306.4 354.7,306.7 355.4,306.7 355.4,307.1 355.9,307.1 355.9,307.4 356.5,307.4 356.5,307.7 357.2,307.7 357.2,308.1 357.7,308.1 357.7,308.4 358.3,308.4 358.3,308.8 358.9,308.8 358.9,309.1 359.4,309.1 359.4,309.5 359.8,309.5 359.8,309.8 360.3,309.8 360.3,310.2 360.8,310.2 360.8,310.5 361.3,310.5 361.3,310.9 361.7,310.9 361.7,311.2 362.2,311.2 362.2,311.6 362.6,311.6 362.6,311.9 363.1,311.9 363.1,312.3 363.6,312.3 363.6,312.7 364.4,312.7 364.4,313.0 365.3,313.0 365.3,313.4 366.1,313.4 366.1,313.8 367.0,313.8 367.0,314.2 367.9,314.2 367.9,314.6 368.8,314.6 368.8,315.0 369.6,315.0 369.6,315.4 370.5,315.4 370.5,315.8 371.4,315.8 371.4,316.2 372.3,316.2 372.3,316.6 373.2,316.6 373.2,317.0 374.2,317.0 374.2,317.5 375.3,317.5 375.3,317.9 376.6,317.9 376.6,318.4 377.9,318.4 377.9,318.9 379.3,318.9 379.3,319.4 380.6,319.4 380.6,319.9 382.1,319.9 382.1,320.5 383.6,320.5 383.6,321.0 385.1,321.0 385.1,321.6 386.7,321.6 386.7,322.2 388.2,322.2 388.2,322.9 389.9,322.9 389.9,323.6 391.6,323.6 391.6,324.3 393.5,324.3 393.5,325.1 395.8,325.1 395.8,326.0 398.3,326.0 398.3,327.0 400.8,327.0 400.8,328.1 403.6,328.1 403.6,329.4 404.2,329.4 404.2,330.5 404.9,330.5 404.9,331.7 431.6,331.7 431.6,335.1 431.8,335.1 431.8,337.2 432.1,337.2 432.1,338.7 452.8,338.7" fill="none" stroke="rgba(60,175,60,0.5)" stroke-width="0.8"/><polyline points="313.6,228.4 313.6,228.7 313.9,228.7 314.3,230.0 316.8,242.2 318.3,246.0 319.6,250.4 321.0,253.0 322.6,258.2 322.8,258.2 325.4,264.2 325.5,264.2 326.7,266.9 326.8,266.9 327.0,267.4 327.1,267.4 327.3,268.2 327.5,268.2 329.8,273.8 329.9,273.8 331.0,276.5 331.2,276.5 331.6,277.8 331.8,277.8 334.6,284.4 334.8,284.4 335.0,285.0 335.4,285.2 335.4,285.5 335.6,285.5 335.7,286.0 335.9,286.0 336.1,286.5 336.3,286.5 336.4,287.1 336.8,287.3 337.0,287.9 337.2,287.9 337.4,288.4 337.7,288.7 337.9,289.2 338.1,289.2 338.1,289.4 338.4,289.4 338.4,289.7 338.7,289.7 338.7,290.0 338.9,290.0 338.9,290.3 339.2,290.3 339.2,290.5 339.4,290.5 339.4,290.8 339.7,290.8 339.7,291.1 340.0,291.1 340.0,291.3 340.2,291.3 340.2,291.6 340.5,291.6 340.5,291.9 340.8,291.9 340.8,292.1 341.0,292.1 341.3,292.7 341.5,292.7 341.5,293.0 341.8,293.0 341.8,293.2 342.3,293.2 342.3,293.5 342.8,293.5 342.8,293.8 343.2,293.8 343.2,294.1 343.7,294.1 343.7,294.4 344.2,294.4 344.2,294.6 344.7,294.6 344.7,294.9 345.1,294.9 345.1,295.2 345.6,295.2 345.6,295.5 346.1,295.5 346.1,295.8 346.5,295.8 346.5,296.1 347.0,296.1 347.0,296.4 347.4,296.4 347.4,296.7 347.9,296.7 347.9,297.0 348.4,297.0 348.4,297.3 348.8,297.3 348.8,297.6 349.3,297.6 349.3,297.9 349.7,297.9 349.7,298.2 350.2,298.2 350.2,298.6 350.7,298.6 350.7,298.9 351.2,298.9 351.2,299.2 351.6,299.2 351.6,299.5 352.1,299.5 352.1,299.8 352.6,299.8 352.6,300.2 353.1,300.2 353.1,300.5 353.6,300.5 353.6,300.8 354.2,300.8 354.2,301.1 354.7,301.1 354.7,301.5 355.4,301.5 355.4,301.8 355.9,301.8 355.9,302.1 356.5,302.1 356.5,302.5 357.2,302.5 357.2,302.8 357.7,302.8 357.7,303.2 358.3,303.2 358.3,303.5 358.9,303.5 358.9,303.9 359.4,303.9 359.4,304.2 359.8,304.2 359.8,304.6 360.3,304.6 360.3,304.9 360.8,304.9 360.8,305.3 361.3,305.3 361.3,305.7 361.7,305.7 361.7,306.0 362.2,306.0 362.2,306.4 362.6,306.4 362.6,306.7 363.1,306.7 363.1,307.1 363.6,307.1 363.6,307.5 364.4,307.5 364.4,307.9 365.3,307.9 365.3,308.2 366.1,308.2 366.1,308.6 367.0,308.6 367.0,309.0 367.9,309.0 367.9,309.4 368.8,309.4 368.8,309.8 369.6,309.8 369.6,310.2 370.5,310.2 370.5,310.7 371.4,310.7 371.4,311.1 372.3,311.1 372.3,311.5 373.2,311.5 373.2,311.9 374.2,311.9 374.2,312.4 375.3,312.4 375.3,312.9 376.6,312.9 376.6,313.3 377.9,313.3 377.9,313.8 379.3,313.8 379.3,314.3 380.6,314.3 380.6,314.8 382.1,314.8 382.1,315.4 383.6,315.4 383.6,316.0 385.1,316.0 385.1,316.6 386.7,316.6 386.7,317.2 388.2,317.2 388.2,317.8 389.9,317.8 389.9,318.5 391.6,318.5 391.6,319.2 393.5,319.2 393.5,320.0 395.8,320.0 395.8,320.8 398.3,320.8 398.3,321.8 400.8,321.8 400.8,322.8 403.6,322.8 403.6,324.0 404.2,324.0 404.2,325.2 404.9,325.2 404.9,326.3 431.6,326.3 431.6,327.9 431.8,327.9 431.8,329.4 432.1,329.4 432.1,331.0 452.8,331.0" fill="none" stroke="#1e8029" stroke-width="1.5" stroke-linejoin="miter"/><line x1="452.80" y1="331.00" x2="452.80" y2="344.0" stroke="#1e8029" stroke-width="1.2"/><polygon points="313.6,228.4 314.3,228.4 314.3,228.6 314.8,232.5 315.0,232.5 315.1,234.3 315.3,234.3 315.3,235.2 315.4,235.2 315.4,236.1 315.6,236.1 315.9,239.0 316.1,239.0 316.1,240.0 316.2,240.0 316.2,240.9 316.6,240.9 316.6,241.9 316.9,241.9 316.9,242.9 317.2,242.9 317.2,243.9 317.5,243.9 317.5,244.9 317.8,244.9 318.1,248.0 318.3,248.0 318.3,249.1 318.6,249.1 318.6,250.1 318.9,250.1 318.9,251.2 319.2,251.2 319.2,252.2 319.5,252.2 319.5,253.3 319.7,253.3 319.7,254.4 320.0,254.4 320.0,255.5 320.3,255.5 320.3,256.5 320.6,256.5 320.6,257.6 320.9,257.6 320.9,258.7 321.2,258.7 321.2,259.8 321.5,259.8 321.5,260.9 321.9,260.9 321.9,262.0 322.3,262.0 322.3,263.2 322.7,263.2 322.7,264.3 323.1,264.3 323.1,265.4 323.4,265.4 323.4,266.6 323.7,266.6 323.7,267.7 324.1,267.7 324.1,268.9 324.4,268.9 324.4,270.0 324.8,270.0 324.8,271.2 325.2,271.2 325.2,272.4 325.7,272.4 325.7,273.6 326.3,273.6 326.3,274.8 326.9,274.8 326.9,276.0 327.5,276.0 327.5,277.2 327.9,277.2 327.9,278.4 328.2,278.4 328.2,279.7 328.6,279.7 328.6,280.9 328.9,280.9 328.9,282.1 329.3,282.1 329.3,283.3 329.6,283.3 329.6,284.6 330.1,284.6 330.1,285.8 330.6,285.8 330.6,287.0 331.1,287.0 331.1,288.2 331.5,288.2 331.5,289.4 332.3,289.4 332.3,290.6 333.6,290.6 333.6,291.8 334.9,291.8 334.9,293.0 336.2,293.0 336.2,294.3 337.4,294.3 337.4,295.5 338.6,295.5 338.6,296.8 340.0,296.8 340.0,298.1 341.4,298.1 341.4,299.4 343.2,299.4 343.2,300.8 345.7,300.8 345.7,302.2 347.1,302.2 347.1,303.7 348.5,303.7 348.5,305.2 349.9,305.2 349.9,306.7 351.5,306.7 351.5,308.3 354.5,308.3 354.5,310.0 356.3,310.0 356.3,311.8 358.0,311.8 358.0,313.7 359.6,313.7 359.6,315.5 413.3,315.5 413.3,321.5 431.0,321.5 431.0,335.7 413.3,335.7 413.3,333.6 359.6,333.6 359.6,332.1 358.0,332.1 358.0,330.6 356.3,330.6 356.3,329.1 354.5,329.1 354.5,327.6 351.5,327.6 351.5,326.3 349.9,326.3 349.9,325.0 348.5,325.0 348.5,323.7 347.1,323.7 347.1,322.5 345.7,322.5 345.7,321.2 343.2,321.2 343.2,320.1 341.4,320.1 341.4,319.0 340.0,319.0 340.0,317.9 338.6,317.9 338.6,316.8 337.4,316.8 337.4,315.7 336.2,315.7 336.2,314.6 334.9,314.6 334.9,313.5 333.6,313.5 333.6,312.5 332.3,312.5 332.3,311.4 331.5,311.4 331.5,310.3 331.1,310.3 331.1,309.3 330.6,309.3 330.6,308.2 330.1,308.2 330.1,307.1 329.6,307.1 329.6,305.9 329.3,305.9 329.3,304.8 328.9,304.8 328.9,303.6 328.6,303.6 328.6,302.4 328.2,302.4 328.2,301.2 327.9,301.2 327.9,300.0 327.5,300.0 327.5,298.7 326.9,298.7 326.9,297.5 326.3,297.5 326.3,296.3 325.7,296.3 325.7,295.1 325.2,295.1 325.2,293.9 324.8,293.9 324.8,292.7 324.4,292.7 324.4,291.5 324.1,291.5 324.1,290.3 323.7,290.3 323.7,289.1 323.4,289.1 323.4,287.9 323.1,287.9 323.1,286.7 322.7,286.7 322.7,285.4 322.3,285.4 322.3,284.2 321.9,284.2 321.9,283.0 321.5,283.0 321.5,281.8 321.2,281.8 321.2,280.5 320.9,280.5 320.9,279.3 320.6,279.3 320.6,278.1 320.3,278.1 320.3,276.8 320.0,276.8 320.0,275.6 319.7,275.6 319.7,274.3 319.5,274.3 319.5,273.1 319.2,273.1 319.2,271.8 318.9,271.8 318.9,270.5 318.6,270.5 318.6,269.3 318.3,269.3 318.0,265.4 317.8,265.4 317.8,264.1 317.5,264.1 317.5,262.8 317.2,262.8 317.2,261.4 316.9,261.4 316.9,260.1 316.6,260.1 316.6,258.8 316.2,258.8 316.1,256.1 315.9,256.1 315.7,253.3 315.6,253.3 315.6,251.9 315.4,251.9 315.0,246.1 314.8,246.1 314.5,239.8 314.3,239.8 313.9,232.1 313.9,228.4 313.6,228.4" fill="rgba(255,95,95,0.15)" stroke="none"/><polyline points="313.6,228.4 314.3,228.4 314.3,228.6 314.8,232.5 315.0,232.5 315.1,234.3 315.3,234.3 315.3,235.2 315.4,235.2 315.4,236.1 315.6,236.1 315.9,239.0 316.1,239.0 316.1,240.0 316.2,240.0 316.2,240.9 316.6,240.9 316.6,241.9 316.9,241.9 316.9,242.9 317.2,242.9 317.2,243.9 317.5,243.9 317.5,244.9 317.8,244.9 318.1,248.0 318.3,248.0 318.3,249.1 318.6,249.1 318.6,250.1 318.9,250.1 318.9,251.2 319.2,251.2 319.2,252.2 319.5,252.2 319.5,253.3 319.7,253.3 319.7,254.4 320.0,254.4 320.0,255.5 320.3,255.5 320.3,256.5 320.6,256.5 320.6,257.6 320.9,257.6 320.9,258.7 321.2,258.7 321.2,259.8 321.5,259.8 321.5,260.9 321.9,260.9 321.9,262.0 322.3,262.0 322.3,263.2 322.7,263.2 322.7,264.3 323.1,264.3 323.1,265.4 323.4,265.4 323.4,266.6 323.7,266.6 323.7,267.7 324.1,267.7 324.1,268.9 324.4,268.9 324.4,270.0 324.8,270.0 324.8,271.2 325.2,271.2 325.2,272.4 325.7,272.4 325.7,273.6 326.3,273.6 326.3,274.8 326.9,274.8 326.9,276.0 327.5,276.0 327.5,277.2 327.9,277.2 327.9,278.4 328.2,278.4 328.2,279.7 328.6,279.7 328.6,280.9 328.9,280.9 328.9,282.1 329.3,282.1 329.3,283.3 329.6,283.3 329.6,284.6 330.1,284.6 330.1,285.8 330.6,285.8 330.6,287.0 331.1,287.0 331.1,288.2 331.5,288.2 331.5,289.4 332.3,289.4 332.3,290.6 333.6,290.6 333.6,291.8 334.9,291.8 334.9,293.0 336.2,293.0 336.2,294.3 337.4,294.3 337.4,295.5 338.6,295.5 338.6,296.8 340.0,296.8 340.0,298.1 341.4,298.1 341.4,299.4 343.2,299.4 343.2,300.8 345.7,300.8 345.7,302.2 347.1,302.2 347.1,303.7 348.5,303.7 348.5,305.2 349.9,305.2 349.9,306.7 351.5,306.7 351.5,308.3 354.5,308.3 354.5,310.0 356.3,310.0 356.3,311.8 358.0,311.8 358.0,313.7 359.6,313.7 359.6,315.5 413.3,315.5 413.3,321.5 431.0,321.5" fill="none" stroke="rgba(240,80,80,0.5)" stroke-width="0.8"/><polyline points="313.6,228.4 313.9,228.4 313.9,232.1 314.3,239.8 314.5,239.8 314.8,246.1 315.0,246.1 315.4,251.9 315.6,251.9 315.6,253.3 315.7,253.3 315.9,256.1 316.1,256.1 316.2,258.8 316.6,258.8 316.6,260.1 316.9,260.1 316.9,261.4 317.2,261.4 317.2,262.8 317.5,262.8 317.5,264.1 317.8,264.1 317.8,265.4 318.0,265.4 318.3,269.3 318.6,269.3 318.6,270.5 318.9,270.5 318.9,271.8 319.2,271.8 319.2,273.1 319.5,273.1 319.5,274.3 319.7,274.3 319.7,275.6 320.0,275.6 320.0,276.8 320.3,276.8 320.3,278.1 320.6,278.1 320.6,279.3 320.9,279.3 320.9,280.5 321.2,280.5 321.2,281.8 321.5,281.8 321.5,283.0 321.9,283.0 321.9,284.2 322.3,284.2 322.3,285.4 322.7,285.4 322.7,286.7 323.1,286.7 323.1,287.9 323.4,287.9 323.4,289.1 323.7,289.1 323.7,290.3 324.1,290.3 324.1,291.5 324.4,291.5 324.4,292.7 324.8,292.7 324.8,293.9 325.2,293.9 325.2,295.1 325.7,295.1 325.7,296.3 326.3,296.3 326.3,297.5 326.9,297.5 326.9,298.7 327.5,298.7 327.5,300.0 327.9,300.0 327.9,301.2 328.2,301.2 328.2,302.4 328.6,302.4 328.6,303.6 328.9,303.6 328.9,304.8 329.3,304.8 329.3,305.9 329.6,305.9 329.6,307.1 330.1,307.1 330.1,308.2 330.6,308.2 330.6,309.3 331.1,309.3 331.1,310.3 331.5,310.3 331.5,311.4 332.3,311.4 332.3,312.5 333.6,312.5 333.6,313.5 334.9,313.5 334.9,314.6 336.2,314.6 336.2,315.7 337.4,315.7 337.4,316.8 338.6,316.8 338.6,317.9 340.0,317.9 340.0,319.0 341.4,319.0 341.4,320.1 343.2,320.1 343.2,321.2 345.7,321.2 345.7,322.5 347.1,322.5 347.1,323.7 348.5,323.7 348.5,325.0 349.9,325.0 349.9,326.3 351.5,326.3 351.5,327.6 354.5,327.6 354.5,329.1 356.3,329.1 356.3,330.6 358.0,330.6 358.0,332.1 359.6,332.1 359.6,333.6 413.3,333.6 413.3,335.7 431.0,335.7" fill="none" stroke="rgba(240,80,80,0.5)" stroke-width="0.8"/><polyline points="313.6,228.4 313.9,228.4 314.8,239.3 315.0,239.3 315.1,241.7 315.3,241.7 315.4,244.0 315.6,244.0 315.9,247.5 316.1,247.5 316.2,249.8 316.6,249.8 316.6,251.0 316.9,251.0 316.9,252.2 317.2,252.2 317.2,253.3 317.5,253.3 317.5,254.5 317.8,254.5 317.8,255.7 318.0,255.7 318.3,259.2 318.6,259.2 318.6,260.3 318.9,260.3 318.9,261.5 319.2,261.5 319.2,262.7 319.5,262.7 319.5,263.8 319.7,263.8 319.7,265.0 320.0,265.0 320.0,266.1 320.3,266.1 320.3,267.3 320.6,267.3 320.6,268.5 320.9,268.5 320.9,269.6 321.2,269.6 321.2,270.8 321.5,270.8 321.5,272.0 321.9,272.0 321.9,273.1 322.3,273.1 322.3,274.3 322.7,274.3 322.7,275.5 323.1,275.5 323.1,276.7 323.4,276.7 323.4,277.8 323.7,277.8 323.7,279.0 324.1,279.0 324.1,280.2 324.4,280.2 324.4,281.4 324.8,281.4 324.8,282.6 325.2,282.6 325.2,283.7 325.7,283.7 325.7,284.9 326.3,284.9 326.3,286.1 326.9,286.1 326.9,287.3 327.5,287.3 327.5,288.6 327.9,288.6 327.9,289.8 328.2,289.8 328.2,291.0 328.6,291.0 328.6,292.2 328.9,292.2 328.9,293.4 329.3,293.4 329.3,294.6 329.6,294.6 329.6,295.8 330.1,295.8 330.1,297.0 330.6,297.0 330.6,298.1 331.1,298.1 331.1,299.3 331.5,299.3 331.5,300.4 332.3,300.4 332.3,301.5 333.6,301.5 333.6,302.7 334.9,302.7 334.9,303.8 336.2,303.8 336.2,305.0 337.4,305.0 337.4,306.2 338.6,306.2 338.6,307.4 340.0,307.4 340.0,308.6 341.4,308.6 341.4,309.8 343.2,309.8 343.2,311.0 345.7,311.0 345.7,312.3 347.1,312.3 347.1,313.7 348.5,313.7 348.5,315.1 349.9,315.1 349.9,316.5 351.5,316.5 351.5,318.0 354.5,318.0 354.5,319.6 356.3,319.6 356.3,321.2 358.0,321.2 358.0,322.9 359.6,322.9 359.6,324.6 413.3,324.6 413.3,328.6 431.0,328.6" fill="none" stroke="#cc2020" stroke-width="1.5" stroke-linejoin="miter"/>
<text x="145" y="12.35" font-size="6.75" text-anchor="middle" fill="#222" stroke="#222" style="stroke-width:0.02px">BP: median TTNT 17.0 months (95% CI 15.9–19.0)</text><text x="145" y="20.45" font-size="6.75" text-anchor="middle" fill="#222" stroke="#222" style="stroke-width:0.02px">CP: median TTNT 9.6 months (95% CI 8.1–11.1)</text><text x="145" y="28.55" font-size="6.75" text-anchor="middle" fill="#222" stroke="#222" style="stroke-width:0.02px">p&lt;0.0001</text><text x="429.5" y="12.4" font-size="6.75" text-anchor="middle" fill="#222" stroke="#222" style="stroke-width:0.02px">BP: median OS 59.4 months (95% CI 53.7–67.0)</text><text x="429.5" y="20.4" font-size="6.75" text-anchor="middle" fill="#222" stroke="#222" style="stroke-width:0.02px">CP: median OS 26.2 months (95% CI 22.6–183.0)</text><text x="429.5" y="28.4" font-size="6.75" text-anchor="middle" fill="#222" stroke="#222" style="stroke-width:0.02px">p&lt;0.0001</text><text x="145" y="236.6" font-size="6.75" text-anchor="middle" fill="#222" stroke="#222" style="stroke-width:0.02px">BP: median TTNT 17.0 months (95% CI 15.9–19.0)</text><text x="145" y="244.85" font-size="6.75" text-anchor="middle" fill="#222" stroke="#222" style="stroke-width:0.02px">CP/CRAB: median TTNT 11.0 months (95% CI 9.0–13.0)</text><text x="145" y="253.1" font-size="6.75" text-anchor="middle" fill="#222" stroke="#222" style="stroke-width:0.02px" textLength="173.5" lengthAdjust="spacingAndGlyphs">CP/aggressive: median TTNT 6.0 months (95% CI 4.0–7.4)</text><text x="145" y="261.35" font-size="6.75" text-anchor="middle" fill="#222" stroke="#222" style="stroke-width:0.02px">p&lt;0.0001</text><text x="429.5" y="236.6" font-size="6.75" text-anchor="middle" fill="#222" stroke="#222" style="stroke-width:0.02px">BP: median OS 59.4 months (95% CI 53.7–67.0)</text><text x="429.5" y="244.85" font-size="6.75" text-anchor="middle" fill="#222" stroke="#222" style="stroke-width:0.02px">CP/CRAB: median OS 28.1 months (95% CI 24.0–183.0)</text><text x="429.5" y="253.1" font-size="6.75" text-anchor="middle" fill="#222" stroke="#222" style="stroke-width:0.02px">CP/aggressive: median OS 17.2 months (95% CI 10.6–22.0)</text><text x="429.5" y="261.35" font-size="6.75" text-anchor="middle" fill="#222" stroke="#222" style="stroke-width:0.02px">p&lt;0.0001</text><text x="183.5" y="50.4" font-size="6.9" text-anchor="start" fill="#222" stroke="#222" textLength="47.3" lengthAdjust="spacingAndGlyphs">Type of relapse</text><line x1="183.0" y1="59.20" x2="193.0" y2="59.20" stroke="#4646b8" stroke-width="1.2"/><text x="196.0" y="62.0" font-size="7.7" text-anchor="start" fill="#222" stroke="#222" >BP</text><line x1="183.0" y1="69.10" x2="193.0" y2="69.10" stroke="#c44858" stroke-width="1.2"/><text x="196.0" y="71.9" font-size="7.7" text-anchor="start" fill="#222" stroke="#222" >CP</text><text x="461" y="50.4" font-size="6.9" text-anchor="start" fill="#222" stroke="#222" textLength="47.3" lengthAdjust="spacingAndGlyphs">Type of relapse</text><line x1="460.5" y1="59.20" x2="470.5" y2="59.20" stroke="#4646b8" stroke-width="1.2"/><text x="473.5" y="62.0" font-size="7.7" text-anchor="start" fill="#222" stroke="#222" >BP</text><line x1="460.5" y1="69.10" x2="470.5" y2="69.10" stroke="#c44858" stroke-width="1.2"/><text x="473.5" y="71.9" font-size="7.7" text-anchor="start" fill="#222" stroke="#222" >CP</text><text x="171.5" y="274.7" font-size="6.9" text-anchor="start" fill="#222" stroke="#222" textLength="47.3" lengthAdjust="spacingAndGlyphs">Type of relapse</text><line x1="171.0" y1="283.50" x2="181.0" y2="283.50" stroke="#4646b8" stroke-width="1.2"/><text x="184.0" y="286.3" font-size="7.7" text-anchor="start" fill="#222" stroke="#222" >BP</text><line x1="171.0" y1="293.40" x2="181.0" y2="293.40" stroke="#48b078" stroke-width="1.2"/><text x="184.0" y="296.2" font-size="7.7" text-anchor="start" fill="#222" stroke="#222" >CP/CRAB</text><line x1="171.0" y1="303.30" x2="181.0" y2="303.30" stroke="#c44858" stroke-width="1.2"/><text x="184.0" y="306.1" font-size="7.7" text-anchor="start" fill="#222" stroke="#222" textLength="46.8" lengthAdjust="spacingAndGlyphs">CP/aggressive</text><text x="460.7" y="274.09999999999997" font-size="6.9" text-anchor="start" fill="#222" stroke="#222" textLength="47.3" lengthAdjust="spacingAndGlyphs">Type of relapse</text><line x1="460.2" y1="282.90" x2="470.2" y2="282.90" stroke="#4646b8" stroke-width="1.2"/><text x="473.2" y="285.7" font-size="7.7" text-anchor="start" fill="#222" stroke="#222" >BP</text><line x1="460.2" y1="292.80" x2="470.2" y2="292.80" stroke="#48b078" stroke-width="1.2"/><text x="473.2" y="295.6" font-size="7.7" text-anchor="start" fill="#222" stroke="#222" >CP/CRAB</text><line x1="460.2" y1="302.70" x2="470.2" y2="302.70" stroke="#c44858" stroke-width="1.2"/><text x="473.2" y="305.5" font-size="7.7" text-anchor="start" fill="#222" stroke="#222" textLength="46.8" lengthAdjust="spacingAndGlyphs">CP/aggressive</text><text transform="translate(126.3,147.3) scale(0.765,1)" font-size="8.8" text-anchor="middle" fill="#111" stroke="#111" style="stroke-width:0.3px">Time (months)</text><text transform="translate(390.0,147.1) scale(0.765,1)" font-size="8.8" text-anchor="middle" fill="#111" stroke="#111" style="stroke-width:0.3px">Time (months)</text><text transform="translate(126.0,371.6) scale(0.765,1)" font-size="8.8" text-anchor="middle" fill="#111" stroke="#111" style="stroke-width:0.3px">Time (months)</text><text transform="translate(390.0,371.6) scale(0.765,1)" font-size="8.8" text-anchor="middle" fill="#111" stroke="#111" style="stroke-width:0.3px">Time (months)</text><text transform="translate(7.8,62) rotate(-90)" font-size="8.9" text-anchor="middle" fill="#111" stroke="#111" textLength="61.9" lengthAdjust="spacingAndGlyphs" style="stroke-width:0.25px">Proportion of patients</text><text transform="translate(19.9,62) rotate(-90)" font-size="8.9" text-anchor="middle" fill="#111" stroke="#111" textLength="86.6" lengthAdjust="spacingAndGlyphs" style="stroke-width:0.25px">free from 3rd line therapy (%)</text><text transform="translate(272.0,62) rotate(-90)" font-size="8.9" text-anchor="middle" fill="#111" stroke="#111" textLength="42.9" lengthAdjust="spacingAndGlyphs" style="stroke-width:0.25px">Overall survival</text><text transform="translate(283.5,62) rotate(-90)" font-size="8.9" text-anchor="middle" fill="#111" stroke="#111" textLength="59.8" lengthAdjust="spacingAndGlyphs" style="stroke-width:0.25px">from 1st relapse (%)</text><text transform="translate(7.8,286.2) rotate(-90)" font-size="8.9" text-anchor="middle" fill="#111" stroke="#111" textLength="61.9" lengthAdjust="spacingAndGlyphs" style="stroke-width:0.25px">Proportion of patients</text><text transform="translate(19.9,286.2) rotate(-90)" font-size="8.9" text-anchor="middle" fill="#111" stroke="#111" textLength="86.6" lengthAdjust="spacingAndGlyphs" style="stroke-width:0.25px">free from 3rd line therapy (%)</text><text transform="translate(272.0,286.2) rotate(-90)" font-size="8.9" text-anchor="middle" fill="#111" stroke="#111" textLength="42.9" lengthAdjust="spacingAndGlyphs" style="stroke-width:0.25px">Overall survival</text><text transform="translate(283.5,286.2) rotate(-90)" font-size="8.9" text-anchor="middle" fill="#111" stroke="#111" textLength="59.8" lengthAdjust="spacingAndGlyphs" style="stroke-width:0.25px">from 1st relapse (%)</text><text x="0.3" y="156.1" font-size="7.0" text-anchor="start" fill="#4242a0" stroke="#4242a0" >Number at risk</text><text x="0.3" y="165.1" font-size="7.4" text-anchor="start" fill="#3a3a8c" stroke="#3a3a8c" >Group: BP</text><text x="49.6" y="174.3" font-size="7.7" text-anchor="middle" fill="#222" stroke="#222" style="stroke-width:0.1px;letter-spacing:0.05px">754</text><text x="66.63" y="174.3" font-size="7.7" text-anchor="middle" fill="#222" stroke="#222" style="stroke-width:0.1px;letter-spacing:0.05px">334</text><text x="83.66" y="174.3" font-size="7.7" text-anchor="middle" fill="#222" stroke="#222" style="stroke-width:0.1px;letter-spacing:0.05px">162</text><text x="100.69" y="174.3" font-size="7.7" text-anchor="middle" fill="#222" stroke="#222" style="stroke-width:0.1px;letter-spacing:0.05px">60</text><text x="117.72" y="174.3" font-size="7.7" text-anchor="middle" fill="#222" stroke="#222" style="stroke-width:0.1px;letter-spacing:0.05px">27</text><text x="134.75" y="174.3" font-size="7.7" text-anchor="middle" fill="#222" stroke="#222" style="stroke-width:0.1px;letter-spacing:0.05px">15</text><text x="151.78" y="174.3" font-size="7.7" text-anchor="middle" fill="#222" stroke="#222" style="stroke-width:0.1px;letter-spacing:0.05px">10</text><text x="168.81" y="174.3" font-size="7.7" text-anchor="middle" fill="#222" stroke="#222" style="stroke-width:0.1px;letter-spacing:0.05px">4</text><text x="185.84" y="174.3" font-size="7.7" text-anchor="middle" fill="#222" stroke="#222" style="stroke-width:0.1px;letter-spacing:0.05px">1</text><text x="202.87" y="174.3" font-size="7.7" text-anchor="middle" fill="#222" stroke="#222" style="stroke-width:0.1px;letter-spacing:0.05px">0</text><text x="0.3" y="185.4" font-size="7.4" text-anchor="start" fill="#3a3a8c" stroke="#3a3a8c" >Group: CP</text><text x="49.6" y="194.0" font-size="7.7" text-anchor="middle" fill="#222" stroke="#222" style="stroke-width:0.1px;letter-spacing:0.05px">485</text><text x="66.63" y="194.0" font-size="7.7" text-anchor="middle" fill="#222" stroke="#222" style="stroke-width:0.1px;letter-spacing:0.05px">133</text><text x="83.66" y="194.0" font-size="7.7" text-anchor="middle" fill="#222" stroke="#222" style="stroke-width:0.1px;letter-spacing:0.05px">59</text><text x="100.69" y="194.0" font-size="7.7" text-anchor="middle" fill="#222" stroke="#222" style="stroke-width:0.1px;letter-spacing:0.05px">28</text><text x="117.72" y="194.0" font-size="7.7" text-anchor="middle" fill="#222" stroke="#222" style="stroke-width:0.1px;letter-spacing:0.05px">10</text><text x="134.75" y="194.0" font-size="7.7" text-anchor="middle" fill="#222" stroke="#222" style="stroke-width:0.1px;letter-spacing:0.05px">5</text><text x="151.78" y="194.0" font-size="7.7" text-anchor="middle" fill="#222" stroke="#222" style="stroke-width:0.1px;letter-spacing:0.05px">2</text><text x="168.81" y="194.0" font-size="7.7" text-anchor="middle" fill="#222" stroke="#222" style="stroke-width:0.1px;letter-spacing:0.05px">0</text><text x="185.84" y="194.0" font-size="7.7" text-anchor="middle" fill="#222" stroke="#222" style="stroke-width:0.1px;letter-spacing:0.05px">0</text><text x="202.87" y="194.0" font-size="7.7" text-anchor="middle" fill="#222" stroke="#222" style="stroke-width:0.1px;letter-spacing:0.05px">0</text><text x="264.0" y="156.1" font-size="7.0" text-anchor="start" fill="#4242a0" stroke="#4242a0" >Number at risk</text><text x="264.0" y="165.1" font-size="7.4" text-anchor="start" fill="#3a3a8c" stroke="#3a3a8c" >Group: BP</text><text x="313.4" y="174.3" font-size="7.7" text-anchor="middle" fill="#222" stroke="#222" style="stroke-width:0.1px;letter-spacing:0.05px">813</text><text x="328.75" y="174.3" font-size="7.7" text-anchor="middle" fill="#222" stroke="#222" style="stroke-width:0.1px;letter-spacing:0.05px">657</text><text x="344.1" y="174.3" font-size="7.7" text-anchor="middle" fill="#222" stroke="#222" style="stroke-width:0.1px;letter-spacing:0.05px">489</text><text x="359.45" y="174.3" font-size="7.7" text-anchor="middle" fill="#222" stroke="#222" style="stroke-width:0.1px;letter-spacing:0.05px">322</text><text x="374.8" y="174.3" font-size="7.7" text-anchor="middle" fill="#222" stroke="#222" style="stroke-width:0.1px;letter-spacing:0.05px">187</text><text x="390.15" y="174.3" font-size="7.7" text-anchor="middle" fill="#222" stroke="#222" style="stroke-width:0.1px;letter-spacing:0.05px">93</text><text x="405.5" y="174.3" font-size="7.7" text-anchor="middle" fill="#222" stroke="#222" style="stroke-width:0.1px;letter-spacing:0.05px">39</text><text x="420.85" y="174.3" font-size="7.7" text-anchor="middle" fill="#222" stroke="#222" style="stroke-width:0.1px;letter-spacing:0.05px">20</text><text x="436.2" y="174.3" font-size="7.7" text-anchor="middle" fill="#222" stroke="#222" style="stroke-width:0.1px;letter-spacing:0.05px">9</text><text x="451.55" y="174.3" font-size="7.7" text-anchor="middle" fill="#222" stroke="#222" style="stroke-width:0.1px;letter-spacing:0.05px">1</text><text x="466.9" y="174.3" font-size="7.7" text-anchor="middle" fill="#222" stroke="#222" style="stroke-width:0.1px;letter-spacing:0.05px">0</text><text x="264.0" y="185.4" font-size="7.4" text-anchor="start" fill="#3a3a8c" stroke="#3a3a8c" >Group: CP</text><text x="313.4" y="194.0" font-size="7.7" text-anchor="middle" fill="#222" stroke="#222" style="stroke-width:0.1px;letter-spacing:0.05px">534</text><text x="328.75" y="194.0" font-size="7.7" text-anchor="middle" fill="#222" stroke="#222" style="stroke-width:0.1px;letter-spacing:0.05px">308</text><text x="344.1" y="194.0" font-size="7.7" text-anchor="middle" fill="#222" stroke="#222" style="stroke-width:0.1px;letter-spacing:0.05px">195</text><text x="359.45" y="194.0" font-size="7.7" text-anchor="middle" fill="#222" stroke="#222" style="stroke-width:0.1px;letter-spacing:0.05px">122</text><text x="374.8" y="194.0" font-size="7.7" text-anchor="middle" fill="#222" stroke="#222" style="stroke-width:0.1px;letter-spacing:0.05px">76</text><text x="390.15" y="194.0" font-size="7.7" text-anchor="middle" fill="#222" stroke="#222" style="stroke-width:0.1px;letter-spacing:0.05px">43</text><text x="405.5" y="194.0" font-size="7.7" text-anchor="middle" fill="#222" stroke="#222" style="stroke-width:0.1px;letter-spacing:0.05px">21</text><text x="420.85" y="194.0" font-size="7.7" text-anchor="middle" fill="#222" stroke="#222" style="stroke-width:0.1px;letter-spacing:0.05px">10</text><text x="436.2" y="194.0" font-size="7.7" text-anchor="middle" fill="#222" stroke="#222" style="stroke-width:0.1px;letter-spacing:0.05px">4</text><text x="451.55" y="194.0" font-size="7.7" text-anchor="middle" fill="#222" stroke="#222" style="stroke-width:0.1px;letter-spacing:0.05px">1</text><text x="466.9" y="194.0" font-size="7.7" text-anchor="middle" fill="#222" stroke="#222" style="stroke-width:0.1px;letter-spacing:0.05px">0</text><text x="0.3" y="380.4" font-size="7.0" text-anchor="start" fill="#4242a0" stroke="#4242a0" >Number at risk</text><text x="0.3" y="389.6" font-size="7.4" text-anchor="start" fill="#3a3a8c" stroke="#3a3a8c" >Group: BP</text><text x="49.6" y="398.7" font-size="7.7" text-anchor="middle" fill="#222" stroke="#222" style="stroke-width:0.1px;letter-spacing:0.05px">754</text><text x="64.95" y="398.7" font-size="7.7" text-anchor="middle" fill="#222" stroke="#222" style="stroke-width:0.1px;letter-spacing:0.05px">334</text><text x="80.3" y="398.7" font-size="7.7" text-anchor="middle" fill="#222" stroke="#222" style="stroke-width:0.1px;letter-spacing:0.05px">162</text><text x="95.65" y="398.7" font-size="7.7" text-anchor="middle" fill="#222" stroke="#222" style="stroke-width:0.1px;letter-spacing:0.05px">60</text><text x="111.0" y="398.7" font-size="7.7" text-anchor="middle" fill="#222" stroke="#222" style="stroke-width:0.1px;letter-spacing:0.05px">27</text><text x="126.35" y="398.7" font-size="7.7" text-anchor="middle" fill="#222" stroke="#222" style="stroke-width:0.1px;letter-spacing:0.05px">15</text><text x="141.7" y="398.7" font-size="7.7" text-anchor="middle" fill="#222" stroke="#222" style="stroke-width:0.1px;letter-spacing:0.05px">10</text><text x="157.05" y="398.7" font-size="7.7" text-anchor="middle" fill="#222" stroke="#222" style="stroke-width:0.1px;letter-spacing:0.05px">4</text><text x="172.4" y="398.7" font-size="7.7" text-anchor="middle" fill="#222" stroke="#222" style="stroke-width:0.1px;letter-spacing:0.05px">1</text><text x="187.75" y="398.7" font-size="7.7" text-anchor="middle" fill="#222" stroke="#222" style="stroke-width:0.1px;letter-spacing:0.05px">0</text><text x="0.3" y="409.4" font-size="7.4" text-anchor="start" fill="#3a3a8c" stroke="#3a3a8c" >Group: CP/CRAB</text><text x="49.6" y="420.3" font-size="7.7" text-anchor="middle" fill="#222" stroke="#222" style="stroke-width:0.1px;letter-spacing:0.05px">399</text><text x="64.95" y="420.3" font-size="7.7" text-anchor="middle" fill="#222" stroke="#222" style="stroke-width:0.1px;letter-spacing:0.05px">118</text><text x="80.3" y="420.3" font-size="7.7" text-anchor="middle" fill="#222" stroke="#222" style="stroke-width:0.1px;letter-spacing:0.05px">50</text><text x="95.65" y="420.3" font-size="7.7" text-anchor="middle" fill="#222" stroke="#222" style="stroke-width:0.1px;letter-spacing:0.05px">24</text><text x="111.0" y="420.3" font-size="7.7" text-anchor="middle" fill="#222" stroke="#222" style="stroke-width:0.1px;letter-spacing:0.05px">8</text><text x="126.35" y="420.3" font-size="7.7" text-anchor="middle" fill="#222" stroke="#222" style="stroke-width:0.1px;letter-spacing:0.05px">4</text><text x="141.7" y="420.3" font-size="7.7" text-anchor="middle" fill="#222" stroke="#222" style="stroke-width:0.1px;letter-spacing:0.05px">1</text><text x="157.05" y="420.3" font-size="7.7" text-anchor="middle" fill="#222" stroke="#222" style="stroke-width:0.1px;letter-spacing:0.05px">0</text><text x="172.4" y="420.3" font-size="7.7" text-anchor="middle" fill="#222" stroke="#222" style="stroke-width:0.1px;letter-spacing:0.05px">0</text><text x="187.75" y="420.3" font-size="7.7" text-anchor="middle" fill="#222" stroke="#222" style="stroke-width:0.1px;letter-spacing:0.05px">0</text><text x="0.3" y="431.2" font-size="7.4" text-anchor="start" fill="#3a3a8c" stroke="#3a3a8c" >Group: CP/aggressive</text><text x="49.6" y="441.7" font-size="7.7" text-anchor="middle" fill="#222" stroke="#222" style="stroke-width:0.1px;letter-spacing:0.05px">86</text><text x="64.95" y="441.7" font-size="7.7" text-anchor="middle" fill="#222" stroke="#222" style="stroke-width:0.1px;letter-spacing:0.05px">15</text><text x="80.3" y="441.7" font-size="7.7" text-anchor="middle" fill="#222" stroke="#222" style="stroke-width:0.1px;letter-spacing:0.05px">9</text><text x="95.65" y="441.7" font-size="7.7" text-anchor="middle" fill="#222" stroke="#222" style="stroke-width:0.1px;letter-spacing:0.05px">4</text><text x="111.0" y="441.7" font-size="7.7" text-anchor="middle" fill="#222" stroke="#222" style="stroke-width:0.1px;letter-spacing:0.05px">2</text><text x="126.35" y="441.7" font-size="7.7" text-anchor="middle" fill="#222" stroke="#222" style="stroke-width:0.1px;letter-spacing:0.05px">1</text><text x="141.7" y="441.7" font-size="7.7" text-anchor="middle" fill="#222" stroke="#222" style="stroke-width:0.1px;letter-spacing:0.05px">1</text><text x="157.05" y="441.7" font-size="7.7" text-anchor="middle" fill="#222" stroke="#222" style="stroke-width:0.1px;letter-spacing:0.05px">0</text><text x="172.4" y="441.7" font-size="7.7" text-anchor="middle" fill="#222" stroke="#222" style="stroke-width:0.1px;letter-spacing:0.05px">0</text><text x="187.75" y="441.7" font-size="7.7" text-anchor="middle" fill="#222" stroke="#222" style="stroke-width:0.1px;letter-spacing:0.05px">0</text><text x="264.0" y="380.4" font-size="7.0" text-anchor="start" fill="#4242a0" stroke="#4242a0" >Number at risk</text><text x="264.0" y="389.6" font-size="7.4" text-anchor="start" fill="#3a3a8c" stroke="#3a3a8c" >Group: BP</text><text x="313.6" y="398.7" font-size="7.7" text-anchor="middle" fill="#222" stroke="#222" style="stroke-width:0.1px;letter-spacing:0.05px">813</text><text x="328.95" y="398.7" font-size="7.7" text-anchor="middle" fill="#222" stroke="#222" style="stroke-width:0.1px;letter-spacing:0.05px">657</text><text x="344.3" y="398.7" font-size="7.7" text-anchor="middle" fill="#222" stroke="#222" style="stroke-width:0.1px;letter-spacing:0.05px">489</text><text x="359.65" y="398.7" font-size="7.7" text-anchor="middle" fill="#222" stroke="#222" style="stroke-width:0.1px;letter-spacing:0.05px">322</text><text x="375.0" y="398.7" font-size="7.7" text-anchor="middle" fill="#222" stroke="#222" style="stroke-width:0.1px;letter-spacing:0.05px">187</text><text x="390.35" y="398.7" font-size="7.7" text-anchor="middle" fill="#222" stroke="#222" style="stroke-width:0.1px;letter-spacing:0.05px">93</text><text x="405.7" y="398.7" font-size="7.7" text-anchor="middle" fill="#222" stroke="#222" style="stroke-width:0.1px;letter-spacing:0.05px">39</text><text x="421.05" y="398.7" font-size="7.7" text-anchor="middle" fill="#222" stroke="#222" style="stroke-width:0.1px;letter-spacing:0.05px">20</text><text x="436.4" y="398.7" font-size="7.7" text-anchor="middle" fill="#222" stroke="#222" style="stroke-width:0.1px;letter-spacing:0.05px">9</text><text x="451.75" y="398.7" font-size="7.7" text-anchor="middle" fill="#222" stroke="#222" style="stroke-width:0.1px;letter-spacing:0.05px">1</text><text x="467.1" y="398.7" font-size="7.7" text-anchor="middle" fill="#222" stroke="#222" style="stroke-width:0.1px;letter-spacing:0.05px">0</text><text x="264.0" y="409.4" font-size="7.4" text-anchor="start" fill="#3a3a8c" stroke="#3a3a8c" >Group: CP/CRAB</text><text x="313.6" y="420.3" font-size="7.7" text-anchor="middle" fill="#222" stroke="#222" style="stroke-width:0.1px;letter-spacing:0.05px">440</text><text x="328.95" y="420.3" font-size="7.7" text-anchor="middle" fill="#222" stroke="#222" style="stroke-width:0.1px;letter-spacing:0.05px">266</text><text x="344.3" y="420.3" font-size="7.7" text-anchor="middle" fill="#222" stroke="#222" style="stroke-width:0.1px;letter-spacing:0.05px">169</text><text x="359.65" y="420.3" font-size="7.7" text-anchor="middle" fill="#222" stroke="#222" style="stroke-width:0.1px;letter-spacing:0.05px">110</text><text x="375.0" y="420.3" font-size="7.7" text-anchor="middle" fill="#222" stroke="#222" style="stroke-width:0.1px;letter-spacing:0.05px">68</text><text x="390.35" y="420.3" font-size="7.7" text-anchor="middle" fill="#222" stroke="#222" style="stroke-width:0.1px;letter-spacing:0.05px">37</text><text x="405.7" y="420.3" font-size="7.7" text-anchor="middle" fill="#222" stroke="#222" style="stroke-width:0.1px;letter-spacing:0.05px">15</text><text x="421.05" y="420.3" font-size="7.7" text-anchor="middle" fill="#222" stroke="#222" style="stroke-width:0.1px;letter-spacing:0.05px">8</text><text x="436.4" y="420.3" font-size="7.7" text-anchor="middle" fill="#222" stroke="#222" style="stroke-width:0.1px;letter-spacing:0.05px">4</text><text x="451.75" y="420.3" font-size="7.7" text-anchor="middle" fill="#222" stroke="#222" style="stroke-width:0.1px;letter-spacing:0.05px">1</text><text x="467.1" y="420.3" font-size="7.7" text-anchor="middle" fill="#222" stroke="#222" style="stroke-width:0.1px;letter-spacing:0.05px">0</text><text x="264.0" y="431.2" font-size="7.4" text-anchor="start" fill="#3a3a8c" stroke="#3a3a8c" >Group: CP/aggressive</text><text x="313.6" y="441.7" font-size="7.7" text-anchor="middle" fill="#222" stroke="#222" style="stroke-width:0.1px;letter-spacing:0.05px">94</text><text x="328.95" y="441.7" font-size="7.7" text-anchor="middle" fill="#222" stroke="#222" style="stroke-width:0.1px;letter-spacing:0.05px">42</text><text x="344.3" y="441.7" font-size="7.7" text-anchor="middle" fill="#222" stroke="#222" style="stroke-width:0.1px;letter-spacing:0.05px">26</text><text x="359.65" y="441.7" font-size="7.7" text-anchor="middle" fill="#222" stroke="#222" style="stroke-width:0.1px;letter-spacing:0.05px">12</text><text x="375.0" y="441.7" font-size="7.7" text-anchor="middle" fill="#222" stroke="#222" style="stroke-width:0.1px;letter-spacing:0.05px">8</text><text x="390.35" y="441.7" font-size="7.7" text-anchor="middle" fill="#222" stroke="#222" style="stroke-width:0.1px;letter-spacing:0.05px">6</text><text x="405.7" y="441.7" font-size="7.7" text-anchor="middle" fill="#222" stroke="#222" style="stroke-width:0.1px;letter-spacing:0.05px">6</text><text x="421.05" y="441.7" font-size="7.7" text-anchor="middle" fill="#222" stroke="#222" style="stroke-width:0.1px;letter-spacing:0.05px">2</text><text x="436.4" y="441.7" font-size="7.7" text-anchor="middle" fill="#222" stroke="#222" style="stroke-width:0.1px;letter-spacing:0.05px">0</text><text x="451.75" y="441.7" font-size="7.7" text-anchor="middle" fill="#222" stroke="#222" style="stroke-width:0.1px;letter-spacing:0.05px">0</text><text x="467.1" y="441.7" font-size="7.7" text-anchor="middle" fill="#222" stroke="#222" style="stroke-width:0.1px;letter-spacing:0.05px">0</text>
</svg>
</body></html>
